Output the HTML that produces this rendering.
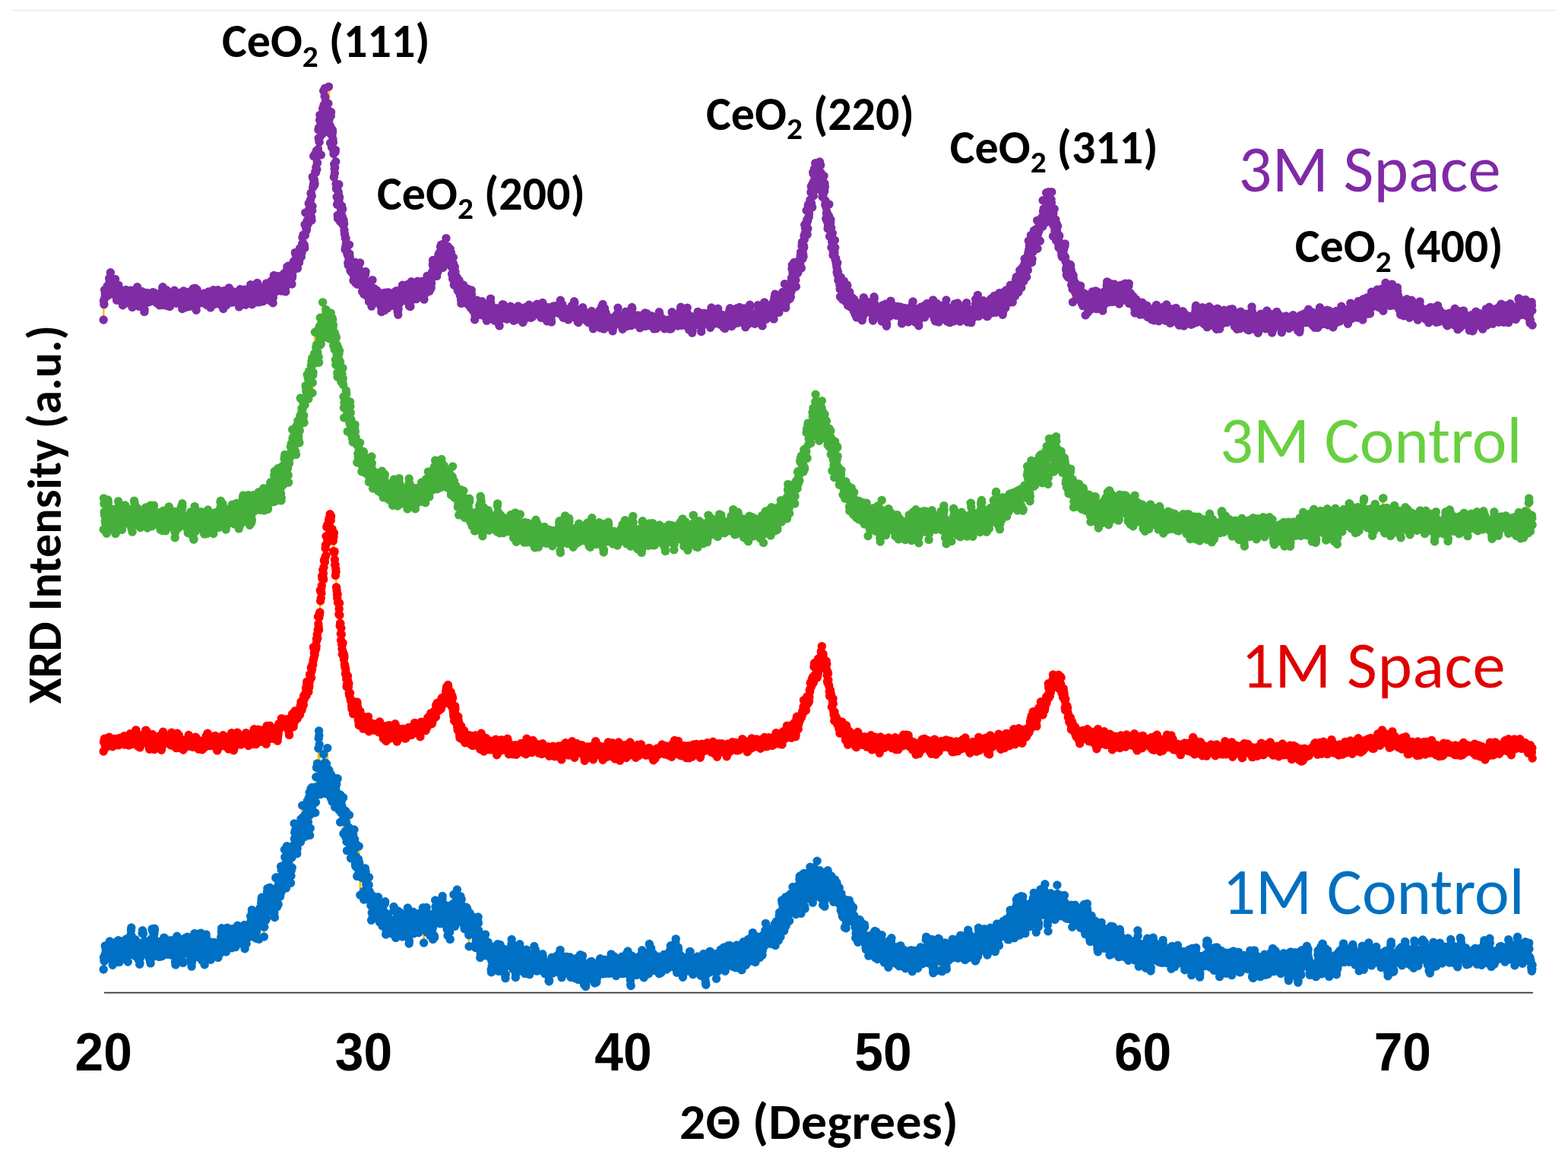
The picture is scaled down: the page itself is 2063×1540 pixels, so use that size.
<!DOCTYPE html>
<html><head><meta charset="utf-8"><title>XRD</title>
<style>html,body{margin:0;padding:0;background:#fff;overflow:hidden}svg{display:block}</style>
</head><body>
<svg width="2063" height="1540" viewBox="0 0 2063 1540">
<rect width="2063" height="1540" fill="#fff"/>
<line x1="14" y1="13.5" x2="2048" y2="13.5" stroke="#e6e6e6" stroke-width="1.2"/>
<path transform="scale(.1)" d="M1362 12760L1365 12602M1379 12570L1383 12449M1478 12562L1482 12702M1512 12671L1516 12561M1564 12515L1567 12629M1570 12664L1574 12504M1666 12386L1670 12536M1714 12480L1717 12367M1731 12317L1735 12513M1741 12515L1745 12385M1752 12367L1755 12490M1813 12461L1817 12590M1823 12538L1827 12423M1830 12432L1834 12595M1868 12449L1871 12284M1895 12525L1899 12400M1960 12501L1964 12615M1974 12544L1977 12660M1991 12520L1994 12376M1998 12352L2001 12228M2008 12361L2011 12482M2035 12245L2039 12512M2070 12450L2073 12565M2104 12444L2107 12576M2128 12464L2131 12575M2169 12514L2172 12381M2175 12356L2179 12483M2254 12378L2258 12491M2275 12450L2278 12580M2281 12532L2285 12399M2302 12471L2305 12662M2316 12643L2319 12513M2319 12513L2322 12340M2350 12436L2353 12584M2374 12556L2377 12444M2404 12529L2408 12674M2411 12659L2415 12532M2459 12484L2463 12350M2548 12450L2551 12321M2562 12334L2565 12482M2603 12477L2606 12333M2616 12378L2620 12524M2630 12460L2633 12332M2647 12333L2651 12470M2678 12355L2681 12496M2692 12698L2695 12554M2702 12493L2705 12327M2770 12508L2774 12632M2777 12618L2780 12500M2818 12404L2821 12530M2917 12217L2921 12409M2924 12402L2927 12278M2938 12428L2941 12286M2951 12304L2955 12430M2958 12399L2962 12270M2962 12270L2965 12435M2975 12529L2979 12328M3009 12351L3013 12221M3054 12404L3057 12246M3061 12227L3064 12379M3095 12283L3098 12466M3109 12380L3112 12202M3112 12202L3115 12320M3122 12342L3126 12183M3133 12188L3136 12351M3150 12286L3153 12419M3160 12346L3163 12229M3201 12326L3204 12193M3204 12193L3208 12362M3208 12362L3211 12250M3218 12255L3221 12487M3221 12487L3225 12336M3228 12384L3232 12255M3293 12252L3297 12059M3300 12125L3303 12304M3307 12253L3310 12069M3317 12006L3321 12288M3341 12275L3344 12156M3365 12094L3368 12257M3375 12266L3379 12091M3389 12163L3392 12016M3406 12074L3409 12363M3409 12363L3413 12194M3416 12138L3420 11950M3430 11984L3433 12130M3433 12130L3437 11884M3444 11812L3447 12111M3457 12134L3461 11973M3464 12004L3467 12135M3471 12202L3474 12330M3474 12330L3478 12201M3478 12201L3481 11899M3481 11899L3485 12030M3512 12001L3515 11743M3519 11695L3522 11890M3529 11873L3532 11986M3532 11986L3536 11844M3546 11856L3550 11682M3550 11682L3553 11800M3553 11800L3556 11949M3563 11965L3567 11792M3570 11739L3573 11865M3577 11895L3580 11755M3594 11917L3597 11778M3604 11704L3608 12019M3611 11961L3614 12075M3614 12075L3618 11963M3621 11900L3625 11776M3625 11776L3628 11554M3628 11554L3632 11692M3632 11692L3635 11548M3635 11548L3638 11738M3642 11736L3645 11937M3649 11926L3652 11771M3655 11702L3659 11910M3662 11903L3666 11617M3690 11768L3693 11543M3693 11543L3696 11405M3696 11405L3700 11571M3700 11571L3703 11453M3703 11453L3707 11729M3707 11729L3710 11615M3727 11660L3731 11489M3741 11503L3744 11182M3761 11506L3765 11689M3765 11689L3768 11486M3768 11486L3772 11355M3772 11355L3775 11136M3775 11136L3779 11372M3782 11383L3785 11599M3785 11599L3789 11459M3789 11459L3792 11339M3796 11360L3799 11231M3806 11258L3809 11488M3809 11488L3813 11270M3813 11270L3816 11441M3823 11409L3826 11622M3833 11458L3837 11288M3840 11288L3843 11420M3843 11420L3847 11214M3861 11238L3864 11125M3867 11151L3871 10840M3871 10840L3874 11040M3878 10959L3881 11089M3881 11089L3884 10931M3902 10993L3905 11227M3915 11097L3919 10946M3919 10946L3922 11079M3943 10970L3946 10858M3949 10869L3953 11066M3956 11081L3960 10781M3960 10781L3963 10914M3973 10816L3977 10603M3977 10603L3980 10827M3984 10757L3987 11011M4001 10805L4004 11016M4004 11016L4008 10736M4008 10736L4011 10898M4011 10898L4014 10783M4018 10721L4021 10857M4028 11003L4031 10602M4031 10602L4035 10712M4052 10634L4055 10821M4055 10821L4059 10559M4062 10502L4066 10667M4069 10679L4072 10431M4072 10431L4076 10994M4076 10994L4079 10727M4079 10727L4083 10903M4083 10903L4086 10482M4093 10489L4096 10656M4096 10656L4100 10509M4100 10509L4103 10365M4110 10379L4113 10601M4113 10601L4117 10448M4117 10448L4120 10580M4141 10543L4144 10362M4144 10362L4148 10698M4148 10698L4151 10477M4155 10560L4158 10228M4158 10228L4161 10395M4161 10395L4165 10104M4165 10104L4168 10385M4172 10464L4175 10049M4178 10062L4182 10404M4185 10406L4189 9850M4189 9850L4192 9720M4199 9680L4202 9800M4202 9800L4206 10090M4206 10090L4209 10331M4223 10303L4226 10169M4226 10169L4230 10293M4233 10330L4237 10197M4237 10197L4240 10336M4243 10328L4247 10191M4250 10116L4254 10327M4254 10327L4257 9927M4257 9927L4260 10165M4264 10080L4267 10197M4267 10197L4271 10425M4271 10425L4274 10037M4274 10037L4278 10346M4281 10359L4284 10225M4288 10181L4291 10448M4291 10448L4295 10053M4295 10053L4298 10358M4298 10358L4301 10182M4301 10182L4305 10336M4305 10336L4308 9846M4308 9846L4312 10355M4312 10355L4315 10244M4319 10265L4322 10129M4322 10129L4325 10372M4325 10372L4329 10137M4329 10137L4332 10338M4339 10266L4342 10477M4346 10480L4349 10331M4349 10331L4353 10191M4353 10191L4356 10512M4356 10512L4360 10208M4366 10283L4370 10551M4370 10551L4373 10378M4384 10548L4387 10400M4390 10477L4394 10305M4394 10305L4397 10427M4404 10491L4407 10624M4411 10602L4414 10421M4418 10366L4421 10247M4428 10323L4431 10546M4438 10465L4442 10247M4442 10247L4445 10443M4459 10515L4462 10665M4462 10665L4466 10475M4466 10475L4469 10597M4472 10628L4476 10822M4476 10822L4479 10463M4479 10463L4483 10629M4489 10699L4493 10542M4503 10802L4507 10674M4510 10642L4513 10810M4513 10810L4517 10498M4517 10498L4520 10974M4520 10974L4524 10801M4541 10703L4544 10940M4548 11016L4551 10677M4554 10714L4558 10832M4558 10832L4561 11079M4561 11079L4565 11196M4565 11196L4568 11042M4572 10944L4575 11055M4578 11070L4582 11197M4582 11197L4585 11046M4585 11046L4589 11183M4589 11183L4592 10894M4592 10894L4595 10728M4595 10728L4599 11105M4613 10976L4616 11296M4616 11296L4619 11066M4633 11133L4636 11260M4636 11260L4640 11058M4643 11109L4647 10988M4647 10988L4650 11201M4657 11087L4660 10920M4660 10920L4664 11104M4667 11048L4671 11169M4671 11169L4674 11379M4691 11393L4695 11120M4695 11120L4698 11534M4718 11375L4722 11139M4722 11139L4725 11347M4729 11366L4732 11497M4736 11519L4739 11781M4739 11781L4742 11480M4780 11507L4783 11733M4794 11829L4797 11545M4801 11563L4804 11429M4814 11517L4818 11641M4821 11650L4824 11762M4828 11833L4831 11638M4855 11547L4859 11730M4876 11762L4879 11918M4879 11918L4883 11789M4883 11789L4886 12112M4886 12112L4889 11929M4893 12012L4896 11816M4896 11816L4900 12072M4913 11959L4917 12085M4917 12085L4920 11854M4947 12033L4951 11901M4958 11995L4961 11873M4975 11808L4978 12022M4995 12140L4999 11954M4999 11954L5002 12082M5026 11962L5030 12187M5033 12111L5036 11944M5043 11990L5047 12175M5047 12175L5050 12043M5060 12065L5064 11893M5067 11868L5071 12093M5074 12175L5077 12300M5088 12203L5091 12049M5176 12183L5180 11935M5187 11952L5190 12208M5194 12142L5197 12282M5204 12175L5207 12345M5207 12345L5211 12187M5214 12206L5218 12095M5286 12047L5289 12181M5296 12330L5300 12099M5306 12282L5310 12134M5323 12148L5327 12315M5330 12224L5334 12082M5361 12066L5364 11950M5371 12031L5375 12152M5375 12152L5378 12337M5385 12387L5388 12255M5392 12249L5395 12130M5402 12238L5405 12081M5405 12081L5409 12226M5433 12206L5436 12003M5436 12003L5440 12289M5440 12289L5443 12026M5450 12080L5453 12217M5470 12044L5474 12165M5477 12072L5481 12207M5494 12101L5498 12233M5511 12261L5515 12043M5546 12113L5549 12232M5559 12076L5563 12197M5563 12197L5566 11946M5566 11946L5570 12200M5573 12230L5576 12410M5576 12410L5580 12222M5580 12222L5583 12014M5590 12056L5593 12212M5611 11945L5614 12084M5614 12084L5617 12272M5621 12226L5624 12107M5634 12239L5638 12029M5658 12138L5662 12320M5662 12320L5665 12063M5679 12176L5682 12064M5686 12089L5689 12230M5693 12202L5696 12364M5696 12364L5699 12194M5710 12156L5713 12315M5717 12338L5720 12058M5723 12009L5727 11850M5730 11936L5734 12092M5740 12133L5744 11980M5747 11940L5751 12066M5758 12078L5761 11882M5792 12157L5795 12007M5799 12034L5802 11921M5822 11795L5826 12125M5829 12133L5833 11914M5843 11963L5846 12163M5846 12163L5850 12033M5877 12093L5881 12231M5887 12137L5891 12314M5891 12314L5894 12027M5911 11925L5915 12180M5922 12364L5925 12093M5966 11891L5969 11775M5969 11775L5973 11948M5973 11948L5976 12083M5983 12072L5987 12192M5997 12130L6000 11962M6010 11885L6014 11710M6014 11710L6017 11978M6034 11855L6038 11978M6045 11936L6048 11795M6051 11824L6055 12018M6055 12018L6058 11796M6079 11998L6082 12117M6106 12059L6110 12213M6116 12189L6120 11989M6120 11989L6123 12148M6134 12081L6137 11942M6147 11960L6151 12160M6161 12131L6164 12268M6168 12308L6171 12458M6171 12458L6175 12275M6175 12275L6178 12050M6181 12017L6185 12140M6192 12175L6195 12296M6222 12094L6226 12267M6250 12314L6253 12434M6257 12474L6260 12284M6270 12401L6274 12260M6277 12270L6281 12382M6281 12382L6284 12242M6284 12242L6287 12125M6315 12415L6318 12605M6356 12535L6359 12407M6363 12466L6366 12346M6369 12441L6373 12319M6386 12300L6390 12462M6390 12462L6393 12578M6400 12578L6404 12412M6421 12401L6424 12531M6458 12617L6462 12763M6465 12797L6468 12644M6486 12753L6489 12581M6489 12581L6492 12463M6544 12577L6547 12427M6557 12603L6561 12784M6568 12711L6571 12579M6585 12541L6588 12665M6626 12769L6629 12655M6636 12493L6639 12624M6639 12624L6643 12735M6653 12826L6656 12675M6656 12675L6660 12554M6735 12418L6739 12541M6780 12717L6783 12864M6790 12796L6793 12682M6841 12511L6844 12664M6851 12653L6855 12490M6858 12545L6862 12675M6916 12675L6920 12559M6981 12685L6985 12565M7022 12660L7026 12542M7132 12693L7135 12581M7354 12679L7357 12801M7361 12720L7364 12602M7374 12585L7378 12721M7453 12604L7456 12723M7504 12663L7508 12774M7514 12760L7518 12636M7709 12964L7713 12799M7815 12753L7819 12874M7890 12770L7894 12633M8020 12802L8024 12675M8174 12752L8177 12619M8181 12592L8184 12759M8263 12582L8266 12727M8301 12975L8304 12820M8318 12582L8321 12700M8359 12772L8362 12656M8365 12606L8369 12722M8376 12835L8379 12703M8434 12708L8437 12823M8441 12750L8444 12591M8465 12637L8468 12773M8475 12855L8478 12744M8536 12767L8540 12593M8540 12593L8543 12425M8567 12482L8571 12612M8584 12775L8588 12605M8653 12589L8656 12710M8823 12448L8827 12559M8858 12607L8861 12730M8878 12679L8882 12485M8895 12466L8899 12650M8912 12664L8916 12552M8926 12500L8929 12657M8933 12745L8936 12624M9073 12660L9076 12524M9087 12645L9090 12791M9251 12724L9254 12598M9288 12963L9292 12796M9336 12649L9340 12521M9346 12668L9350 12792M9394 12594L9398 12762M9418 12615L9422 12797M9425 12883L9428 12703M9428 12703L9432 12556M9435 12559L9439 12742M9528 12500L9531 12686M9548 12728L9552 12606M9562 12684L9565 12518M9599 12567L9603 12445M9634 12550L9637 12708M9688 12702L9692 12515M9705 12496L9709 12612M9740 12597L9743 12709M9760 12767L9763 12620M9880 12649L9883 12465M9890 12478L9893 12644M9893 12644L9897 12416M9910 12410L9914 12537M9938 12665L9941 12532M9948 12488L9951 12327M9965 12546L9969 12430M9992 12485L9996 12604M9999 12570L10003 12419M10006 12330L10010 12539M10033 12513L10037 12375M10064 12367L10068 12246M10071 12315L10074 12154M10074 12154L10078 12284M10078 12284L10081 12401M10088 12424L10092 12274M10160 12357L10163 12223M10180 12430L10184 12298M10187 12280L10191 12162M10198 12295L10201 12444M10201 12444L10204 12324M10211 12403L10215 12129M10235 12293L10239 12133M10239 12133L10242 12380M10242 12380L10245 12159M10259 12116L10262 12252M10273 12231L10276 12091M10283 12018L10286 11850M10290 11884L10293 12144M10297 12059L10300 11935M10300 11935L10303 12125M10327 12087L10331 11955M10334 11988L10338 11806M10338 11806L10341 12186M10362 11951L10365 12067M10365 12067L10368 11914M10382 11893L10386 12121M10386 12121L10389 11923M10392 11925L10396 11770M10396 11770L10399 11919M10406 11805L10409 11926M10420 11936L10423 11781M10427 11812L10430 11675M10430 11675L10433 12003M10440 11894L10444 11773M10495 11898L10498 11658M10515 11740L10519 11574M10526 11568L10529 11878M10536 11827L10539 12024M10539 12024L10543 11898M10543 11898L10546 11765M10550 11661L10553 11514M10553 11514L10556 11696M10563 11716L10567 11572M10570 11521L10574 11786M10574 11786L10577 11495M10580 11601L10584 11735M10584 11735L10587 11934M10591 11960L10594 11771M10594 11771L10597 11559M10611 11672L10615 11495M10615 11495L10618 11618M10618 11618L10621 11830M10621 11830L10625 11714M10628 11707L10632 11527M10652 11667L10656 11782M10656 11782L10659 11413M10659 11413L10662 11642M10683 11619L10686 11743M10686 11743L10690 11861M10697 11800L10700 11503M10707 11559L10710 11418M10710 11418L10714 11538M10714 11538L10717 11731M10717 11731L10720 11606M10724 11556L10727 11803M10727 11803L10731 11476M10731 11476L10734 11672M10734 11672L10738 11536M10748 11494L10751 11333M10751 11333L10755 11471M10765 11485L10768 11630M10772 11589L10775 11459M10799 11577L10803 11825M10806 11803L10809 11613M10809 11613L10813 11735M10816 11703L10820 11490M10820 11490L10823 11825M10850 11931L10854 11714M10857 11759L10861 11639M10878 11766L10881 11626M10888 11648L10891 11458M10895 11500L10898 11777M10898 11777L10902 11621M10902 11621L10905 11505M10905 11505L10908 11643M10908 11643L10912 11531M10919 11641L10922 11759M10926 11809L10929 11691M10929 11691L10932 11553M10932 11553L10936 11771M10936 11771L10939 11532M10953 11729L10956 11595M10956 11595L10960 11735M10967 11873L10970 11724M10984 11576L10987 11809M10994 11643L10997 11763M11004 11730L11008 11616M11008 11616L11011 11751M11014 11770L11018 11654M11028 11680L11032 11792M11035 11761L11038 11886M11038 11886L11042 11686M11045 11776L11049 11907M11062 11983L11066 11845M11069 11761L11073 12007M11073 12007L11076 11813M11079 11836L11083 12058M11093 12040L11096 11903M11110 11895L11114 12207M11117 12208L11120 12070M11120 12070L11124 12191M11155 12058L11158 11937M11158 11937L11161 12094M11165 12124L11168 11926M11178 11894L11182 12043M11192 12022L11196 11909M11196 11909L11199 12033M11206 12128L11209 11949M11209 11949L11213 12059M11226 11945L11230 12087M11254 12131L11257 12347M11291 12355L11295 12223M11319 12195L11322 12313M11339 12327L11343 12152M11377 12202L11380 12322M11425 12395L11428 12581M11428 12581L11431 12466M11435 12484L11438 12324M11466 12399L11469 12540M11486 12521L11490 12294M11510 12255L11513 12449M11513 12449L11517 12606M11520 12503L11524 12362M11537 12319L11541 12469M11541 12469L11544 12625M11582 12341L11585 12456M11585 12456L11589 12585M11626 12400L11630 12548M11630 12548L11633 12669M11633 12669L11637 12507M11640 12532L11643 12417M11688 12732L11691 12570M11695 12544L11698 12381M11732 12441L11736 12628M11773 12678L11777 12564M11787 12583L11790 12468M11804 12558L11807 12694M11807 12694L11811 12561M11907 12534L11910 12725M11934 12570L11937 12683M11941 12731L11944 12595M11975 12721L11978 12572M11989 12534L11992 12645M11999 12633L12002 12786M12019 12670L12023 12554M12040 12515L12043 12645M12077 12700L12081 12587M12125 12531L12129 12684M12180 12490L12183 12369M12190 12346L12194 12464M12194 12464L12197 12657M12238 12562L12241 12686M12259 12364L12262 12521M12286 12711L12289 12592M12358 12375L12361 12608M12361 12608L12365 12777M12368 12777L12371 12653M12388 12496L12392 12653M12392 12653L12395 12786M12395 12786L12399 12637M12399 12637L12402 12502M12423 12615L12426 12438M12447 12558L12450 12729M12532 12362L12535 12481M12607 12564L12611 12439M12638 12311L12641 12491M12689 12408L12693 12536M12727 12499L12730 12285M12761 12425L12764 12600M12826 12398L12829 12554M12850 12517L12853 12390M12857 12407L12860 12558M12867 12586L12870 12384M12870 12384L12874 12213M12898 12495L12901 12308M12976 12445L12980 12309M12980 12309L12983 12420M12983 12420L12987 12540M12993 12558L12997 12444M13000 12525L13004 12385M13017 12461L13021 12346M13062 12220L13065 12338M13117 12160L13120 12286M13130 12442L13134 12317M13137 12271L13140 12430M13144 12446L13147 12283M13147 12283L13151 12168M13154 12175L13158 12336M13158 12336L13161 12190M13236 12234L13240 12098M13253 12184L13257 12352M13260 12366L13263 12250M13274 12367L13277 12227M13287 12159L13291 11979M13311 12251L13315 12133M13322 11978L13325 12100M13346 12346L13349 12227M13356 12302L13359 12156M13359 12156L13363 12016M13376 11904L13380 12038M13383 12041L13387 11868M13397 11821L13400 12010M13404 11933L13407 12175M13410 12175L13414 12310M13417 12212L13421 12099M13431 12128L13434 11796M13434 11796L13438 12101M13441 12154L13445 12013M13455 11919L13458 11803M13462 11873L13465 12076M13469 12034L13472 11913M13472 11913L13475 12030M13475 12030L13479 12147M13486 12118L13489 12286M13530 12111L13533 11978M13544 12035L13547 11898M13547 11898L13551 12198M13568 12112L13571 11906M13571 11906L13575 12070M13602 11753L13605 11930M13612 11903L13616 11779M13616 11779L13619 11998M13629 12101L13633 12271M13633 12271L13636 12011M13643 12082L13646 11889M13653 11891L13657 12079M13667 12149L13670 11902M13680 11828L13684 11977M13687 11938L13691 11706M13694 11768L13698 11965M13725 11915L13728 12041M13728 12041L13732 11898M13735 11922L13739 11717M13745 11845L13749 11638M13749 11638L13752 11796M13763 11809L13766 12035M13766 12035L13769 11846M13769 11846L13773 11980M13780 11934L13783 12175M13786 12127L13790 12257M13790 12257L13793 12085M13793 12085L13797 11931M13800 11966L13804 11789M13821 11980L13824 11757M13824 11757L13827 11962M13827 11962L13831 12088M13834 12008L13838 11820M13862 11946L13865 11816M13868 11840L13872 11974M13882 12082L13886 11936M13906 11803L13909 11650M13909 11650L13913 11765M13913 11765L13916 11882M13923 12025L13927 11880M13930 11920L13933 11810M13937 11799L13940 11913M13944 11855L13947 11973M13954 12042L13957 11925M13961 11865L13964 12008M13968 11928L13971 11788M13988 11892L13992 12061M13998 12060L14002 11922M14002 11922L14005 11785M14005 11785L14009 11958M14094 12050L14097 11912M14101 11986L14104 12108M14108 12202L14111 11950M14111 11950L14115 12123M14138 12114L14142 11959M14152 11941L14156 12097M14193 12154L14197 12039M14207 12059L14210 12183M14244 12080L14248 11930M14265 11994L14268 12130M14282 12199L14285 12073M14299 12135L14303 11894M14309 12009L14313 12153M14333 12105L14337 12349M14344 12394L14347 12226M14357 12229L14361 12052M14367 12161L14371 12331M14391 12281L14395 12143M14432 12237L14436 12446M14446 12527L14450 12342M14453 12407L14456 12272M14456 12272L14460 12409M14508 12327L14511 12443M14525 12346L14528 12482M14607 12512L14610 12310M14610 12310L14614 12193M14614 12193L14617 12360M14617 12360L14620 12561M14624 12560L14627 12436M14627 12436L14631 12287M14641 12317L14644 12197M14648 12232L14651 12382M14685 12444L14689 12334M14713 12415L14716 12568M14720 12596L14723 12472M14726 12421L14730 12300M14839 12349L14843 12543M14860 12488L14863 12609M14918 12395L14921 12515M14921 12515L14925 12637M14962 12551L14966 12423M14966 12423L14969 12247M14972 12317L14976 12434M14976 12434L14979 12615M14986 12621L14990 12444M15037 12572L15041 12460M15072 12616L15075 12743M15078 12669L15082 12536M15116 12394L15119 12613M15130 12544L15133 12665M15143 12735L15147 12608M15147 12608L15150 12453M15342 12553L15345 12674M15413 12664L15417 12520M15482 12621L15485 12494M15547 12564L15550 12677M15591 12740L15595 12606M15639 12652L15642 12503M15666 12570L15670 12695M15680 12761L15683 12600M15683 12600L15687 12481M15871 12570L15875 12439M15916 12601L15919 12714M15967 12652L15971 12772M15974 12741L15977 12585M15994 12572L15998 12687M16005 12703L16008 12548M16039 12652L16042 12806M16046 12856L16049 12721M16135 12765L16138 12593M16141 12545L16145 12665M16176 12580L16179 12745M16186 12683L16189 12537M16210 12815L16213 12686M16299 12563L16302 12679M16459 12737L16463 12613M16470 12621L16473 12763M16497 12694L16500 12573M16599 12753L16603 12633M16610 12610L16613 12727M16685 12822L16688 12704M16695 12655L16699 12799M16726 12610L16729 12740M16893 12603L16897 12733M16945 12666L16948 12796M16969 12815L16972 12655M16972 12655L16975 12533M17003 12731L17006 12613M17020 12609L17023 12736M17030 12785L17034 12659M17034 12659L17037 12538M17040 12593L17044 12729M17071 12767L17075 12897M17085 12842L17088 12675M17088 12675L17092 12532M17105 12633L17109 12782M17122 12734L17126 12578M17133 12594L17136 12712M17184 12708L17187 12586M17228 12684L17232 12798M17334 12765L17338 12567M17341 12513L17345 12634M17382 12571L17386 12729M17392 12748L17396 12557M17396 12557L17399 12423M17433 12755L17437 12630M17437 12630L17440 12489M17444 12487L17447 12620M17447 12620L17451 12740M17461 12698L17464 12563M17488 12854L17492 12714M17577 12612L17580 12739M17680 12506L17683 12616M17796 12547L17799 12432M17803 12475L17806 12612M17885 12775L17888 12622M17946 12725L17950 12596M18011 12470L18014 12585M18278 12753L18281 12613M18281 12613L18285 12488M18305 12436L18308 12583M18308 12583L18312 12728M18322 12733L18326 12622M18332 12668L18336 12790M18431 12581L18435 12468M18438 12502L18442 12645M18592 12564L18596 12682M18602 12642L18606 12483M18637 12618L18640 12503M18712 12514L18715 12376M18794 12533L18797 12667M18937 12584L18941 12450M19084 12476L19088 12365M19173 12583L19177 12728M19180 12700L19183 12585M19207 12557L19211 12439M19272 12500L19276 12611M19436 12679L19440 12564M19464 12614L19467 12500M19970 12400L19973 12517M20072 12437L20076 12567" fill="none" stroke="#FFC000" stroke-width="26"/><path transform="scale(.1)" d="M1362 9890L1365 9767M1912 9729L1916 9617M3505 9714L3509 9577M3881 9358L3884 9473M3994 9276L3997 9159M4031 9156L4035 9021M4090 8902L4093 8789M4093 8789L4096 8923M4120 8696L4124 8519M4124 8519L4127 8674M4182 8294L4185 8117M4196 8293L4199 8127M4209 8060L4213 7771M4213 7771L4216 7910M4216 7910L4219 7784M4223 7872L4226 7752M4233 7709L4237 7584M4257 7627L4260 7467M4278 7339L4281 7218M4284 7175L4288 7313M4288 7313L4291 7058M4295 7161L4298 6936M4298 6936L4301 7066M4301 7066L4305 6914M4305 6914L4308 7107M4319 7084L4322 6954M4332 6817L4336 6956M4339 6990L4342 6768M4342 6768L4346 6944M4356 6794L4360 6981M4370 6964L4373 7083M4384 7119L4387 7256M4387 7256L4390 7065M4394 7014L4397 7275M4411 7434L4414 7574M4421 7525L4425 7729M4455 7948L4459 8086M4466 7939L4469 8096M4469 8096L4472 8236M4479 8207L4483 8342M4486 8427L4489 8267M4493 8351L4496 8483M4503 8612L4507 8477M4510 8461L4513 8583M4589 8996L4592 9123M4643 9284L4647 9396M4647 9396L4650 9280M4708 9315L4712 9458M4722 9545L4725 9427M4845 9434L4848 9555M5734 9437L5737 9281M5898 9046L5901 9156M5939 9174L5942 9300M5956 9189L5959 9329M6024 9568L6028 9432M10461 9511L10464 9639M10478 9567L10481 9450M10574 9216L10577 9332M10587 9333L10591 9218M10604 9351L10608 9217M10707 8899L10710 8776M10720 8723L10724 8881M10727 8892L10731 8769M10731 8769L10734 8889M10755 8904L10758 8778M10762 8870L10765 8670M10789 8806L10792 8693M10799 8696L10803 8574M10809 8658L10813 8506M10813 8506L10816 8627M10878 8741L10881 8890M10888 8984L10891 8849M10939 9169L10943 9305M10943 9305L10946 9190M10977 9486L10980 9371M13561 9592L13564 9452M13790 9171L13793 8998M13800 9063L13804 9180M13947 8941L13950 9053M13950 9053L13954 8907M13961 8919L13964 9068M13988 9173L13992 9062M13992 9062L13995 9185M14015 9346L14019 9200M20158 9845L20161 9980" fill="none" stroke="#FFC000" stroke-width="26"/><path transform="scale(.1)" d="M1362 6970L1365 6559M1396 6857L1400 6971M1410 6921L1413 6781M1413 6781L1417 6633M1454 6826L1458 6697M1461 6732L1465 6856M1506 6819L1509 6951M1560 6670L1564 6786M1923 6703L1926 6823M2107 6856L2111 6973M2155 6751L2158 6896M2216 6818L2220 6679M2254 6767L2258 6885M2292 6789L2295 6909M2305 7011L2309 6881M2309 6881L2312 6738M2473 7015L2476 6895M2504 6932L2507 6786M2541 6964L2545 7084M2551 7097L2555 6944M2555 6944L2558 6816M2558 6816L2562 6666M2565 6680L2569 6883M2569 6883L2572 6998M2681 6906L2685 7020M2695 6934L2698 6797M2716 6793L2719 6938M2729 6843L2733 6733M2866 6759L2869 6877M2938 6766L2941 6934M2968 6844L2972 6970M3050 6762L3054 6643M3092 6891L3095 6739M3139 6830L3143 6959M3177 6886L3180 6758M3211 6652L3215 6536M3225 6626L3228 6752M3242 6848L3245 6642M3269 6517L3273 6721M3317 6756L3321 6610M3331 6656L3334 6517M3426 6714L3430 6596M3471 6515L3474 6668M3509 6594L3512 6455M3526 6703L3529 6574M3553 6505L3556 6369M3604 6502L3608 6255M3614 6202L3618 6373M3635 6591L3638 6393M3642 6292L3645 6453M3652 6473L3655 6250M3659 6164L3662 6286M3666 6344L3669 6465M3679 6522L3683 6348M3686 6446L3690 6296M3690 6296L3693 6419M3703 6553L3707 6314M3707 6314L3710 6142M3720 6130L3724 6384M3734 6245L3738 6134M3748 5984L3751 6131M3765 6216L3768 6032M3785 6169L3789 6016M3789 6016L3792 6254M3796 6351L3799 6109M3799 6109L3802 5985M3802 5985L3806 6098M3820 5996L3823 5880M3830 5950L3833 5837M3843 5929L3847 5654M3847 5654L3850 5768M3891 5848L3895 5984M3895 5984L3898 5610M3898 5610L3902 5721M3908 5831L3912 5694M3915 5683L3919 5539M3929 5787L3932 5558M3936 5643L3939 5828M3939 5828L3943 5670M3943 5670L3946 5510M3949 5473L3953 5240M3956 5248L3960 5520M3967 5534L3970 5376M3977 5535L3980 5390M3980 5390L3984 5558M3987 5522L3990 5297M3990 5297L3994 5482M4001 5563L4004 5284M4018 5259L4021 5076M4038 5187L4042 4932M4042 4932L4045 5059M4055 4962L4059 5249M4059 5249L4062 4960M4069 4916L4072 5143M4072 5143L4076 4937M4100 4756L4103 4884M4103 4884L4107 4714M4107 4714L4110 5172M4110 5172L4113 5038M4120 4901L4124 4741M4141 4727L4144 4373M4144 4373L4148 4725M4158 4574L4161 4776M4161 4776L4165 4538M4165 4538L4168 4669M4168 4669L4172 4352M4172 4352L4175 4667M4182 4561L4185 4382M4185 4382L4189 4547M4189 4547L4192 4699M4196 4771L4199 4516M4199 4516L4202 4298M4202 4298L4206 4458M4209 4373L4213 4183M4213 4183L4216 4540M4223 4530L4226 4259M4230 4209L4233 4362M4237 4396L4240 4186M4243 4289L4247 3979M4247 3979L4250 4265M4278 4155L4281 4295M4284 4260L4288 4074M4288 4074L4291 4234M4298 4242L4301 4445M4325 4328L4329 4176M4332 4136L4336 4411M4336 4411L4339 4194M4339 4194L4342 4461M4342 4461L4346 4196M4349 4243L4353 4120M4370 4184L4373 4399M4373 4399L4377 4204M4384 4276L4387 4548M4397 4460L4401 4600M4401 4600L4404 4381M4411 4404L4414 4736M4418 4802L4421 4524M4425 4441L4428 4806M4428 4806L4431 4665M4431 4665L4435 4544M4435 4544L4438 4908M4442 4963L4445 4602M4445 4602L4448 4761M4448 4761L4452 4584M4462 4738L4466 4617M4466 4617L4469 4787M4476 4762L4479 4957M4486 4913L4489 5026M4503 4840L4507 5025M4507 5025L4510 4844M4510 4844L4513 4981M4517 5067L4520 5222M4520 5222L4524 5367M4524 5367L4527 5499M4527 5499L4530 5299M4551 5372L4554 5141M4561 5260L4565 5376M4568 5447L4572 5679M4572 5679L4575 5453M4578 5470L4582 5295M4602 5577L4606 5289M4626 5728L4630 5617M4636 5773L4640 5660M4640 5660L4643 5820M4660 5787L4664 5672M4674 5679L4677 5799M4695 5847L4698 6088M4698 6088L4701 5862M4705 5826L4708 5973M4732 5994L4736 5827M4736 5827L4739 5971M4756 6029L4759 6208M4807 6228L4811 6101M4818 6205L4821 6045M4886 6141L4889 6010M4896 6178L4900 6331M4906 6429L4910 6304M4917 6227L4920 6338M4924 6386L4927 6216M4934 6225L4937 6351M4971 6324L4975 6461M4978 6401L4982 6283M5033 6254L5036 6399M5043 6549L5047 6415M5067 6344L5071 6515M5135 6449L5139 6593M5166 6653L5170 6474M5170 6474L5173 6338M5183 6310L5187 6466M5211 6607L5214 6459M5231 6660L5235 6519M5241 6550L5245 6419M5279 6631L5282 6487M5306 6575L5310 6439M5351 6442L5354 6575M5361 6699L5364 6576M5399 6504L5402 6393M5412 6436L5416 6581M5467 6646L5470 6453M5525 6581L5529 6418M5542 6502L5546 6350M5549 6396L5552 6525M5556 6530L5559 6382M5580 6545L5583 6409M5590 6439L5593 6584M5597 6617L5600 6421M5634 6209L5638 6365M5638 6365L5641 6478M5648 6539L5652 6372M5652 6372L5655 6236M5655 6236L5658 6357M5682 6375L5686 6236M5699 6429L5703 6299M5723 6259L5727 6059M5737 6148L5740 6337M5744 6353L5747 6231M5747 6231L5751 6438M5751 6438L5754 6327M5764 6433L5768 6220M5771 6269L5775 6106M5785 6190L5788 6328M5802 6242L5805 6089M5816 6181L5819 6410M5840 6125L5843 6279M5884 6214L5887 6417M5887 6417L5891 6306M5894 6373L5898 6209M5915 6358L5918 6243M5925 6334L5928 6461M5928 6461L5932 6346M5932 6346L5935 6515M5952 6273L5956 6140M5956 6140L5959 6320M5966 6517L5969 6370M5973 6327L5976 6481M6021 6548L6024 6675M6034 6596L6038 6779M6038 6779L6041 6622M6058 6577L6062 6462M6082 6482L6086 6626M6096 6624L6099 6460M6099 6460L6103 6715M6120 6807L6123 6683M6147 6641L6151 6763M6178 6602L6181 6796M6243 6836L6246 6989M6301 6824L6304 6708M6332 6600L6335 6730M6339 6813L6342 6966M6349 7057L6352 6872M6383 6723L6386 6859M6410 6817L6414 6939M6417 6884L6421 6732M6427 6735L6431 6852M6431 6852L6434 6981M6540 6890L6544 6660M6551 6736L6554 6926M6574 7018L6578 6895M6578 6895L6581 6772M6619 6862L6622 6996M6756 7079L6759 6944M6783 6850L6786 6982M6786 6982L6790 7097M6838 6932L6841 6774M6844 6770L6848 6936M6899 7078L6903 6953M6923 6943L6927 7061M6937 7138L6940 7026M6940 7026L6944 6885M7039 7208L7043 7083M7043 7083L7046 6971M7046 6971L7050 6843M7108 6944L7111 7069M7258 7141L7261 7025M7265 7055L7268 7187M7272 7166L7275 7053M7364 6937L7367 7078M7367 7078L7371 7250M7480 6940L7484 6825M7494 6932L7497 7045M7542 7202L7545 7072M7740 6887L7743 7004M7743 7004L7747 7120M7767 7203L7771 7057M7771 7057L7774 6939M7791 6877L7795 7007M7849 7144L7853 7025M7925 7029L7928 6895M7935 7063L7938 7230M7945 7238L7948 7100M8273 7065L8277 6937M8280 6865L8283 6976M8283 6976L8287 7129M8321 7042L8324 6900M8331 6876L8335 7006M8383 7071L8386 7190M8389 7228L8393 7106M8393 7106L8396 6990M8413 6978L8417 7089M8444 7247L8448 7027M8448 7027L8451 6867M8581 7176L8584 7054M8584 7054L8588 6887M8591 6924L8594 7089M8598 7164L8601 7034M8605 7014L8608 7154M8612 7177L8615 7044M8707 7005L8711 7126M8735 7147L8738 6985M8741 6943L8745 7078M8755 7254L8759 7130M8861 7030L8865 7154M8957 6972L8960 7103M9018 6869L9022 6983M9039 6956L9042 7073M9042 7073L9046 7207M9049 7243L9052 7126M9083 7147L9087 7028M9114 7031L9117 6891M9117 6891L9121 6781M9124 6781L9128 6907M9165 7139L9169 7021M9182 7132L9186 7003M9316 6911L9319 6781M9466 6769L9469 6928M9651 6803L9654 6915M9777 6830L9781 6941M9781 6941L9784 7072M9852 7063L9856 6900M9869 6984L9873 6867M9907 6948L9910 7059M9914 6997L9917 6847M9972 6990L9975 6857M9982 6850L9986 6974M10037 6865L10040 7039M10044 7144L10047 7008M10074 6771L10078 6960M10095 6767L10098 6915M10105 6963L10109 6823M10139 7049L10143 6919M10146 6816L10150 6678M10167 6925L10170 6811M10187 6862L10191 6982M10204 6794L10208 6914M10215 6923L10218 6799M10218 6799L10221 6935M10232 6852L10235 6678M10280 6719L10283 6870M10286 6806L10290 6692M10317 6607L10321 6727M10331 6812L10334 6634M10348 6552L10351 6711M10351 6711L10355 6827M10358 6772L10362 6618M10362 6618L10365 6444M10368 6374L10372 6508M10379 6481L10382 6687M10386 6759L10389 6639M10454 6516L10457 6629M10491 6429L10495 6215M10502 6201L10505 6362M10505 6362L10509 6209M10515 6204L10519 6325M10519 6325L10522 6202M10522 6202L10526 6066M10529 6082L10532 6232M10532 6232L10536 6024M10543 6000L10546 6184M10574 6169L10577 5920M10577 5920L10580 6030M10580 6030L10584 6153M10587 6172L10591 6001M10608 5939L10611 5695M10618 5660L10621 6031M10621 6031L10625 5690M10632 5569L10635 5723M10635 5723L10638 5850M10666 5634L10669 5833M10669 5833L10673 5599M10683 5588L10686 5739M10686 5739L10690 5426M10700 5371L10703 5528M10714 5718L10717 5575M10720 5577L10724 5402M10724 5402L10727 5287M10731 5193L10734 5425M10734 5425L10738 5290M10741 5295L10744 5541M10744 5541L10748 5284M10751 5376L10755 5647M10758 5579L10762 5414M10762 5414L10765 5526M10765 5526L10768 5391M10768 5391L10772 5503M10772 5503L10775 5785M10779 5802L10782 5529M10796 5369L10799 5544M10799 5544L10803 5699M10803 5699L10806 5504M10806 5504L10809 5366M10813 5276L10816 5636M10820 5569L10823 5414M10823 5414L10826 5569M10830 5654L10833 5469M10840 5510L10844 5767M10847 5664L10850 5452M10850 5452L10854 5605M10861 5528L10864 5704M10871 5662L10874 5543M10888 5722L10891 5858M10908 5877L10912 5643M10912 5643L10915 5812M10922 5867L10926 5754M10929 5673L10932 5983M10939 5982L10943 5775M10943 5775L10946 5920M10946 5920L10949 6196M10949 6196L10953 5846M10953 5846L10956 5957M10960 5914L10963 6043M10973 6081L10977 6285M10977 6285L10980 6138M10980 6138L10984 5962M10984 5962L10987 5811M10987 5811L10991 6029M10991 6029L10994 6200M10997 6124L11001 6264M11001 6264L11004 6106M11011 6051L11014 5876M11018 5890L11021 6005M11021 6005L11025 6142M11025 6142L11028 6274M11038 6180L11042 6381M11059 6201L11062 6330M11069 6188L11073 6394M11090 6513L11093 6397M11110 6530L11114 6380M11114 6380L11117 6561M11124 6509L11127 6336M11127 6336L11131 6502M11131 6502L11134 6369M11172 6523L11175 6670M11178 6725L11182 6573M11196 6623L11199 6498M11202 6421L11206 6613M11216 6581L11220 6736M11230 6740L11233 6560M11261 6786L11264 6661M11271 6816L11274 6670M11278 6634L11281 6769M11295 6834L11298 6591M11312 6723L11315 6842M11397 6768L11401 6621M11418 6872L11421 7055M11421 7055L11425 6890M11438 6837L11442 6951M11476 6701L11479 6898M11486 6822L11490 6690M11490 6690L11493 6860M11493 6860L11496 6738M11500 6690L11503 6841M11524 6969L11527 6826M11554 6693L11558 6843M11585 7080L11589 6953M11599 6713L11602 6584M11602 6584L11606 6727M11640 6925L11643 6814M11647 6844L11650 6998M11688 6862L11691 6696M11790 7024L11794 6889M11821 7098L11824 6966M11824 6966L11828 6818M11893 6867L11896 6999M11917 7007L11920 6884M11995 7088L11999 6970M12019 6849L12023 7009M12050 6707L12054 6844M12091 7050L12095 6912M12101 6877L12105 7018M12118 6967L12122 6853M12122 6853L12125 6738M12129 6759L12132 6915M12146 6861L12149 6999M12153 6996L12156 6825M12159 6727L12163 6877M12180 6983L12183 6829M12190 6810L12194 6938M12272 6830L12276 6952M12341 6821L12344 6937M12378 6914L12382 6729M12388 6851L12392 6978M12402 6820L12406 6944M12412 6943L12416 6748M12447 7017L12450 7157M12450 7157L12453 7008M12512 6878L12515 7025M12518 7124L12522 6999M12631 6944L12635 7067M12645 6923L12648 6779M12768 6770L12771 6621M12778 6676L12782 6831M12805 6983L12809 6851M12898 6917L12901 6713M13072 6585L13075 6744M13106 6473L13110 6690M13137 6917L13140 6786M13147 6713L13151 6893M13178 6844L13181 6693M13192 6548L13195 6708M13250 6703L13253 6542M13274 6731L13277 6582M13311 6491L13315 6665M13328 6487L13332 6610M13349 6502L13352 6631M13369 6470L13373 6591M13383 6606L13387 6719M13390 6637L13393 6457M13393 6457L13397 6568M13438 6657L13441 6441M13455 6524L13458 6723M13462 6704L13465 6495M13492 6415L13496 6541M13506 6555L13510 6442M13510 6442L13513 6253M13513 6253L13516 6137M13554 6536L13557 6415M13561 6318L13564 6167M13568 6061L13571 6235M13578 6340L13581 6205M13588 6209L13592 6389M13595 6330L13598 6202M13598 6202L13602 6402M13619 6387L13622 6171M13626 6194L13629 6070M13646 6250L13650 6130M13663 6337L13667 6134M13670 6214L13674 6011M13677 6111L13680 6227M13680 6227L13684 6085M13691 6038L13694 6241M13694 6241L13698 5983M13698 5983L13701 6151M13704 6250L13708 6098M13721 6332L13725 6071M13725 6071L13728 6190M13756 5943L13759 6087M13769 6034L13773 5872M13773 5872L13776 6128M13786 6171L13790 6372M13793 6285L13797 5973M13800 5950L13804 5775M13804 5775L13807 5901M13810 5890L13814 6012M13834 6011L13838 5881M13845 5799L13848 5952M13851 5921L13855 5775M13855 5775L13858 5942M13858 5942L13862 5776M13862 5776L13865 6210M13868 6121L13872 5976M13882 5895L13886 6024M13892 6014L13896 5746M13903 5895L13906 6024M13906 6024L13909 6149M13909 6149L13913 5974M13913 5974L13916 6105M13964 5999L13968 6109M13974 6001L13978 6221M13978 6221L13981 6038M13988 6020L13992 6137M14005 6027L14009 6159M14012 6076L14015 6242M14015 6242L14019 6122M14019 6122L14022 6362M14033 6413L14036 6264M14036 6264L14039 6378M14053 6280L14056 6458M14077 6291L14080 6171M14087 6171L14091 6356M14108 6306L14111 6421M14115 6461L14118 6322M14118 6322L14121 6445M14121 6445L14125 6677M14135 6558L14138 6402M14145 6452L14149 6610M14152 6642L14156 6462M14193 6501L14197 6370M14197 6370L14200 6516M14210 6635L14214 6472M14231 6587L14234 6702M14234 6702L14238 6540M14244 6616L14248 6468M14255 6438L14258 6658M14285 6606L14289 6724M14306 6567L14309 6691M14323 6509L14326 6694M14340 6655L14344 6787M14381 6709L14385 6551M14391 6536L14395 6662M14405 6830L14409 6602M14412 6538L14415 6686M14426 6871L14429 6750M14429 6750L14432 6639M14473 6687L14477 6826M14494 6657L14497 6777M14504 6873L14508 6727M14514 6805L14518 6680M14535 6578L14538 6702M14569 6633L14573 6477M14579 6678L14583 6868M14586 6908L14590 6743M14590 6743L14593 6552M14596 6456L14600 6732M14603 6823L14607 6710M14614 6623L14617 6496M14617 6496L14620 6691M14620 6691L14624 6844M14631 6712L14634 6577M14702 6703L14706 6822M14706 6822L14709 6706M14723 6839L14726 6607M14730 6513L14733 6665M14737 6765L14740 6596M14771 6599L14774 6725M14778 6702L14781 6531M14812 6522L14815 6710M14849 6836L14853 6676M14870 6763L14873 6903M14928 6665L14931 6521M14931 6521L14935 6640M14935 6640L14938 6752M14945 6830L14949 6716M14969 6686L14972 6868M14976 6845L14979 6727M15075 6926L15078 6800M15092 6786L15096 6666M15099 6676L15102 6786M15123 6848L15126 6696M15236 6827L15239 6939M15249 6919L15253 6767M15284 6860L15287 6747M15407 6790L15410 6951M15451 6913L15454 6762M15557 6957L15560 6835M15605 6783L15608 6900M15608 6900L15612 7027M15629 7014L15632 6879M15649 6793L15653 6933M15653 6933L15656 7060M15704 6997L15707 6817M15772 6821L15776 6942M15776 6942L15779 7075M15919 6791L15923 6917M15936 6821L15940 6964M15940 6964L15943 7136M15943 7136L15947 7010M15947 7010L15950 6834M15977 7064L15981 6948M16292 6866L16295 7035M16439 6947L16442 7065M16627 6895L16630 7009M16750 6968L16753 7088M16808 7093L16811 6982M16887 6990L16890 6874M16893 6966L16897 7125M16900 7190L16904 7078M17102 6819L17105 6933M17116 7029L17119 6898M17187 6847L17191 6988M17198 7026L17201 6900M17215 6958L17218 6843M17259 7013L17263 7129M17304 6914L17307 7056M17321 7006L17324 6859M17338 6863L17341 6745M17345 6765L17348 6912M17440 6785L17444 6929M17444 6929L17447 7110M17451 7075L17454 6954M17502 6820L17505 6948M17543 7011L17546 6870M17550 6917L17553 7111M17560 7102L17563 6902M17563 6902L17567 6711M17580 6890L17584 6751M17587 6762L17591 6960M17591 6960L17594 7162M17601 7047L17604 6929M17621 6993L17625 6880M17693 6740L17697 6852M17748 6765L17751 6627M17813 6827L17816 6682M17827 6822L17830 6960M17833 7015L17837 6886M17857 6977L17861 6783M17868 6675L17871 6828M17946 6564L17950 6692M17984 6797L17987 6916M18028 6937L18032 6789M18056 7053L18059 6942M18073 6995L18076 6878M18086 6786L18090 6646M18093 6634L18097 6767M18158 6831L18161 6947M18161 6947L18165 6833M18189 6900L18192 6747M18192 6747L18196 6559M18199 6556L18202 6690M18295 7054L18298 6893M18302 6873L18305 6734M18421 6786L18425 6900M18425 6900L18428 7061M18435 6967L18438 6810M18507 6977L18510 6850M18510 6850L18514 6711M18517 6704L18520 6823M18572 6749L18575 6884M18609 6950L18613 6833M18749 7020L18753 6889M18753 6889L18756 6769M18763 6807L18766 6918M18866 6847L18869 6984M18869 6984L18872 7118M18883 6969L18886 6830M19303 6870L19306 6994M19313 6980L19317 6868M19416 6938L19419 6826M19433 6738L19436 6851M19436 6851L19440 6974M19498 6843L19501 6954M19888 6970L19891 6844M20011 7012L20014 6886M20069 6727L20072 6843M20089 6879L20093 6762M20096 6747L20099 6857M20099 6857L20103 6977M20110 6993L20113 6620M20120 6610L20123 6912M20134 6994L20137 6884" fill="none" stroke="#FFC000" stroke-width="26"/><path transform="scale(.1)" d="M1362 4210L1365 3961M1372 3939L1376 3816M1594 3823L1598 3953M1659 3824L1663 3975M1670 3987L1673 3875M1888 3917L1892 4027M2145 3873L2148 3987M2586 4008L2589 3865M2931 3859L2934 3970M2945 3953L2948 3827M3006 3944L3009 3808M3068 3978L3071 3858M3129 3974L3133 3857M3324 3919L3327 3804M3385 3724L3389 3892M3467 3922L3471 3777M3505 3729L3509 3860M3584 3769L3587 3978M3594 3914L3597 3692M3604 3625L3608 3755M3628 3840L3632 3727M3655 3818L3659 3675M3717 3667L3720 3797M3734 3752L3738 3599M3758 3839L3761 3677M3820 3659L3823 3537M3837 3551L3840 3740M3881 3474L3884 3324M3902 3499L3905 3350M3912 3336L3915 3531M3915 3531L3919 3365M3936 3454L3939 3293M3990 3091L3994 3259M4008 3265L4011 2956M4011 2956L4014 3097M4014 3097L4018 2799M4018 2799L4021 2956M4052 2953L4055 2826M4059 2924L4062 2678M4093 2537L4096 2857M4100 2900L4103 2581M4103 2581L4107 2773M4110 2713L4113 2327M4113 2327L4117 2466M4117 2466L4120 2352M4124 2423L4127 2056M4127 2056L4131 2440M4141 2418L4144 2029M4144 2029L4148 2261M4158 2203L4161 2079M4165 1983L4168 2231M4168 2231L4172 2036M4175 2144L4178 2019M4185 1965L4189 1707M4189 1707L4192 1821M4192 1821L4196 1680M4196 1680L4199 1862M4202 1870L4206 1580M4209 1514L4213 1794M4213 1794L4216 1672M4219 1640L4223 2039M4223 2039L4226 1665M4237 1636L4240 1765M4240 1765L4243 1627M4243 1627L4247 1427M4250 1467L4254 1701M4254 1701L4257 1196M4257 1196L4260 1386M4260 1386L4264 1553M4264 1553L4267 1392M4267 1392L4271 1268M4274 1162L4278 1279M4284 1347L4288 1479M4291 1389L4295 1517M4298 1409L4301 1581M4305 1471L4308 1728M4315 1551L4319 1362M4319 1362L4322 1534M4322 1534L4325 1141M4325 1141L4329 1478M4336 1464L4339 1645M4339 1645L4342 1755M4342 1755L4346 1882M4346 1882L4349 1671M4349 1671L4353 1525M4356 1475L4360 1768M4360 1768L4363 1920M4366 1940L4370 1788M4390 2024L4394 2331M4394 2331L4397 2163M4407 2204L4411 2003M4414 1974L4418 2128M4418 2128L4421 2419M4428 2465L4431 2593M4435 2693L4438 2478M4438 2478L4442 2834M4445 2878L4448 2657M4448 2657L4452 2527M4455 2565L4459 2427M4459 2427L4462 2620M4472 2686L4476 2918M4476 2918L4479 2695M4479 2695L4483 2813M4486 2754L4489 2925M4493 2906L4496 2711M4507 2751L4510 2897M4537 3087L4541 3284M4541 3284L4544 3137M4544 3137L4548 3248M4548 3248L4551 3137M4592 3348L4595 3221M4595 3221L4599 3341M4671 3452L4674 3562M4677 3616L4681 3727M4698 3548L4701 3743M4701 3743L4705 3625M4729 3696L4732 3552M4736 3459L4739 3592M4763 3697L4766 3836M4787 3703L4790 3875M4794 3867L4797 3704M4804 3730L4807 3611M4811 3575L4814 3852M4838 3711L4842 3906M4852 3859L4855 3969M4855 3969L4859 3852M4859 3852L4862 3714M4865 3746L4869 3883M4886 3913L4889 4031M4893 3935L4896 3797M4896 3797L4900 3686M4900 3686L4903 3798M4941 3980L4944 3857M5023 4060L5026 3946M5053 3912L5057 4026M5064 4083L5067 3952M5101 4055L5105 3915M5170 3904L5173 4022M5197 3988L5200 3837M5214 3938L5218 3826M5224 3934L5228 4058M5241 4068L5245 3914M5265 3941L5269 3831M5296 3752L5300 3879M5405 3907L5409 3753M5416 3751L5419 3946M5573 3715L5576 3835M5590 3754L5593 3866M5621 3631L5624 3766M5658 3678L5662 3807M5676 3729L5679 3603M5689 3604L5693 3483M5703 3524L5706 3642M5734 3541L5737 3425M5744 3494L5747 3634M5747 3634L5751 3496M5764 3538L5768 3352M5778 3463L5781 3329M5792 3460L5795 3247M5795 3247L5799 3399M5799 3399L5802 3288M5816 3397L5819 3275M5826 3323L5829 3523M5836 3412L5840 3259M5867 3267L5870 3136M5870 3136L5874 3253M5874 3253L5877 3365M5891 3361L5894 3245M5918 3419L5922 3276M5922 3276L5925 3407M5935 3327L5939 3513M5942 3478L5946 3606M5946 3606L5949 3460M5952 3507L5956 3671M5959 3647L5963 3388M5966 3471L5969 3607M5969 3607L5973 3751M5976 3688L5980 3551M5983 3513L5987 3704M5987 3704L5990 3577M6051 3751L6055 3893M6075 3971L6079 3848M6151 3976L6154 3802M6154 3802L6157 3917M6188 3919L6192 4053M6229 4088L6233 3971M6243 4084L6246 4207M6345 4012L6349 4148M7935 4075L7938 4188M7938 4188L7942 4302M7948 4294L7952 4113M8307 4216L8311 4105M8489 4148L8492 4294M9070 4325L9073 4214M9100 4230L9104 4355M9353 4240L9357 4079M9415 4215L9418 4082M9685 4247L9688 4121M9791 4059L9794 4213M9842 4268L9845 4151M9969 4153L9972 4018M9979 4095L9982 4224M10057 3979L10061 4120M10174 4036L10177 4155M10180 4199L10184 4053M10184 4053L10187 3938M10198 3872L10201 3984M10242 3895L10245 4055M10321 3931L10324 3738M10324 3738L10327 3891M10327 3891L10331 4015M10382 3740L10386 3856M10409 3842L10413 3671M10416 3656L10420 3541M10423 3487L10427 3801M10427 3801L10430 3593M10447 3455L10450 3662M10461 3655L10464 3769M10471 3592L10474 3773M10474 3773L10478 3589M10478 3589L10481 3451M10529 3490L10532 3364M10539 3417L10543 3529M10543 3529L10546 3417M10546 3417L10550 3237M10556 3185L10560 3405M10560 3405L10563 3293M10570 3377L10574 3236M10577 3256L10580 3104M10584 3151L10587 2960M10587 2960L10591 3071M10601 3074L10604 2939M10608 3010L10611 2770M10611 2770L10615 2937M10618 2893L10621 3086M10621 3086L10625 2910M10628 3009L10632 2705M10632 2705L10635 2865M10635 2865L10638 2687M10638 2687L10642 2859M10666 2660L10669 2531M10673 2452L10676 2680M10676 2680L10679 2478M10683 2435L10686 2729M10686 2729L10690 2477M10693 2416L10697 2267M10700 2288L10703 2578M10703 2578L10707 2385M10710 2484L10714 2222M10714 2222L10717 2434M10724 2295L10727 2148M10727 2148L10731 2452M10731 2452L10734 2310M10741 2429L10744 2190M10744 2190L10748 2437M10758 2382L10762 2180M10772 2264L10775 2492M10782 2463L10785 2130M10785 2130L10789 2406M10789 2406L10792 2167M10799 2271L10803 2485M10830 2565L10833 2398M10833 2398L10837 2530M10837 2530L10840 2315M10840 2315L10844 2512M10854 2461L10857 2695M10864 2702L10867 2881M10867 2881L10871 2729M10888 2818L10891 3009M10902 2963L10905 2843M10905 2843L10908 2689M10908 2689L10912 2931M10912 2931L10915 3112M10915 3112L10919 2911M10929 2890L10932 3085M10936 2995L10939 3257M10939 3257L10943 3104M10953 3068L10956 3221M10956 3221L10960 3359M10980 3333L10984 3162M10987 3257L10991 3423M11018 3461L11021 3618M11055 3906L11059 3746M11066 3689L11069 3819M11073 3903L11076 3780M11076 3780L11079 3898M11083 3799L11086 3943M11086 3943L11090 3792M11100 3833L11103 3699M11103 3699L11107 3830M11131 3955L11134 3835M11148 3761L11151 3935M11178 3844L11182 3985M11233 4062L11237 3941M11291 4012L11295 4135M11496 4018L11500 3907M12283 3991L12286 4161M12453 4034L12457 4145M12460 4230L12464 4084M12604 4010L12607 4136M12717 3986L12720 4097M12730 4239L12734 4119M12829 4126L12833 4007M13034 4045L13038 3932M13045 3936L13048 4084M13134 4074L13137 3952M13164 3866L13168 3981M13199 4095L13202 3936M13222 3845L13226 3993M13301 3777L13304 3907M13352 3785L13356 3897M13363 3853L13366 3680M13369 3770L13373 3645M13380 3664L13383 3792M13438 3785L13441 3565M13445 3671L13448 3525M13469 3702L13472 3555M13475 3647L13479 3472M13482 3405L13486 3572M13503 3499L13506 3646M13506 3646L13510 3439M13523 3556L13527 3340M13530 3325L13533 3170M13533 3170L13537 3288M13537 3288L13540 3425M13540 3425L13544 3229M13564 3095L13568 3257M13568 3257L13571 3395M13575 3454L13578 3267M13578 3267L13581 3411M13581 3411L13585 3281M13588 3316L13592 3169M13602 3271L13605 3034M13622 3023L13626 3222M13626 3222L13629 3019M13629 3019L13633 3146M13643 3032L13646 2902M13646 2902L13650 3273M13650 3273L13653 3144M13670 3040L13674 3162M13674 3162L13677 3002M13680 2978L13684 3173M13684 3173L13687 2907M13718 2982L13721 2638M13721 2638L13725 2782M13732 2749L13735 2860M13745 2936L13749 2749M13763 2771L13766 2538M13766 2538L13769 2764M13783 2842L13786 2725M13797 2528L13800 2804M13804 2884L13807 2737M13807 2737L13810 2919M13814 2853L13817 2663M13817 2663L13821 2811M13827 2782L13831 2627M13834 2670L13838 2527M13838 2527L13841 2838M13851 2899L13855 3110M13855 3110L13858 2814M13858 2814L13862 2970M13868 2982L13872 2750M13872 2750L13875 2912M13875 2912L13879 3037M13889 2891L13892 3019M13892 3019L13896 3164M13899 3135L13903 2947M13913 3092L13916 2976M13916 2976L13920 3171M13923 3091L13927 3221M13933 3230L13937 3104M14005 3367L14009 3242M14012 3209L14015 3384M14033 3618L14036 3503M14039 3489L14043 3638M14094 3628L14097 3751M14104 3599L14108 3732M14111 3804L14115 3976M14115 3976L14118 3684M14149 3840L14152 3728M14203 3947L14207 3797M14217 3762L14221 3872M14234 3996L14238 3869M14279 3991L14282 4149M14282 4149L14285 3993M14309 3991L14313 4112M14429 4066L14432 3943M14508 4090L14511 3966M14535 3834L14538 3955M14627 3847L14631 3974M14651 3965L14655 3757M14668 3782L14672 3964M14726 4000L14730 3859M14737 3930L14740 3798M14802 3732L14805 3854M14853 3732L14856 3994M14949 3943L14952 4060M15342 4186L15345 4067M15813 4202L15817 4081M16729 4178L16733 4359M17539 4307L17543 4189M17550 4241L17553 4110M17676 4070L17680 4182M17768 3991L17772 4112M17868 4099L17871 3965M17874 4003L17878 4120M17929 4210L17932 3997M17956 4001L17960 4134M17967 4065L17970 3941M17994 3978L17997 4133M18042 3968L18045 3843M18049 3933L18052 4045M18110 3978L18114 3852M18141 3915L18144 4046M18185 3850L18189 3982M18199 4092L18202 3927M18247 3845L18250 3964M18261 3990L18264 3862M18288 4025L18291 3901M18332 4020L18336 3880M18920 4083L18924 4196M19132 4207L19136 4084M19183 4254L19187 4134M19635 4110L19638 4228M19874 4019L19877 4156M19976 4051L19980 3939M20021 4024L20024 4143M20134 4212L20137 4080M20158 4088L20161 4280" fill="none" stroke="#FFC000" stroke-width="26"/>
<path transform="scale(.1)" d="M1362 12760h0m3-158h0m4 41h0m3 10h0m4-26h0m3-57h0m4-121h0m3 15h0m3 1h0m4 56h0m3 17h0m4-3h0m3-63h0m3 68h0m4 43h0m3-43h0m4-42h0m3 11h0m4 82h0m3 20h0m3-43h0m4-82h0m3-69h0m4 34h0m3-61h0m3 75h0m4 7h0m3 50h0m4 28h0m3-18h0m4-24h0m3-51h0m3 33h0m4 5h0m3 67h0m4 140h0m3-32h0m3-85h0m4-17h0m3 26h0m4-31h0m3-72h0m4 22h0m3 90h0m3 68h0m4-110h0m3-26h0m4-89h0m3-22h0m3-26h0m4 12h0m3 39h0m4-24h0m3-16h0m4 20h0m3 65h0m3-57h0m4-60h0m3 71h0m4 67h0m3 114h0m3 35h0m4-160h0m3-70h0m4 48h0m3 7h0m4-50h0m3 16h0m3 77h0m4-44h0m3 10h0m4-45h0m3-64h0m4 7h0m3 2h0m3 83h0m4 95h0m3 33h0m4-10h0m3-50h0m3-20h0m4-93h0m3-14h0m4-25h0m3 10h0m4 44h0m3-8h0m3-21h0m4-63h0m3 27h0m4 150h0m3 32h0m3-31h0m4 27h0m3 96h0m4-85h0m3-70h0m4-40h0m3-87h0m3 32h0m4 42h0m3 27h0m4 58h0m3-57h0m3-113h0m4-64h0m3-59h0m4-34h0m3 107h0m4 196h0m3-52h0m3 54h0m4-130h0m3-24h0m4 6h0m3 123h0m3 15h0m4 8h0m3-40h0m4 105h0m3-57h0m4-78h0m3-61h0m3-15h0m4 44h0m3 28h0m4 95h0m3 8h0m4-4h0m3 62h0m3-90h0m4-68h0m3 19h0m4 129h0m3 37h0m3-89h0m4-115h0m3 9h0m4 163h0m3 97h0m4-16h0m3-79h0m3 3h0m4-6h0m3-59h0m4 45h0m3-7h0m3-72h0m4-52h0m3-165h0m4-36h0m3 5h0m4 31h0m3 7h0m3 108h0m4 97h0m3 29h0m4-125h0m3 32h0m3 56h0m4-40h0m3 62h0m4-49h0m3-69h0m4 38h0m3 65h0m3-60h0m4-16h0m3 41h0m4 33h0m3-4h0m3 0h0m4-76h0m3-26h0m4 18h0m3 96h0m4 114h0m3-45h0m3-36h0m4 10h0m3 116h0m4 19h0m3-83h0m3 21h0m4-97h0m3-144h0m4-24h0m3-124h0m4 25h0m3 108h0m3 121h0m4 39h0m3-87h0m4-58h0m3-72h0m4-17h0m3-66h0m3 24h0m4 267h0m3 72h0m4-72h0m3-86h0m3-43h0m4 19h0m3-9h0m4 31h0m3 42h0m4-16h0m3 115h0m3 9h0m4-13h0m3-100h0m4-5h0m3 76h0m3 62h0m4-88h0m3-59h0m4-3h0m3 132h0m4 15h0m3-14h0m3-80h0m4-108h0m3-1h0m4 76h0m3 111h0m3 10h0m4-25h0m3-14h0m4-52h0m3-47h0m4-59h0m3-35h0m3-12h0m4 91h0m3 70h0m4 12h0m3-133h0m3-25h0m4 127h0m3 42h0m4-55h0m3 27h0m4 65h0m3-24h0m3-20h0m4-87h0m3 15h0m4-45h0m3 99h0m3 56h0m4-88h0m3-40h0m4 49h0m3 29h0m4 12h0m3-16h0m3 7h0m4 59h0m3-40h0m4-106h0m3-44h0m4 113h0m3 25h0m3-58h0m4-57h0m3 26h0m4 23h0m3 130h0m3-48h0m4-133h0m3 34h0m4 104h0m3-26h0m4-52h0m3 12h0m3 191h0m4 35h0m3 2h0m4-56h0m3-130h0m3-173h0m4 13h0m3-31h0m4 109h0m3 16h0m4 77h0m3-43h0m3-87h0m4 42h0m3 148h0m4-34h0m3-70h0m3-29h0m4 98h0m3 44h0m4-37h0m3-112h0m4 23h0m3 71h0m3-97h0m4-15h0m3 80h0m4 63h0m3-63h0m3 23h0m4 145h0m3-15h0m4-127h0m3-47h0m4-47h0m3-53h0m3 72h0m4-108h0m3 42h0m4 47h0m3 68h0m4-19h0m3-7h0m3-25h0m4 34h0m3-5h0m4-134h0m3-19h0m3 31h0m4 36h0m3-3h0m4-12h0m3-21h0m4 105h0m3 106h0m3-84h0m4 31h0m3-18h0m4 57h0m3-70h0m3 26h0m4 107h0m3 52h0m4 47h0m3-51h0m4-45h0m3-1h0m3-14h0m4-30h0m3-17h0m4-4h0m3-109h0m3-129h0m4-4h0m3-29h0m4 46h0m3 148h0m4-82h0m3 11h0m3 20h0m4 17h0m3 96h0m4 28h0m3-105h0m3 45h0m4 86h0m3-44h0m4-77h0m3-144h0m4-41h0m3 14h0m3 72h0m4 146h0m3 56h0m4-17h0m3-103h0m3-128h0m4-40h0m3 94h0m4-104h0m3 51h0m4 137h0m3 96h0m3 77h0m4-86h0m3-58h0m4-65h0m3-26h0m4 50h0m3-103h0m3 141h0m4 47h0m3 90h0m4 65h0m3-144h0m3-102h0m4 41h0m3-166h0m4-13h0m3-15h0m4 50h0m3 89h0m3 70h0m4-29h0m3 42h0m4-31h0m3 95h0m3-57h0m4-32h0m3-31h0m4 29h0m3 48h0m4-32h0m3-77h0m3 12h0m4-45h0m3 108h0m4 124h0m3-14h0m3-118h0m4-69h0m3-17h0m4 31h0m3-7h0m4-3h0m3 1h0m3 14h0m4-45h0m3 42h0m4-36h0m3-7h0m3 126h0m4 6h0m3-109h0m4 24h0m3-6h0m4 34h0m3-52h0m3 16h0m4-22h0m3 12h0m4 61h0m3 32h0m4-14h0m3 13h0m3 79h0m4-47h0m3-89h0m4 30h0m3 34h0m3-64h0m4 40h0m3 10h0m4 31h0m3-85h0m4-20h0m3-103h0m3-14h0m4-64h0m3-46h0m4 192h0m3-7h0m3-124h0m4 35h0m3 65h0m4 50h0m3-142h0m4 61h0m3-59h0m3 16h0m4 126h0m3-31h0m4-129h0m3 165h0m3 56h0m4-8h0m3 46h0m4-201h0m3-97h0m4 42h0m3-60h0m3 4h0m4 24h0m3 70h0m4 30h0m3 30h0m3-20h0m4-130h0m3 72h0m4 22h0m3-61h0m4 59h0m3 26h0m3-17h0m4 24h0m3 62h0m4 44h0m3-26h0m3 52h0m4-74h0m3-158h0m4-19h0m3 152h0m4-58h0m3 33h0m3-63h0m4-13h0m3-42h0m4 83h0m3-21h0m4-9h0m3-6h0m3 183h0m4-40h0m3-27h0m4-19h0m3-178h0m3 118h0m4-46h0m3 68h0m4-159h0m3 43h0m4-38h0m3 163h0m3 28h0m4 18h0m3-27h0m4-84h0m3 133h0m3-70h0m4-3h0m3-117h0m4 22h0m3 82h0m4 36h0m3-19h0m3-45h0m4 45h0m3-4h0m4 24h0m3 37h0m3-10h0m4-71h0m3-133h0m4 169h0m3-112h0m4-75h0m3 80h0m3 232h0m4-151h0m3 48h0m4-129h0m3 34h0m3 99h0m4 34h0m3-59h0m4-32h0m3-32h0m4-44h0m3 34h0m3-11h0m4-37h0m3 20h0m4-35h0m3-9h0m3-23h0m4 40h0m3-50h0m4 93h0m3-25h0m4-193h0m3 66h0m3 179h0m4-51h0m3-184h0m4-93h0m3 30h0m4 282h0m3-88h0m3 99h0m4 32h0m3-99h0m4 88h0m3-45h0m3-119h0m4 28h0m3 55h0m4-83h0m3 19h0m4-39h0m3-42h0m3 163h0m4 96h0m3-87h0m4-175h0m3 14h0m3 0h0m4 58h0m3-147h0m4 2h0m3 20h0m4 30h0m3 6h0m3 289h0m4-169h0m3-56h0m4-188h0m3 8h0m3 2h0m4 24h0m3 146h0m4-246h0m3-47h0m4-25h0m3 299h0m3 38h0m4-100h0m3 85h0m4-161h0m3 31h0m3 131h0m4 67h0m3 128h0m4-129h0m3-302h0m4 131h0m3-58h0m3 20h0m4 37h0m3 84h0m4-39h0m3 0h0m4 8h0m3-81h0m3-258h0m4-48h0m3 195h0m4 18h0m3-35h0m3 113h0m4-142h0m3 51h0m4-14h0m3-25h0m4-174h0m3 118h0m3 149h0m4 7h0m3 9h0m4-173h0m3-53h0m3 126h0m4 30h0m3-140h0m4 3h0m3 2h0m4 71h0m3 86h0m3-139h0m4-38h0m3-36h0m4 315h0m3-58h0m3 114h0m4-112h0m3-63h0m4-124h0m3-222h0m4 138h0m3-144h0m3 190h0m4-2h0m3 201h0m4-11h0m3-155h0m3-69h0m4 208h0m3-7h0m4-286h0m3 80h0m4 9h0m3-43h0m3 105h0m4 32h0m3 1h0m4-33h0m3-225h0m3-138h0m4 166h0m3-118h0m4 276h0m3-114h0m4 12h0m3 10h0m3 60h0m4-40h0m3 3h0m4-171h0m3-64h0m4 89h0m3-11h0m3-321h0m4 101h0m3 91h0m4 21h0m3 102h0m3 9h0m4 183h0m3-203h0m4-131h0m3-219h0m4 236h0m3 11h0m3 216h0m4-140h0m3-120h0m4 21h0m3-129h0m3 66h0m4-39h0m3 230h0m4-218h0m3 171h0m4 11h0m3-43h0m3 213h0m4-92h0m3-72h0m4-170h0m3 0h0m3 132h0m4-206h0m3-29h0m4 74h0m3-30h0m4 9h0m3-113h0m3 26h0m4-311h0m3 200h0m4-81h0m3 130h0m3-158h0m4 99h0m3 22h0m4 20h0m3-49h0m4-30h0m3 234h0m3 9h0m4-70h0m3-69h0m4-151h0m3 133h0m4-55h0m3-11h0m3-28h0m4 79h0m3-67h0m4-27h0m3-112h0m3 11h0m4 197h0m3 15h0m4-300h0m3 133h0m4-21h0m3-23h0m3-54h0m4-213h0m3 224h0m4-70h0m3 254h0m3-107h0m4-21h0m3-21h0m4-57h0m3 211h0m4-280h0m3 162h0m3-115h0m4-62h0m3 136h0m4 100h0m3 46h0m3-401h0m4 110h0m3-59h0m4-108h0m3 67h0m4 48h0m3-26h0m3 187h0m4-262h0m3-57h0m4 165h0m3 12h0m3-248h0m4 563h0m3-267h0m4 176h0m3-421h0m4-100h0m3 107h0m3 167h0m4-147h0m3-144h0m4 2h0m3 12h0m3 222h0m4-153h0m3 132h0m4-49h0m3-68h0m4-51h0m3 11h0m3 57h0m4 63h0m3-181h0m4 336h0m3-221h0m4 83h0m3-332h0m3 167h0m4-291h0m3 281h0m4 79h0m3-415h0m3 13h0m4 342h0m3 2h0m4-556h0m3-130h0m4-100h0m3 60h0m3 120h0m4 290h0m3 241h0m4 74h0m3 51h0m3-50h0m4-103h0m3-134h0m4 124h0m3 37h0m4-133h0m3 139h0m3-8h0m4-137h0m3-75h0m4 211h0m3-400h0m3 238h0m4-85h0m3 117h0m4 228h0m3-388h0m4 309h0m3 13h0m3-134h0m4-44h0m3 267h0m4-395h0m3 305h0m3-176h0m4 154h0m3-490h0m4 509h0m3-111h0m4 21h0m3-136h0m3 243h0m4-235h0m3 201h0m4 13h0m3-85h0m3 211h0m4 3h0m3-149h0m4-140h0m3 321h0m4-304h0m3 61h0m3 14h0m4 268h0m3-173h0m4-11h0m3 78h0m4 103h0m3-148h0m3 77h0m4-172h0m3 122h0m4 28h0m3 36h0m3 133h0m4-22h0m3-181h0m4-55h0m3-119h0m4 66h0m3 10h0m3 223h0m4-102h0m3 21h0m4-218h0m3 196h0m3 81h0m4 12h0m3 2h0m4-23h0m3 150h0m4-190h0m3 122h0m3 31h0m4 194h0m3-359h0m4 166h0m3-4h0m3 74h0m4-157h0m3 58h0m4 104h0m3 98h0m4-128h0m3-32h0m3 168h0m4-312h0m3 476h0m4-173h0m3-30h0m3 7h0m4-51h0m3-58h0m4 34h0m3 237h0m4 76h0m3-339h0m3 37h0m4 118h0m3 247h0m4 117h0m3-154h0m4-98h0m3 111h0m3 15h0m4 127h0m3-151h0m4 137h0m3-289h0m3-166h0m4 377h0m3 4h0m4 18h0m3-77h0m4-74h0m3 320h0m3-230h0m4 36h0m3 62h0m4 58h0m3-89h0m3 127h0m4-202h0m3 51h0m4-121h0m3 213h0m4-74h0m3-40h0m3-167h0m4 184h0m3-56h0m4 121h0m3 210h0m3 22h0m4-15h0m3-110h0m4 13h0m3 104h0m4-273h0m3 414h0m3-107h0m4 93h0m3-101h0m4-32h0m3-80h0m3 68h0m4-236h0m3 208h0m4 19h0m3 131h0m4 22h0m3 262h0m3-301h0m4-24h0m3 12h0m4-18h0m3 76h0m3-7h0m4-4h0m3 42h0m4-19h0m3-6h0m4-26h0m3 1h0m3 226h0m4 107h0m3 1h0m4-12h0m3-284h0m4 18h0m3-134h0m3 62h0m4-19h0m3 45h0m4 124h0m3 9h0m3 112h0m4 71h0m3-195h0m4 87h0m3 98h0m4 13h0m3-92h0m3-7h0m4-89h0m3-101h0m4 183h0m3 4h0m3 68h0m4 45h0m3-67h0m4-18h0m3 156h0m4-129h0m3 323h0m3-183h0m4 83h0m3-196h0m4 256h0m3-49h0m3-88h0m4-5h0m3 29h0m4 126h0m3-231h0m4-51h0m3 92h0m3-20h0m4 95h0m3 28h0m4 23h0m3-10h0m3 22h0m4-132h0m3 14h0m4 80h0m3-122h0m4-13h0m3-8h0m3-10h0m4-34h0m3 214h0m4-15h0m3-26h0m3 91h0m4 12h0m3 56h0m4-186h0m3 128h0m4-29h0m3-79h0m3-37h0m4 63h0m3-74h0m4 39h0m3-3h0m4 225h0m3-76h0m3-167h0m4 96h0m3-50h0m4 185h0m3-132h0m3-43h0m4 69h0m3-4h0m4-172h0m3-25h0m4 225h0m3 82h0m3 125h0m4-45h0m3-110h0m4 58h0m3-154h0m3 11h0m4-10h0m3 76h0m4-94h0m3 63h0m4 33h0m3-18h0m3 57h0m4 105h0m3-106h0m4 12h0m3 41h0m3-104h0m4 71h0m3-79h0m4 73h0m3-6h0m4 10h0m3 88h0m3 20h0m4-76h0m3 9h0m4-33h0m3-35h0m3 26h0m4-248h0m3 42h0m4-25h0m3 256h0m4-66h0m3 140h0m3-62h0m4-45h0m3 170h0m4-158h0m3 19h0m4-111h0m3-65h0m3-10h0m4-28h0m3 39h0m4-42h0m3 62h0m3 109h0m4 86h0m3 27h0m4-27h0m3 6h0m4-39h0m3-101h0m3-60h0m4-39h0m3 21h0m4 18h0m3 33h0m3 33h0m4-71h0m3 134h0m4 95h0m3 54h0m4-231h0m3 100h0m3 83h0m4-148h0m3 5h0m4-43h0m3 86h0m3-34h0m4 167h0m3-91h0m4-142h0m3 26h0m4 28h0m3 64h0m3-41h0m4-97h0m3-33h0m4 17h0m3 20h0m3-116h0m4 58h0m3 23h0m4 121h0m3 185h0m4 83h0m3-33h0m3-132h0m4-6h0m3-119h0m4 11h0m3 97h0m3-157h0m4 145h0m3-24h0m4 20h0m3 29h0m4-12h0m3-48h0m3-18h0m4 33h0m3-203h0m4 286h0m3-263h0m4 21h0m3 33h0m3 137h0m4-84h0m3-52h0m4-46h0m3 17h0m3-8h0m4 121h0m3-93h0m4 135h0m3 6h0m4-80h0m3 45h0m3-77h0m4 132h0m3 1h0m4-58h0m3 101h0m3-16h0m4-218h0m3-15h0m4-9h0m3 48h0m4 93h0m3-75h0m3 74h0m4-62h0m3-27h0m4 43h0m3 119h0m3-84h0m4 2h0m3-74h0m4 121h0m3-251h0m4 254h0m3 30h0m3 180h0m4-188h0m3-208h0m4 101h0m3-59h0m3 156h0m4-46h0m3 9h0m4-80h0m3-109h0m4-41h0m3 139h0m3 188h0m4-46h0m3-119h0m4 93h0m3 26h0m3 13h0m4-210h0m3 20h0m4 85h0m3 21h0m4-52h0m3 0h0m3 35h0m4 182h0m3-257h0m4 78h0m3 42h0m4-14h0m3 7h0m3-112h0m4 25h0m3 141h0m4-28h0m3 162h0m3-170h0m4-64h0m3 13h0m4 13h0m3 159h0m4 23h0m3-280h0m3-49h0m4-159h0m3 86h0m4 156h0m3 51h0m3-10h0m4-153h0m3-40h0m4 126h0m3-11h0m4 23h0m3-196h0m3 74h0m4-76h0m3 79h0m4 6h0m3 101h0m3 2h0m4-20h0m3 29h0m4 80h0m3-150h0m4 27h0m3-113h0m3-79h0m4 47h0m3 45h0m4-2h0m3-99h0m3-38h0m4 330h0m3 8h0m4-219h0m3-20h0m4 102h0m3-33h0m3 200h0m4-130h0m3 5h0m4 0h0m3-29h0m4 71h0m3 1h0m3 75h0m4-53h0m3-10h0m4 138h0m3-103h0m3 9h0m4 177h0m3-287h0m4-86h0m3 69h0m4-85h0m3 8h0m3-8h0m4 255h0m3 86h0m4 98h0m3-271h0m3 15h0m4 22h0m3-94h0m4-31h0m3 21h0m4 103h0m3 16h0m3-81h0m4-35h0m3-101h0m4 0h0m3-37h0m3-116h0m4 173h0m3 135h0m4 8h0m3-19h0m4 120h0m3-27h0m3 8h0m4-43h0m3-168h0m4-6h0m3-108h0m3 37h0m4-175h0m3 268h0m4-96h0m3 87h0m4-61h0m3-53h0m3 0h0m4 123h0m3-99h0m4 57h0m3-141h0m3 29h0m4 194h0m3-222h0m4 100h0m3-70h0m4 89h0m3-78h0m3 76h0m4 85h0m3 119h0m4 30h0m3-7h0m4-37h0m3-49h0m3-28h0m4 62h0m3-29h0m4 154h0m3 15h0m3-39h0m4-200h0m3 159h0m4 39h0m3-2h0m4-104h0m3-139h0m3 28h0m4 67h0m3-77h0m4 200h0m3 54h0m3 4h0m4-87h0m3 137h0m4 40h0m3 150h0m4-183h0m3-225h0m3-33h0m4 123h0m3-9h0m4 44h0m3 121h0m3-19h0m4-71h0m3 8h0m4 8h0m3-105h0m4-51h0m3 100h0m3-72h0m4 173h0m3 30h0m4-83h0m3 65h0m3-59h0m4-2h0m3-10h0m4 106h0m3 120h0m4 40h0m3-190h0m3 99h0m4-59h0m3 77h0m4-141h0m3 10h0m4 112h0m3-140h0m3-117h0m4-55h0m3 83h0m4 96h0m3 50h0m3-3h0m4 18h0m3 50h0m4 51h0m3 190h0m4-61h0m3-65h0m3-40h0m4-12h0m3-13h0m4-64h0m3 82h0m3-3h0m4-26h0m3 70h0m4 62h0m3-128h0m4 59h0m3-120h0m3 95h0m4-122h0m3 34h0m4 36h0m3 17h0m3-106h0m4 162h0m3 116h0m4-47h0m3 47h0m4-166h0m3 28h0m3 20h0m4 79h0m3-50h0m4-88h0m3 130h0m3 34h0m4 19h0m3-21h0m4-105h0m3 19h0m4 39h0m3 49h0m3-40h0m4 68h0m3 24h0m4 146h0m3 34h0m3-153h0m4 75h0m3 44h0m4-21h0m3 21h0m4-10h0m3-172h0m3-118h0m4 80h0m3 27h0m4 38h0m3-85h0m4 57h0m3-16h0m3-6h0m4-46h0m3 91h0m4-39h0m3 53h0m3 71h0m4 25h0m3-57h0m4-79h0m3-150h0m4 101h0m3 3h0m3 72h0m4 181h0m3-3h0m4-70h0m3-132h0m3-18h0m4-31h0m3-95h0m4 106h0m3 124h0m4 47h0m3-58h0m3-40h0m4-17h0m3 25h0m4 17h0m3 67h0m3-24h0m4 26h0m3 46h0m4 15h0m3-114h0m4-95h0m3-67h0m3 131h0m4 111h0m3 106h0m4 35h0m3-50h0m3-151h0m4-121h0m3-41h0m4 106h0m3 19h0m4 1h0m3-40h0m3 24h0m4 31h0m3-16h0m4-43h0m3 71h0m3-10h0m4-66h0m3-76h0m4 38h0m3 49h0m4-17h0m3-10h0m3-27h0m4-19h0m3-95h0m4-68h0m3 53h0m4 123h0m3 90h0m3 33h0m4 92h0m3-37h0m4-64h0m3-13h0m3 16h0m4-99h0m3-46h0m4 52h0m3 90h0m4 62h0m3 147h0m3-41h0m4-27h0m3-114h0m4-51h0m3 62h0m3-24h0m4-12h0m3-21h0m4-26h0m3-47h0m4-68h0m3-4h0m3 43h0m4 7h0m3-75h0m4-38h0m3 83h0m3 153h0m4 53h0m3-64h0m4-163h0m3 55h0m4 130h0m3 69h0m3 25h0m4 15h0m3-32h0m4-3h0m3-28h0m3-44h0m4 2h0m3-71h0m4 4h0m3 67h0m4 67h0m3 68h0m3-56h0m4-68h0m3-15h0m4-116h0m3-20h0m4-39h0m3 69h0m3 31h0m4 83h0m3-32h0m4-91h0m3 32h0m3-16h0m4-3h0m3 41h0m4 77h0m3 65h0m4 70h0m3-13h0m3-85h0m4-8h0m3-35h0m4-120h0m3-4h0m3 52h0m4 68h0m3-90h0m4 10h0m3 21h0m4-38h0m3-12h0m3 17h0m4 31h0m3 40h0m4-118h0m3-87h0m3 88h0m4 49h0m3 12h0m4-50h0m3-48h0m4 75h0m3 27h0m3 44h0m4 84h0m3 45h0m4-72h0m3-99h0m3-25h0m4 38h0m3 29h0m4 5h0m3 4h0m4-21h0m3 27h0m3 59h0m4 45h0m3-76h0m4-74h0m3 9h0m3 57h0m4 10h0m3-44h0m4 2h0m3 68h0m4-30h0m3-112h0m3-24h0m4 30h0m3 70h0m4 45h0m3 25h0m4-84h0m3 22h0m3 49h0m4 70h0m3 34h0m4-27h0m3-9h0m3 13h0m4-31h0m3 14h0m4-42h0m3 2h0m4 30h0m3 0h0m3 2h0m4 29h0m3-11h0m4 24h0m3 38h0m3 63h0m4 4h0m3-11h0m4-84h0m3-80h0m4-57h0m3-1h0m3-34h0m4-10h0m3 67h0m4 71h0m3-70h0m3-106h0m4 36h0m3 36h0m4 62h0m3 74h0m4-43h0m3-90h0m3-37h0m4 49h0m3 108h0m4-24h0m3-48h0m3-23h0m4 0h0m3-41h0m4-48h0m3 18h0m4 51h0m3 9h0m3-59h0m4-54h0m3 87h0m4 3h0m3-15h0m3 19h0m4-39h0m3 9h0m4 37h0m3 122h0m4-81h0m3-118h0m3-70h0m4-28h0m3 81h0m4 136h0m3 43h0m4 14h0m3 78h0m3 10h0m4-58h0m3-99h0m4 1h0m3 36h0m3-31h0m4-70h0m3 60h0m4 82h0m3-15h0m4-78h0m3-32h0m3 12h0m4-18h0m3 50h0m4 70h0m3-100h0m3-85h0m4 13h0m3 119h0m4 90h0m3-20h0m4 13h0m3-52h0m3-77h0m4-73h0m3 11h0m4 86h0m3-30h0m3-2h0m4-37h0m3-36h0m4 41h0m3 26h0m4 111h0m3 90h0m3-104h0m4-124h0m3 84h0m4 41h0m3 7h0m3-108h0m4-23h0m3 69h0m4 80h0m3 9h0m4-29h0m3 13h0m3 19h0m4 47h0m3 7h0m4-10h0m3 16h0m4 21h0m3-59h0m3-62h0m4-79h0m3-42h0m4-26h0m3 93h0m3 27h0m4 41h0m3 73h0m4 49h0m3-1h0m4-15h0m3-23h0m3-109h0m4-36h0m3-28h0m4-29h0m3-85h0m3 39h0m4 29h0m3 104h0m4-65h0m3-26h0m4 6h0m3-37h0m3-40h0m4 2h0m3 83h0m4 57h0m3 31h0m3 20h0m4 85h0m3 103h0m4 0h0m3 2h0m4-96h0m3-61h0m3 101h0m4 80h0m3-21h0m4-165h0m3-47h0m3 9h0m4 0h0m3 43h0m4 57h0m3-32h0m4-42h0m3 65h0m3-69h0m4-57h0m3-2h0m4 100h0m3 61h0m3-77h0m4-37h0m3-73h0m4-40h0m3 62h0m4 2h0m3-64h0m3-3h0m4 14h0m3 9h0m4 86h0m3 62h0m4 14h0m3 1h0m3-96h0m4-60h0m3 68h0m4 121h0m3 47h0m3 19h0m4-53h0m3-40h0m4-49h0m3 88h0m4 40h0m3 3h0m3-5h0m4-46h0m3-20h0m4-46h0m3-22h0m3-16h0m4-16h0m3-18h0m4 37h0m3 29h0m4-32h0m3 25h0m3-29h0m4-137h0m3-16h0m4 80h0m3 22h0m3-9h0m4 28h0m3 3h0m4 15h0m3 55h0m4 8h0m3-89h0m3-81h0m4 27h0m3 82h0m4 19h0m3-83h0m3-17h0m4-45h0m3 74h0m4 68h0m3-56h0m4 96h0m3-20h0m3-85h0m4-12h0m3 23h0m4 86h0m3-37h0m4-85h0m3-23h0m3 24h0m4 12h0m3-21h0m4-46h0m3 75h0m3 69h0m4 40h0m3-12h0m4-127h0m3 86h0m4 8h0m3-65h0m3-48h0m4-97h0m3 49h0m4 94h0m3 2h0m3-69h0m4-18h0m3-4h0m4 53h0m3-20h0m4-48h0m3-11h0m3 2h0m4 38h0m3 24h0m4 56h0m3-2h0m3 56h0m4-3h0m3 36h0m4 51h0m3-81h0m4-58h0m3-28h0m3 42h0m4-3h0m3 18h0m4-10h0m3-19h0m3-52h0m4-4h0m3 42h0m4 16h0m3 7h0m4-3h0m3 22h0m3 7h0m4-66h0m3 2h0m4 49h0m3 26h0m3-133h0m4-27h0m3 167h0m4 51h0m3 6h0m4-50h0m3 13h0m3-37h0m4-58h0m3 12h0m4 89h0m3-11h0m4-64h0m3-27h0m3 72h0m4 43h0m3 13h0m4-11h0m3-88h0m3-93h0m4-69h0m3 7h0m4-13h0m3-2h0m4-22h0m3 62h0m3 145h0m4 22h0m3 3h0m4 14h0m3 38h0m3-49h0m4 73h0m3 22h0m4 50h0m3 60h0m4 15h0m3-155h0m3-96h0m4-30h0m3-73h0m4-39h0m3 118h0m3 104h0m4-18h0m3-63h0m4-35h0m3 65h0m4 36h0m3-15h0m3-37h0m4 13h0m3 46h0m4-24h0m3-116h0m3-50h0m4 116h0m3 53h0m4 60h0m3-132h0m4-25h0m3-30h0m3 37h0m4 13h0m3-77h0m4 20h0m3-15h0m3 8h0m4 2h0m3-17h0m4-1h0m3-35h0m4 24h0m3 3h0m3 27h0m4 71h0m3 115h0m4-73h0m3-159h0m4-84h0m3 104h0m3 53h0m4-55h0m3-9h0m4 37h0m3 136h0m3 95h0m4-13h0m3-111h0m4-21h0m3-40h0m4-73h0m3-1h0m3 106h0m4 91h0m3 13h0m4-47h0m3-89h0m3-57h0m4-38h0m3 76h0m4 17h0m3 93h0m4 29h0m3 14h0m3-50h0m4-174h0m3-168h0m4 15h0m3 76h0m3 27h0m4-19h0m3 50h0m4-41h0m3-51h0m4 130h0m3 85h0m3-28h0m4 77h0m3 29h0m4-170h0m3-58h0m3 68h0m4 13h0m3 10h0m4 63h0m3-54h0m4-17h0m3 11h0m3 69h0m4-43h0m3-20h0m4-48h0m3 4h0m4 65h0m3 54h0m3 60h0m4-83h0m3-48h0m4-62h0m3 121h0m3 5h0m4 12h0m3 10h0m4 59h0m3 20h0m4-34h0m3-106h0m3-2h0m4 33h0m3-10h0m4 36h0m3 43h0m3 26h0m4-20h0m3-97h0m4-15h0m3-29h0m4 66h0m3 34h0m3-63h0m4-48h0m3-9h0m4-56h0m3 6h0m3-5h0m4 73h0m3 4h0m4 26h0m3 12h0m4 70h0m3-57h0m3-24h0m4 3h0m3 87h0m4-103h0m3-84h0m3 36h0m4 24h0m3 23h0m4 58h0m3 24h0m4-42h0m3-71h0m3-94h0m4-11h0m3 29h0m4 40h0m3-84h0m3-57h0m4 111h0m3 20h0m4-28h0m3-21h0m4-40h0m3 8h0m3-28h0m4 40h0m3 7h0m4 90h0m3 123h0m4-64h0m3-83h0m3 27h0m4 33h0m3 36h0m4-194h0m3-54h0m3-26h0m4-46h0m3 107h0m4 184h0m3 98h0m4 54h0m3-79h0m3-59h0m4-112h0m3-14h0m4-67h0m3 29h0m3 157h0m4 88h0m3-121h0m4-5h0m3 52h0m4-16h0m3-54h0m3-29h0m4 77h0m3 4h0m4 46h0m3 16h0m3-92h0m4 11h0m3 51h0m4 109h0m3 69h0m4-62h0m3-99h0m3 11h0m4-56h0m3 26h0m4 92h0m3 12h0m3 7h0m4-25h0m3-84h0m4-32h0m3 12h0m4-61h0m3-5h0m3-2h0m4 48h0m3 8h0m4 8h0m3-1h0m3-49h0m4 37h0m3 18h0m4 45h0m3 38h0m4 9h0m3-98h0m3-136h0m4 1h0m3 68h0m4 52h0m3 146h0m4-38h0m3-31h0m3 21h0m4 31h0m3-94h0m4 90h0m3 40h0m3 16h0m4-70h0m3 25h0m4-44h0m3-66h0m4 36h0m3 8h0m3 14h0m4-19h0m3 10h0m4-17h0m3 13h0m3-31h0m4-3h0m3-12h0m4-34h0m3-30h0m4-16h0m3 59h0m3 102h0m4-23h0m3-67h0m4-47h0m3-2h0m3 61h0m4 55h0m3-34h0m4-46h0m3 61h0m4 51h0m3 82h0m3-47h0m4-42h0m3-37h0m4 13h0m3-37h0m3 27h0m4 25h0m3 38h0m4-58h0m3-126h0m4-44h0m3 54h0m3 3h0m4 8h0m3 88h0m4 47h0m3 85h0m4 72h0m3 27h0m3 25h0m4-167h0m3-76h0m4 67h0m3 36h0m3-12h0m4-44h0m3-61h0m4 9h0m3-79h0m4-71h0m3 27h0m3 92h0m4-5h0m3-30h0m4-128h0m3 47h0m3 100h0m4 124h0m3-107h0m4-62h0m3-14h0m4 66h0m3-20h0m3 72h0m4 32h0m3-77h0m4 12h0m3 8h0m3-10h0m4-56h0m3-42h0m4 168h0m3-17h0m4 6h0m3 0h0m3-100h0m4-96h0m3 60h0m4 182h0m3 86h0m3-180h0m4-147h0m3 3h0m4 183h0m3 44h0m4-30h0m3-27h0m3-49h0m4-85h0m3 23h0m4 43h0m3 80h0m3 7h0m4-32h0m3-83h0m4-68h0m3-66h0m4 42h0m3 47h0m3 102h0m4 18h0m3-40h0m4-59h0m3 40h0m4-44h0m3 22h0m3-33h0m4-54h0m3-71h0m4 31h0m3 186h0m3 52h0m4-10h0m3 55h0m4-36h0m3-19h0m4-122h0m3-8h0m3 72h0m4 14h0m3-166h0m4-42h0m3 60h0m3-64h0m4-24h0m3 57h0m4 61h0m3 60h0m4 33h0m3-91h0m3-1h0m4-122h0m3 66h0m4 15h0m3-2h0m3-45h0m4 5h0m3 32h0m4-30h0m3 9h0m4 55h0m3 158h0m3-29h0m4 46h0m3-39h0m4-79h0m3 32h0m3 30h0m4 4h0m3-52h0m4-44h0m3 3h0m4 32h0m3 40h0m3 85h0m4-8h0m3-27h0m4-187h0m3-76h0m4 72h0m3-37h0m3 22h0m4 116h0m3 37h0m4 5h0m3-5h0m3-9h0m4 31h0m3-1h0m4-5h0m3-60h0m4-8h0m3 112h0m3-56h0m4 35h0m3 24h0m4 56h0m3-1h0m3-147h0m4-32h0m3-28h0m4-91h0m3 1h0m4-73h0m3 51h0m3 25h0m4 99h0m3 2h0m4-22h0m3-52h0m3 19h0m4 67h0m3 55h0m4 60h0m3-6h0m4-16h0m3-29h0m3-87h0m4-11h0m3 2h0m4-106h0m3-83h0m3 60h0m4 95h0m3-14h0m4 13h0m3-75h0m4 89h0m3 9h0m3 90h0m4 18h0m3-13h0m4 12h0m3-184h0m3-71h0m4 84h0m3 166h0m4-228h0m3-110h0m4-30h0m3 64h0m3 70h0m4 127h0m3 57h0m4-34h0m3 28h0m4-56h0m3 33h0m3 62h0m4 38h0m3-133h0m4 15h0m3-59h0m3-161h0m4 102h0m3 108h0m4-15h0m3 24h0m4-116h0m3 33h0m3 26h0m4 10h0m3-13h0m4 29h0m3 5h0m3-35h0m4 119h0m3-34h0m4-151h0m3-89h0m4 209h0m3 45h0m3-103h0m4-26h0m3 63h0m4-12h0m3 65h0m3-58h0m4-138h0m3-67h0m4 92h0m3-63h0m4 63h0m3-51h0m3 25h0m4 75h0m3-82h0m4-121h0m3 69h0m3-161h0m4 130h0m3 117h0m4-59h0m3 82h0m4-150h0m3 81h0m3 52h0m4-96h0m3 65h0m4-27h0m3-4h0m3-37h0m4 20h0m3-22h0m4-41h0m3 94h0m4-13h0m3 64h0m3-10h0m4 17h0m3 7h0m4-54h0m3-105h0m4 7h0m3 85h0m3-134h0m4-4h0m3 104h0m4 23h0m3 83h0m3 1h0m4-132h0m3-18h0m4-118h0m3 77h0m4 56h0m3 149h0m3-120h0m4 36h0m3 43h0m4-274h0m3 42h0m3 105h0m4 24h0m3 48h0m4-53h0m3-2h0m4-160h0m3 247h0m3-221h0m4-59h0m3-46h0m4-44h0m3 106h0m3 136h0m4-4h0m3 84h0m4-101h0m3-140h0m4-52h0m3-21h0m3-168h0m4 34h0m3 260h0m4-85h0m3-124h0m3 190h0m4 20h0m3-28h0m4 45h0m3 91h0m4-77h0m3 15h0m3-104h0m4-132h0m3 33h0m4-182h0m3 380h0m4-62h0m3-52h0m3-56h0m4-25h0m3-75h0m4 35h0m3 116h0m3-153h0m4 68h0m3 29h0m4-104h0m3-14h0m4 228h0m3-198h0m3 2h0m4-155h0m3 149h0m4-59h0m3-55h0m3 121h0m4-11h0m3 67h0m4-46h0m3-155h0m4 31h0m3-137h0m3 328h0m4-9h0m3-100h0m4-121h0m3-70h0m3 57h0m4 27h0m3 67h0m4 44h0m3 69h0m4 24h0m3 44h0m3-75h0m4-100h0m3 24h0m4 45h0m3-61h0m3-57h0m4 87h0m3-240h0m4 95h0m3 102h0m4-63h0m3-17h0m3-35h0m4-166h0m3-42h0m4 36h0m3 310h0m3-55h0m4 4h0m3 197h0m4-126h0m3-133h0m4-104h0m3-147h0m3 182h0m4-67h0m3 87h0m4-144h0m3-51h0m4 265h0m3-291h0m3 106h0m4 134h0m3 199h0m4 26h0m3-189h0m3-212h0m4-17h0m3 27h0m4 28h0m3 75h0m4-177h0m3 123h0m3 212h0m4-116h0m3-7h0m4-180h0m3-5h0m3 95h0m4-41h0m3-67h0m4 110h0m3 48h0m4 115h0m3-369h0m3 229h0m4-15h0m3 10h0m4-52h0m3 14h0m3-24h0m4 44h0m3 124h0m4 118h0m3 20h0m4-81h0m3-297h0m3 80h0m4-24h0m3-141h0m4 120h0m3 193h0m3-125h0m4-50h0m3 247h0m4-327h0m3 196h0m4-136h0m3-35h0m3-11h0m4 4h0m3-161h0m4 138h0m3 0h0m4 68h0m3-54h0m3 145h0m4-41h0m3-130h0m4 84h0m3 3h0m3-90h0m4 33h0m3-13h0m4 110h0m3-9h0m4 248h0m3-22h0m3-190h0m4 122h0m3-32h0m4-213h0m3 335h0m3 87h0m4-77h0m3-20h0m4 21h0m3-62h0m4 43h0m3 54h0m3 60h0m4-217h0m3 45h0m4-120h0m3-9h0m3 20h0m4 56h0m3-22h0m4 82h0m3-140h0m4-76h0m3 98h0m3-190h0m4 42h0m3 277h0m4-156h0m3-116h0m3 138h0m4-112h0m3 67h0m4 43h0m3 118h0m4 50h0m3-118h0m3-138h0m4 218h0m3-239h0m4 26h0m3 80h0m3 32h0m4 59h0m3-134h0m4 140h0m3 37h0m4 101h0m3-149h0m3-64h0m4-6h0m3 27h0m4-105h0m3 233h0m4-78h0m3-88h0m3 120h0m4 75h0m3-108h0m4-114h0m3 135h0m3 19h0m4-116h0m3 93h0m4-16h0m3-51h0m4 112h0m3-31h0m3 125h0m4-200h0m3 90h0m4 131h0m3-58h0m3 49h0m4-19h0m3 104h0m4-138h0m3-84h0m4 246h0m3-194h0m3 23h0m4 222h0m3-79h0m4 93h0m3-32h0m3-137h0m4 13h0m3-77h0m4-5h0m3 61h0m4 312h0m3 1h0m3-138h0m4 121h0m3-8h0m4 35h0m3-96h0m3 25h0m4-65h0m3-7h0m4-56h0m3 9h0m4 30h0m3-121h0m3 157h0m4 30h0m3-198h0m4-77h0m3 22h0m3 23h0m4 149h0m3 17h0m4-20h0m3-18h0m4-113h0m3 124h0m3 7h0m4 88h0m3-179h0m4 110h0m3-87h0m4 65h0m3-96h0m3 4h0m4 142h0m3 2h0m4-39h0m3 30h0m3 20h0m4 32h0m3 73h0m4-74h0m3 216h0m4-63h0m3-6h0m3-99h0m4-43h0m3 75h0m4-26h0m3 97h0m3 100h0m4 21h0m3-48h0m4-132h0m3-46h0m4 101h0m3-68h0m3-105h0m4 3h0m3 4h0m4 83h0m3 118h0m3 62h0m4-14h0m3-59h0m4 81h0m3-56h0m4-175h0m3 37h0m3 62h0m4 69h0m3 69h0m4-65h0m3-15h0m3-104h0m4 8h0m3-44h0m4 33h0m3 120h0m4 29h0m3 83h0m3 31h0m4 33h0m3-51h0m4-75h0m3 31h0m4 1h0m3-18h0m3-21h0m4 33h0m3-80h0m4 77h0m3 186h0m3-115h0m4 18h0m3-160h0m4 16h0m3 41h0m4 22h0m3 52h0m3 61h0m4-84h0m3 67h0m4-100h0m3 141h0m3 11h0m4-94h0m3 30h0m4 33h0m3 1h0m4-227h0m3-11h0m3 104h0m4-50h0m3 6h0m4-67h0m3-21h0m3 194h0m4 157h0m3-103h0m4-141h0m3-99h0m4 9h0m3 34h0m3 13h0m4 150h0m3 156h0m4-66h0m3-105h0m3 31h0m4-33h0m3 38h0m4 4h0m3-52h0m4 19h0m3-74h0m3 11h0m4-57h0m3 115h0m4 129h0m3-106h0m3-2h0m4-75h0m3-95h0m4 87h0m3 101h0m4-32h0m3 101h0m3-47h0m4-67h0m3-50h0m4 148h0m3 121h0m4-162h0m3 25h0m3-115h0m4 33h0m3 92h0m4-101h0m3 45h0m3-66h0m4-10h0m3 63h0m4 94h0m3 46h0m4-42h0m3 36h0m3 101h0m4 24h0m3-162h0m4-26h0m3-163h0m3 82h0m4 86h0m3 57h0m4-38h0m3 52h0m4-69h0m3-75h0m3-89h0m4-40h0m3 94h0m4 187h0m3-43h0m3-24h0m4-64h0m3-5h0m4 14h0m3-37h0m4-5h0m3 68h0m3 106h0m4 31h0m3 9h0m4-114h0m3-63h0m3 37h0m4 45h0m3-115h0m4 36h0m3-14h0m4-14h0m3 82h0m3 136h0m4-133h0m3-5h0m4 29h0m3 25h0m3 44h0m4-44h0m3 107h0m4-74h0m3-6h0m4-73h0m3-78h0m3-40h0m4 12h0m3 32h0m4 80h0m3 49h0m4 25h0m3-59h0m3-15h0m4 47h0m3 7h0m4-78h0m3 76h0m3 5h0m4-56h0m3-65h0m4 2h0m3 10h0m4 16h0m3 191h0m3 22h0m4-101h0m3-83h0m4 9h0m3 73h0m3-54h0m4-21h0m3 113h0m4 48h0m3-136h0m4-18h0m3 26h0m3 71h0m4-20h0m3-35h0m4 3h0m3 41h0m3 22h0m4 36h0m3-149h0m4-9h0m3-57h0m4 28h0m3 111h0m3-81h0m4 69h0m3 153h0m4-58h0m3-58h0m3 6h0m4 0h0m3-6h0m4-116h0m3-42h0m4 60h0m3 25h0m3-35h0m4-47h0m3 130h0m4 67h0m3-54h0m4-106h0m3 57h0m3 57h0m4 26h0m3-41h0m4 23h0m3 71h0m3-45h0m4-113h0m3-10h0m4 91h0m3-92h0m4 51h0m3-66h0m3 6h0m4 42h0m3-60h0m4-82h0m3 52h0m3-41h0m4 42h0m3 11h0m4 153h0m3 5h0m4-71h0m3-41h0m3 21h0m4 32h0m3-21h0m4-52h0m3-8h0m3 31h0m4-48h0m3 24h0m4 6h0m3 80h0m4-48h0m3-104h0m3-121h0m4-38h0m3 15h0m4 118h0m3 193h0m3 16h0m4-54h0m3-104h0m4 40h0m3-42h0m4 79h0m3-87h0m3 13h0m4-3h0m3 10h0m4 37h0m3 0h0m3 124h0m4-14h0m3-80h0m4-100h0m3-101h0m4-27h0m3 157h0m3 100h0m4 66h0m3 47h0m4 55h0m3 18h0m4-97h0m3 1h0m3-119h0m4-49h0m3-17h0m4 7h0m3 37h0m3-27h0m4-28h0m3-60h0m4-42h0m3 76h0m4 20h0m3 7h0m3-24h0m4 73h0m3 5h0m4-37h0m3-99h0m3-82h0m4 9h0m3-4h0m4 18h0m3 233h0m4 169h0m3 0h0m3-124h0m4-90h0m3 26h0m4-77h0m3-95h0m3 79h0m4 157h0m3 133h0m4-149h0m3-135h0m4 50h0m3 17h0m3 45h0m4 68h0m3-56h0m4-11h0m3-177h0m3 3h0m4 38h0m3-69h0m4 19h0m3 100h0m4 29h0m3 171h0m3 27h0m4-89h0m3-68h0m4 26h0m3-67h0m3 30h0m4-41h0m3-19h0m4 18h0m3 93h0m4-40h0m3-70h0m3-96h0m4 32h0m3 96h0m4-59h0m3-6h0m4 24h0m3-22h0m3-4h0m4 47h0m3-62h0m4-44h0m3-73h0m3 119h0m4 32h0m3 92h0m4-8h0m3-58h0m4-66h0m3-11h0m3-49h0m4 16h0m3 63h0m4 12h0m3 34h0m3 24h0m4-27h0m3-105h0m4-63h0m3 64h0m4 37h0m3 29h0m3 82h0m4 33h0m3-48h0m4-125h0m3 43h0m3-45h0m4 97h0m3 8h0m4-55h0m3-30h0m4-66h0m3-80h0m3 180h0m4 89h0m3-5h0m4-52h0m3-11h0m3-12h0m4-66h0m3 85h0m4-38h0m3 4h0m4-84h0m3 2h0m3 37h0m4-72h0m3 40h0m4 128h0m3 98h0m4-36h0m3-89h0m3-78h0m4-37h0m3 47h0m4 75h0m3 101h0m3-15h0m4-103h0m3-214h0m4-13h0m3-31h0m4 104h0m3 94h0m3-85h0m4-49h0m3-6h0m4 52h0m3 74h0m3 175h0m4-74h0m3-43h0m4-29h0m3-67h0m4 73h0m3-104h0m3 16h0m4 94h0m3 102h0m4-83h0m3-83h0m3-15h0m4-51h0m3 33h0m4 50h0m3-73h0m4 6h0m3 46h0m3 156h0m4 95h0m3-38h0m4 28h0m3-92h0m3-48h0m4 18h0m3-127h0m4 17h0m3 151h0m4 22h0m3 6h0m3-202h0m4-171h0m3 48h0m4 53h0m3 106h0m3 90h0m4 15h0m3-53h0m4 23h0m3-187h0m4 30h0m3 52h0m3 61h0m4 29h0m3-45h0m4-41h0m3 72h0m4-35h0m3-12h0m3-65h0m4 9h0m3-14h0m4-17h0m3-71h0m3-35h0m4 103h0m3 18h0m4 1h0m3 68h0m4 109h0m3-9h0m3-71h0m4-136h0m3 111h0m4 120h0m3 30h0m3-12h0m4-114h0m3 81h0m4-140h0m3 27h0m4-6h0m3-52h0m3 107h0m4-115h0m3-25h0m4-92h0m3-17h0m3 104h0m4 26h0m3 28h0m4-67h0m3 81h0m4 6h0m3-61h0m3-25h0m4-84h0m3 118h0m4-26h0m3 71h0m3 75h0m4 10h0m3-55h0m4 27h0m3 70h0m4 16h0m3-11h0m3-106h0m4-33h0m3-47h0m4-35h0m3-64h0m4-70h0m3 126h0m3 87h0m4 49h0m3 20h0m4-125h0m3-46h0m3 159h0m4 16h0m3-163h0m4-115h0m3 7h0m4 161h0m3-146h0m3 40h0m4-10h0m3 71h0m4-61h0m3-25h0m3-21h0m4 89h0m3 8h0m4-20h0m3-59h0m4-77h0m3 74h0m3 44h0m4-52h0m3 93h0m4-53h0m3 31h0m3 44h0m4-37h0m3 1h0m4-25h0m3-11h0m4-136h0m3 42h0m3 95h0m4-36h0m3-15h0m4 168h0m3 14h0m3-116h0m4-15h0m3 55h0m4 77h0m3-140h0m4-73h0m3-35h0m3 40h0m4-180h0m3 57h0m4 67h0m3 81h0m3 100h0m4-41h0m3 8h0m4-118h0m3-110h0m4-45h0m3 122h0m3 34h0m4 11h0m3-8h0m4 109h0m3 65h0m4 35h0m3-119h0m3 41h0m4 34h0m3-146h0m4-140h0m3-70h0m3-12h0m4-92h0m3 62h0m4 134h0m3 3h0m4-173h0m3-50h0m3 49h0m4-46h0m3 189h0m4-77h0m3 242h0m3 0h0m4 135h0m3-98h0m4-113h0m3 79h0m4-4h0m3-46h0m3-332h0m4 305h0m3 53h0m4-141h0m3 26h0m3-47h0m4-73h0m3-116h0m4 70h0m3 203h0m4-42h0m3-121h0m3 117h0m4 117h0m3-22h0m4-7h0m3 168h0m3-59h0m4-14h0m3-71h0m4-99h0m3 9h0m4 70h0m3-7h0m3 47h0m4 36h0m3-74h0m4 28h0m3-41h0m3-133h0m4 45h0m3-86h0m4 98h0m3-137h0m4 300h0m3-22h0m3-47h0m4-75h0m3-26h0m4 84h0m3-206h0m4 164h0m3-31h0m3-65h0m4-78h0m3-47h0m4-9h0m3-23h0m3 11h0m4-75h0m3 177h0m4-104h0m3 77h0m4-124h0m3 219h0m3-5h0m4 39h0m3 69h0m4 170h0m3-260h0m3-24h0m4 95h0m3-193h0m4 61h0m3-59h0m4 188h0m3 83h0m3 37h0m4-50h0m3-247h0m4-15h0m3-98h0m3 39h0m4 149h0m3-39h0m4-232h0m3 62h0m4 197h0m3-3h0m3-12h0m4 5h0m3-75h0m4 16h0m3-3h0m3 15h0m4 7h0m3 126h0m4-143h0m3 24h0m4-205h0m3 19h0m3 109h0m4-207h0m3 158h0m4 13h0m3-31h0m4 31h0m3 226h0m3-189h0m4 134h0m3-86h0m4 40h0m3 241h0m3-48h0m4 130h0m3-172h0m4-154h0m3 35h0m4-177h0m3 63h0m3 5h0m4 101h0m3 81h0m4-59h0m3-223h0m3 205h0m4 126h0m3-80h0m4-188h0m3 108h0m4-59h0m3 44h0m3-14h0m4 5h0m3-36h0m4 78h0m3-130h0m3 24h0m4 134h0m3 42h0m4 89h0m3-23h0m4-146h0m3-100h0m3 95h0m4-85h0m3 9h0m4 6h0m3-58h0m3-153h0m4 115h0m3 117h0m4 40h0m3 103h0m4-145h0m3 40h0m3-110h0m4-11h0m3 114h0m4-58h0m3 118h0m3 85h0m4-16h0m3-117h0m4-60h0m3 143h0m4-80h0m3-140h0m3 5h0m4 78h0m3 51h0m4-68h0m3 38h0m4 169h0m3 4h0m3-5h0m4-138h0m3-137h0m4 173h0m3-80h0m3 95h0m4 18h0m3 90h0m4 7h0m3-22h0m4-64h0m3-74h0m3 34h0m4 7h0m3 31h0m4 94h0m3-74h0m3-53h0m4-45h0m3 11h0m4 90h0m3-40h0m4 79h0m3-57h0m3-32h0m4 56h0m3-5h0m4-18h0m3 44h0m3-138h0m4 74h0m3 122h0m4 94h0m3-252h0m4 173h0m3-49h0m3 15h0m4-15h0m3 51h0m4 18h0m3-56h0m3 27h0m4-155h0m3-46h0m4 91h0m3-63h0m4 156h0m3-21h0m3-100h0m4 89h0m3-10h0m4-29h0m3 100h0m4-10h0m3-11h0m3 36h0m4-20h0m3 33h0m4-115h0m3-82h0m3 43h0m4 59h0m3 124h0m4 30h0m3-46h0m4-35h0m3 36h0m3 34h0m4-106h0m3-58h0m4 72h0m3 31h0m3-61h0m4-150h0m3 107h0m4-73h0m3 24h0m4-83h0m3 89h0m3 136h0m4 92h0m3 55h0m4 19h0m3-97h0m3-126h0m4 36h0m3 19h0m4-37h0m3 44h0m4-241h0m3 72h0m3 43h0m4 144h0m3 37h0m4-73h0m3-55h0m3 53h0m4-42h0m3 32h0m4 244h0m3 32h0m4 13h0m3-168h0m3-5h0m4-47h0m3 55h0m4-177h0m3 86h0m3 23h0m4 170h0m3 31h0m4-61h0m3-36h0m4-39h0m3-7h0m3 62h0m4-138h0m3 79h0m4-106h0m3 12h0m4 41h0m3-4h0m3-38h0m4 59h0m3 61h0m4-21h0m3-39h0m3 50h0m4 209h0m3 46h0m4-13h0m3 48h0m4-185h0m3 65h0m3-135h0m4 137h0m3-36h0m4-7h0m3-26h0m3-12h0m4-69h0m3 88h0m4-90h0m3-19h0m4-97h0m3 54h0m3 65h0m4-57h0m3 106h0m4 18h0m3 116h0m3-98h0m4 78h0m3-88h0m4 11h0m3 136h0m4-36h0m3-29h0m3-40h0m4-71h0m3 101h0m4 4h0m3-65h0m3-77h0m4-33h0m3-7h0m4 95h0m3 22h0m4-6h0m3 38h0m3 5h0m4 2h0m3-17h0m4 100h0m3-58h0m3 69h0m4 92h0m3-35h0m4-24h0m3-202h0m4-117h0m3 167h0m3 201h0m4-1h0m3-124h0m4-149h0m3 44h0m4 10h0m3-24h0m3-120h0m4 35h0m3 150h0m4 45h0m3-108h0m3-5h0m4 110h0m3 86h0m4-38h0m3-91h0m4-64h0m3 99h0m3 28h0m4-110h0m3-49h0m4 50h0m3 57h0m3 31h0m4-12h0m3-51h0m4 55h0m3 153h0m4 28h0m3-124h0m3-51h0m4-121h0m3-68h0m4 40h0m3 44h0m3 40h0m4-33h0m3 17h0m4 54h0m3 43h0m4 46h0m3 3h0m3-4h0m4 18h0m3 44h0m4 37h0m3 2h0m3 10h0m4-88h0m3-35h0m4-30h0m3 31h0m4 57h0m3-86h0m3-44h0m4 10h0m3-33h0m4 79h0m3 22h0m4-39h0m3-44h0m3-15h0m4-26h0m3-3h0m4 194h0m3 99h0m3-52h0m4-77h0m3 8h0m4-33h0m3 121h0m4-23h0m3-71h0m3-4h0m4 48h0m3-3h0m4-39h0m3 21h0m3-4h0m4-38h0m3 50h0m4-24h0m3 36h0m4-94h0m3-29h0m3-49h0m4 9h0m3 120h0m4 122h0m3-1h0m3-76h0m4 25h0m3-25h0m4 16h0m3-73h0m4-49h0m3-61h0m3 63h0m4 104h0m3-9h0m4-128h0m3-176h0m3 70h0m4 117h0m3 181h0m4 106h0m3-100h0m4-177h0m3-27h0m3 97h0m4 9h0m3 8h0m4 33h0m3-13h0m3-64h0m4-60h0m3 71h0m4 63h0m3-38h0m4 86h0m3 9h0m3-46h0m4-112h0m3 95h0m4 92h0m3-28h0m4-53h0m3 32h0m3 2h0m4-100h0m3 20h0m4 96h0m3 127h0m3-74h0m4-133h0m3-91h0m4-45h0m3-32h0m4-16h0m3 94h0m3 15h0m4 29h0m3-30h0m4-75h0m3 9h0m3 219h0m4 35h0m3-51h0m4-53h0m3 121h0m4 90h0m3 25h0m3-45h0m4-127h0m3-155h0m4-48h0m3-25h0m3-15h0m4 23h0m3-32h0m4-15h0m3 29h0m4 104h0m3 32h0m3-14h0m4-25h0m3 8h0m4-65h0m3 20h0m3 97h0m4 23h0m3 6h0m4-1h0m3 13h0m4 36h0m3 44h0m3-34h0m4 5h0m3 3h0m4-96h0m3 50h0m3 33h0m4 53h0m3-47h0m4-96h0m3-60h0m4 30h0m3 108h0m3 70h0m4-44h0m3-67h0m4-69h0m3 45h0m4 79h0m3 63h0m3-62h0m4-105h0m3-90h0m4-43h0m3 53h0m3 62h0m4 26h0m3-10h0m4-39h0m3 7h0m4 73h0m3 61h0m3 34h0m4-36h0m3-106h0m4 54h0m3 121h0m3-1h0m4-74h0m3-17h0m4 4h0m3 18h0m4 17h0m3 5h0m3-53h0m4 2h0m3 30h0m4 79h0m3 2h0m3-40h0m4-79h0m3-60h0m4 55h0m3 77h0m4 53h0m3 60h0m3-88h0m4-144h0m3-66h0m4 20h0m3 87h0m3 46h0m4 21h0m3-31h0m4-66h0m3-9h0m4 73h0m3 76h0m3 55h0m4-51h0m3-6h0m4-50h0m3-4h0m4-18h0m3 15h0m3 81h0m4-72h0m3-127h0m4-15h0m3-10h0m3-26h0m4 45h0m3 11h0m4 53h0m3 68h0m4 3h0m3 35h0m3-5h0m4-24h0m3-80h0m4 33h0m3 67h0m3 8h0m4-75h0m3-51h0m4 33h0m3 113h0m4-17h0m3-50h0m3-43h0m4 3h0m3 7h0m4-52h0m3 13h0m3 68h0m4 81h0m3 43h0m4 37h0m3-27h0m4-134h0m3-31h0m3 39h0m4-27h0m3-1h0m4 8h0m3 67h0m3-30h0m4-22h0m3 40h0m4 42h0m3-14h0m4 76h0m3-101h0m3-149h0m4-4h0m3 37h0m4 36h0m3 18h0m3-42h0m4-11h0m3 33h0m4 125h0m3 87h0m4 54h0m3-75h0m3-161h0m4-119h0m3 34h0m4 47h0m3 41h0m4 94h0m3 74h0m3 21h0m4-82h0m3-95h0m4-61h0m3-16h0m3 50h0m4-29h0m3-9h0m4-46h0m3-29h0m4 94h0m3 61h0m3-42h0m4-15h0m3 54h0m4 63h0m3-34h0m3-11h0m4-33h0m3-12h0m4 19h0m3 100h0m4 74h0m3 68h0m3-42h0m4-81h0m3-77h0m4-71h0m3 46h0m3-3h0m4 9h0m3-26h0m4-32h0m3 53h0m4 26h0m3 38h0m3 3h0m4-42h0m3 30h0m4 23h0m3 3h0m3-22h0m4-42h0m3 16h0m4-10h0m3-29h0m4-67h0m3 52h0m3-46h0m4-131h0m3-55h0m4 0h0m3-1h0m4 6h0m3 5h0m3 56h0m4 78h0m3 85h0m4-14h0m3-51h0m3-32h0m4 85h0m3 113h0m4 18h0m3-5h0m4-51h0m3-47h0m3-49h0m4-8h0m3 49h0m4 45h0m3-58h0m3 0h0m4 8h0m3-7h0m4-30h0m3 73h0m4 120h0m3-31h0m3-156h0m4-7h0m3-48h0m4-57h0m3 10h0m3 89h0m4 115h0m3 49h0m4-33h0m3-155h0m4-78h0m3 55h0m3 110h0m4 30h0m3-64h0m4-24h0m3-24h0m3 18h0m4 81h0m3 154h0m4 50h0m3-135h0m4-95h0m3 52h0m3-68h0m4-99h0m3 44h0m4 60h0m3-18h0m3-38h0m4-1h0m3 6h0m4 81h0m3 26h0m4-21h0m3-45h0m3-34h0m4 15h0m3 62h0m4-5h0m3-10h0m4-32h0m3-61h0m3 83h0m4 101h0m3 89h0m4-48h0m3-172h0m3-48h0m4 120h0m3 82h0m4 6h0m3-46h0m4-20h0m3-37h0m3-30h0m4-26h0m3-30h0m4 16h0m3 165h0m3 34h0m4-96h0m3-146h0m4 37h0m3 96h0m4 5h0m3 78h0m3 83h0m4-21h0m3-129h0m4-70h0m3-52h0m3-12h0m4-33h0m3 22h0m4 108h0m3-21h0m4 4h0m3 9h0m3 5h0m4 6h0m3-27h0m4 34h0m3 85h0m3 34h0m4-94h0m3-61h0m4 50h0m3 60h0m4 23h0m3-5h0m3-84h0m4-100h0m3-36h0m4 32h0m3 116h0m3 80h0m4 38h0m3-16h0m4-21h0m3 37h0m4-24h0m3-89h0m3-77h0m4 28h0m3 26h0m4 9h0m3-3h0m4-5h0m3 22h0m3 10h0m4-39h0m3-79h0m4 3h0m3-4h0m3 9h0m4 24h0m3 21h0m4 9h0m3 107h0m4-10h0m3-57h0m3-14h0m4 11h0m3-25h0m4-7h0m3 56h0m3 56h0m4-56h0m3-26h0m4 20h0m3 6h0m4-5h0m3-56h0m3-15h0m4 3h0m3-27h0m4-62h0m3-26h0m3 62h0m4 109h0m3 55h0m4-124h0m3-48h0m4 56h0m3 142h0m3 94h0m4-22h0m3 22h0m4 17h0m3-18h0m3-74h0m4-88h0m3-121h0m4-64h0m3 36h0m4 20h0m3 24h0m3 109h0m4 22h0m3 20h0m4 46h0m3-34h0m4-89h0m3-65h0m3-10h0m4 34h0m3 72h0m4 37h0m3 28h0m3 14h0m4-21h0m3-26h0m4 10h0m3 62h0m4-14h0m3 17h0m3 55h0m4-13h0m3-11h0m4 6h0m3-18h0m3-67h0m4-120h0m3-17h0m4-6h0m3 117h0m4 17h0m3-46h0m3-64h0m4-15h0m3-23h0m4-17h0m3-16h0m3 32h0m4 106h0m3 88h0m4 44h0m3-17h0m4-73h0m3-108h0m3-4h0m4 65h0m3 2h0m4-61h0m3 16h0m3 104h0m4 65h0m3-118h0m4-109h0m3 60h0m4 144h0m3 1h0m3-16h0m4-13h0m3-99h0m4-30h0m3-41h0m3-64h0m4 73h0m3 130h0m4-8h0m3-72h0m4-32h0m3-93h0m3-51h0m4 47h0m3 43h0m4 22h0m3 84h0m4 106h0m3-7h0m3-61h0m4-109h0m3-58h0m4-36h0m3 13h0m3 24h0m4 32h0m3 84h0m4 59h0m3 11h0m4-23h0m3-78h0m3 35h0m4 66h0m3-12h0m4 11h0m3 26h0m3-38h0m4-16h0m3-33h0m4 27h0m3 29h0m4 43h0m3 26h0m3 14h0m4-23h0m3-55h0m4-34h0m3 0h0m3-55h0m4-46h0m3 101h0m4 52h0m3-63h0m4-105h0m3-41h0m3 57h0m4 130h0m3 49h0m4-49h0m3-36h0m3-51h0m4 8h0m3 74h0m4 44h0m3-60h0m4-67h0m3-56h0m3 4h0m4 34h0m3-10h0m4 49h0m3 130h0m3 81h0m4 31h0m3-52h0m4-15h0m3 30h0m4-56h0m3-160h0m3-122h0m4-1h0m3-2h0m4 90h0m3 28h0m4-37h0m3 53h0m3 97h0m4-30h0m3-118h0m4-41h0m3 2h0m3-9h0m4 44h0m3 127h0m4 74h0m3-25h0m4-126h0m3-121h0m3 55h0m4 136h0m3 9h0m4-46h0m3-41h0m3 6h0m4 50h0m3 5h0m4-15h0m3 70h0m4 130h0m3 35h0m3-19h0m4-71h0m3-167h0m4-143h0m3 15h0m3 45h0m4-12h0m3 53h0m4 149h0m3 46h0m4 6h0m3-4h0m3-96h0m4-156h0m3-72h0m4 88h0m3 118h0m3-33h0m4-63h0m3 1h0m4-4h0m3-71h0m4-40h0m3 86h0m3 39h0m4 66h0m3 12h0m4 4h0m3-1h0m4 6h0m3-6h0m3-122h0m4-98h0m3-36h0m4 59h0m3 64h0m3 13h0m4-56h0m3-38h0m4 105h0m3 100h0m4-5h0m3-51h0m3 41h0m4 114h0m3 36h0m4-45h0m3-3h0m3-21h0m4-55h0m3 16h0m4 37h0m3 29h0m4-5h0m3-43h0m3-10h0m4 28h0m3 40h0m4-3h0m3-58h0m3-17h0m4 64h0m3 1h0m4-68h0m3-33h0m4 6h0m3 66h0m3 72h0m4 24h0m3-64h0m4-54h0m3 9h0m3 52h0m4 28h0m3-62h0m4-198h0m3-54h0m4 121h0m3 108h0m3-23h0m4-42h0m3-29h0m4 1h0m3-14h0m3-51h0m4-33h0m3-78h0m4-12h0m3 110h0m4 158h0m3 90h0m3-71h0m4-191h0m3-134h0m4 1h0m3 62h0m4 53h0m3 21h0m3 0h0m4 48h0m3 86h0m4 69h0m3 43h0m3-51h0m4-125h0m3-141h0m4-2h0m3 133h0m4 120h0m3 68h0m3-35h0m4-75h0m3-135h0m4-54h0m3 32h0m3 93h0m4 58h0m3 62h0m4 87h0m3 13h0m4-140h0m3-72h0m3 16h0m4 27h0m3 4h0m4 11h0m3 15h0m3-4h0m4 34h0m3-30h0m4-42h0m3 18h0m4 16h0m3 54h0m3-8h0m4-44h0m3-66h0m4 12h0m3 10h0m3 4h0m4-9h0m3-30h0m4-31h0m3-6h0m4-22h0m3 41h0m3 127h0m4 88h0m3-46h0m4-82h0m3 12h0m4 41h0m3-31h0m3-71h0m4-82h0m3-29h0m4 1h0m3 30h0m3-1h0m4-21h0m3-34h0m4 36h0m3 33h0m4 20h0m3-44h0m3-51h0m4-10h0m3-3h0m4 80h0m3 81h0m3 4h0m4-46h0m3-67h0m4-98h0m3-30h0m4 87h0m3 110h0m3 49h0m4-19h0m3-9h0m4 0h0m3 4h0m3-48h0m4 4h0m3 12h0m4-12h0m3-20h0m4-31h0m3 28h0m3 45h0m4-37h0m3 19h0m4-4h0m3-35h0m3 49h0m4 51h0m3-41h0m4-12h0m3 6h0m4-13h0m3 26h0m3 6h0m4-48h0m3 1h0m4-22h0m3-87h0m3-20h0m4 63h0m3 56h0m4-30h0m3-115h0m4 43h0m3 137h0m3 24h0m4-56h0m3-62h0m4-1h0m3 57h0m4 68h0m3 57h0m3-29h0m4-4h0m3 19h0m4-15h0m3-84h0m3-19h0m4 23h0m3 88h0m4 33h0m3-67h0m4-33h0m3 71h0m3 38h0m4-17h0m3 76h0m4-4h0m3-153h0m3-87h0m4 55h0m3 81h0m4 40h0m3-29h0m4-24h0m3-42h0m3-58h0m4-62h0m3-43h0m4 54h0m3 79h0m3 11h0m4 37h0m3 65h0m4 63h0m3-37h0m4-129h0m3-53h0m3 40h0m4 46h0m3-15h0m4-30h0m3-34h0m3 33h0m4 21h0m3-69h0m4 22h0m3 19h0m4-4h0m3 2h0m3-80h0m4-59h0m3-14h0m4-11h0m3 60h0m3 115h0m4 35h0m3-13h0m4 35h0m3 1h0m4-73h0m3-4h0m3 18h0m4 71h0m3 54h0m4-42h0m3-61h0m4-15h0m3 5h0m3 43h0m4 45h0m3-87h0m4-51h0m3 42h0m3 26h0m4 43h0m3-58h0m4-69h0m3 25h0m4 18h0m3-6h0m3-54h0m4-51h0m3 67h0m4 92h0m3-15h0m3-32h0m4 4h0m3 41h0m4 51h0m3-6h0m4-43h0m3-57h0m3-15h0m4-1h0m3-1h0m4 6h0m3 30h0m3 39h0m4 75h0m3 8h0m4 30h0m3-50h0m4-108h0m3-34h0m3 10h0m4 75h0m3 49h0m4 3h0m3 18h0m3-42h0m4 12h0m3-11h0m4-93h0m3 18h0m4 79h0m3-1h0m3-97h0m4-45h0m3 12h0m4 44h0m3 39h0m4 18h0m3-22h0m3 53h0m4 72h0m3 64h0m4 49h0m3-20h0m3-29h0m4-26h0m3 23h0m4-42h0m3-140h0m4-125h0m3-1h0m3 58h0m4-6h0m3-109h0m4-34h0m3 40h0m3 147h0m4 145h0m3 68h0m4-4h0m3-59h0m4-111h0m3-58h0m3 104h0m4 122h0m3-17h0m4-103h0m3-49h0m3-17h0m4 1h0m3 38h0m4 21h0m3 10h0m4-12h0m3-26h0m3 15h0m4 7h0m3 4h0m4-36h0m3-54h0m3-41h0m4 39h0m3-2h0m4-21h0m3-30h0m4-3h0m3-20h0m3 34h0m4 73h0m3 8h0m4-3h0m3 27h0m3-52h0m4-113h0m3 34h0m4 143h0m3 63h0m4-32h0m3-60h0m3-12h0m4 2h0m3-18h0m4-28h0m3-47h0m4 41h0m3 5h0m3-64h0m4-59h0m3-42h0m4 8h0m3 55h0m3 62h0m4 75h0m3 1h0m4-38h0m3-18h0m4 58h0m3 59h0m3 27h0m4 0h0m3-29h0m4-17h0m3-14h0m3-17h0m4-15h0m3-43h0m4-46h0m3 67h0m4 102h0m3 23h0m3-30h0m4 7h0m3 42h0m4-39h0m3-84h0m3-34h0m4-20h0m3-16h0m4 0h0m3 44h0m4 118h0m3 61h0m3-101h0m4-159h0m3-101h0m4 34h0m3 108h0m3 76h0m4 3h0m3-70h0m4 40h0m3 89h0m4-44h0m3-115h0m3 30h0m4 63h0m3 32h0m4 18h0m3 28h0m3 39h0m4-40h0m3-89h0m4-22h0m3-19h0m4 1h0m3 56h0m3 46h0m4-74h0m3 13h0m4 33h0m3-8h0m4-17h0m3-16h0m3-23h0m4-40h0m3-138h0m4-6h0m3 48h0m3 38h0m4-7h0m3 71h0m4 46h0m3-75h0m4-88h0m3 42h0m3 81h0m4 53h0m3-10h0m4 8h0m3 31h0m3 13h0m4-46h0m3-22h0m4 16h0m3 88h0m4 42h0m3-109h0m3-91h0m4 34h0m3 134h0m4 110h0m3-25h0m3-41h0m4 52h0m3 47h0m4-40h0m3-79h0m4-45h0m3-13h0m3-4h0m4-13h0m3-78h0m4-84h0m3 49h0m3 52h0m4-32h0m3-95h0m4-26h0m3 41h0m4 59h0m3 99h0m3 87h0m4 34h0m3-17h0m4-50h0m3-76h0m4 42h0m3 81h0m3 15h0m4-39h0m3-26h0m4-13h0m3 30h0m3-7h0m4-28h0m3-30h0m4 10h0m3 4h0m4 18h0m3 19h0m3-71h0m4-134h0m3-39h0m4 72h0m3 82h0m3 41h0m4 7h0m3 29h0m4 27h0m3-26h0m4 26h0m3 11h0m3-61h0m4-63h0m3 17h0m4-8h0m3-47h0m3-49h0m4 66h0m3 95h0m4-24h0m3-96h0m4-47h0m3 29h0m3 60h0m4 46h0m3-8h0m4-47h0m3-8h0m3 66h0m4 25h0m3-64h0m4 10h0m3 65h0m4 11h0m3-58h0m3-6h0m4 26h0m3 46h0m4 15h0m3-14h0m3-46h0m4-38h0m3-97h0m4-111h0m3 49h0m4 72h0m3-24h0m3-3h0m4 44h0m3 42h0m4 13h0m3 8h0m4-59h0m3-55h0m3 31h0m4 48h0m3-15h0m4 23h0m3 57h0m3 77h0m4 11h0m3-46h0m4-33h0m3-67h0m4-10h0m3 32h0m3-33h0m4-46h0m3 102h0m4 145h0m3-28h0m3-115h0m4-9h0m3 8h0m4-61h0m3-37h0m4 69h0m3 43h0m3-41h0m4-118h0m3-95h0m4 10h0m3 2h0m3 46h0m4 31h0m3 108h0m4 57h0m3-10h0m4 18h0m3 6h0m3 6h0m4 13h0m3-16h0m4-28h0m3-43h0m3-42h0m4-29h0m3 27h0m4 111h0m3-6h0m4-99h0m3-29h0m3 54h0m4 94h0m3 72h0m4-11h0m3-41h0m3-73h0m4-18h0m3-9h0m4 62h0m3 82h0m4 0h0m3-99h0m3 5h0m4 44h0m3 5h0m4 0h0m3 11h0m4-14h0m3-39h0m3 30h0m4 27h0m3-10h0m4-79h0m3 5h0m3 18h0m4-18h0m3 22h0m4 3h0m3-56h0m4-44h0m3 55h0m3 36h0m4-33h0m3-19h0m4-23h0m3-33h0m3 3h0m4 51h0m3 13h0m4 32h0m3 7h0m4 20h0m3 83h0m3-13h0m4-115h0m3-36h0m4 1h0m3-19h0m3 31h0m4 96h0m3 50h0m4-73h0m3-114h0m4-18h0m3 21h0m3 59h0m4 70h0m3 35h0m4 31h0m3 2h0m3 2h0m4-6h0m3-17h0m4-28h0m3-73h0m4-9h0m3 5h0m3-52h0m4-60h0m3-47h0m4-39h0m3 23h0m4 91h0m3 110h0m3 17h0m4-3h0m3 23h0m4-10h0m3 30h0m3-5h0m4-84h0m3 3h0m4 3h0m3-21h0m4 57h0m3 70h0m3-23h0m4-106h0m3-69h0m4-11h0m3-76h0m3-42h0m4 59h0m3 93h0m4 89h0m3 58h0m4 63h0m3 9h0m3-66h0m4-90h0m3-24h0m4 51h0m3 73h0m3-16h0m4-30h0m3-20h0m4 10h0m3 65h0m4 16h0m3-19h0m3 1h0m4-88h0m3-69h0m4 47h0m3 42h0m3-39h0m4-41h0m3 51h0m4 37h0m3 15h0m4-26h0m3-65h0m3 1h0m4 50h0m3-6h0m4 16h0m3-6h0m3-42h0m4-10h0m3-38h0m4-45h0m3 6h0m4 45h0m3-36h0m3-20h0m4 45h0m3 80h0m4 44h0m3-7h0m4-62h0m3-50h0m3-8h0m4 27h0m3 29h0m4-33h0m3-37h0m3 25h0m4 3h0m3-41h0m4 86h0m3 106h0m4-12h0m3-63h0m3 42h0m4 1h0m3-76h0m4-28h0m3 72h0m3 23h0m4-4h0m3-35h0m4-68h0m3-50h0m4-95h0m3 9h0m3 79h0m4 109h0m3 63h0m4-91h0m3-58h0m3-1h0m4-36h0m3-12h0m4 30h0m3 46h0m4 46h0m3 29h0m3 27h0m4-60h0m3-105h0m4 15h0m3 73h0m3 44h0m4 2h0m3-18h0m4 21h0m3 76h0m4 52h0m3-31h0m3-56h0m4-37h0m3-10h0m4 6h0m3-7h0m4-57h0m3-47h0m3-38h0m4-87h0m3-12h0m4 68h0m3 117h0m3 83h0m4 17h0m3-40h0m4-1h0m3 5h0m4-10h0m3-5h0m3-46h0m4 0h0m3 32h0m4-4h0m3 21h0m3 35h0m4-32h0m3-8h0m4 73h0m3 46h0m4-26h0m3-56h0m3-64h0m4-10h0m3 3h0m4-6h0m3 9h0m3-19h0m4-64h0m3-45h0m4-9h0m3 41h0m4 130h0m3 40h0m3-75h0m4-98h0m3-8h0m4 51h0m3 55h0m3 66h0m4 40h0m3-69h0m4-98h0m3-43h0m4-17h0m3 79h0m3 105h0m4 19h0m3-8h0m4 42h0m3 18h0m3-20h0m4 35h0m3 53h0m4 41h0m3 7h0m4-30h0m3-49h0" fill="none" stroke="#0070C4" stroke-width="114" stroke-linecap="round"/><path transform="scale(.1)" d="M1362 9890h0m3-123h0m4-1h0m3-20h0m4-23h0m3 36h0m4 31h0m3 38h0m3 17h0m4-61h0m3-62h0m4 5h0m3 13h0m3-9h0m4 11h0m3 6h0m4-21h0m3 24h0m4 3h0m3-25h0m3-5h0m4 7h0m3-30h0m4 16h0m3 42h0m3-23h0m4-18h0m3 41h0m4 35h0m3-28h0m4 12h0m3 23h0m3-25h0m4-11h0m3 18h0m4 45h0m3-5h0m3-51h0m4-30h0m3-7h0m4-3h0m3-8h0m4 6h0m3 11h0m3 3h0m4 15h0m3 22h0m4-7h0m3-22h0m3 31h0m4 13h0m3-2h0m4-2h0m3-54h0m4-17h0m3 21h0m3 23h0m4 34h0m3 10h0m4-17h0m3-56h0m3-18h0m4 29h0m3 3h0m4-1h0m3 0h0m4 16h0m3 19h0m3-43h0m4-32h0m3 25h0m4 44h0m3 7h0m4 3h0m3-7h0m3-29h0m4-27h0m3-12h0m4 29h0m3-22h0m3-34h0m4 56h0m3 59h0m4-5h0m3-42h0m4-7h0m3 31h0m3-4h0m4-28h0m3-12h0m4-3h0m3-3h0m3 5h0m4 2h0m3 13h0m4 4h0m3 17h0m4 41h0m3-2h0m3-41h0m4-55h0m3-15h0m4-12h0m3-29h0m3 36h0m4 42h0m3 29h0m4 24h0m3 11h0m4-18h0m3-45h0m3-25h0m4-6h0m3 29h0m4 19h0m3-21h0m3-29h0m4 32h0m3 29h0m4-6h0m3-36h0m4-15h0m3-2h0m3-16h0m4-46h0m3-33h0m4 32h0m3 67h0m4 17h0m3-33h0m3 30h0m4 74h0m3 25h0m4-67h0m3-62h0m3 12h0m4 52h0m3 31h0m4 11h0m3 40h0m4 1h0m3-39h0m3-47h0m4-23h0m3-19h0m4-24h0m3-8h0m3 10h0m4 23h0m3 27h0m4-28h0m3-29h0m4 16h0m3 34h0m3 34h0m4-8h0m3-41h0m4-22h0m3 31h0m3 35h0m4 18h0m3-50h0m4-112h0m3-6h0m4 43h0m3-3h0m3-27h0m4 78h0m3 67h0m4 1h0m3-19h0m3-2h0m4 35h0m3 7h0m4 8h0m3 6h0m4 39h0m3 18h0m3-59h0m4-28h0m3-39h0m4-5h0m3 49h0m3 49h0m4-21h0m3-31h0m4-36h0m3-56h0m4-20h0m3 8h0m3 26h0m4 27h0m3 13h0m4 28h0m3 55h0m4 42h0m3 0h0m3-41h0m4-67h0m3-53h0m4 25h0m3 39h0m3 24h0m4 5h0m3-5h0m4-49h0m3-32h0m4 47h0m3 15h0m3-24h0m4-9h0m3 27h0m4-10h0m3 9h0m3-10h0m4-23h0m3-17h0m4-31h0m3-1h0m4 22h0m3-10h0m3 58h0m4 79h0m3 40h0m4-19h0m3-42h0m3-52h0m4-41h0m3-64h0m4-21h0m3 65h0m4 76h0m3-4h0m3-26h0m4 5h0m3-25h0m4-24h0m3 40h0m3 43h0m4-5h0m3-24h0m4-18h0m3 37h0m4 3h0m3-33h0m3-23h0m4-10h0m3-5h0m4-6h0m3 41h0m3-6h0m4-28h0m3 28h0m4-16h0m3-3h0m4 10h0m3 29h0m3 18h0m4 36h0m3-14h0m4-42h0m3-82h0m4-27h0m3 76h0m3 63h0m4 10h0m3 23h0m4-3h0m3-41h0m3 10h0m4 20h0m3-35h0m4-29h0m3 4h0m4 13h0m3 30h0m3 32h0m4 2h0m3 13h0m4 5h0m3 10h0m3-34h0m4-81h0m3-46h0m4-32h0m3 26h0m4 51h0m3-2h0m3 5h0m4-56h0m3-1h0m4 59h0m3 31h0m3 0h0m4 43h0m3 32h0m4-44h0m3-27h0m4 6h0m3-4h0m3-12h0m4 6h0m3 25h0m4 19h0m3-14h0m3 36h0m4 13h0m3 25h0m4-32h0m3-33h0m4-24h0m3-32h0m3 7h0m4 28h0m3 4h0m4 24h0m3-40h0m4-41h0m3 15h0m3 36h0m4 1h0m3-37h0m4 2h0m3 37h0m3 35h0m4 2h0m3-29h0m4-71h0m3-47h0m4 21h0m3 95h0m3 29h0m4-17h0m3-19h0m4-25h0m3-14h0m3-13h0m4 7h0m3 20h0m4 49h0m3 16h0m4-26h0m3 8h0m3 27h0m4-6h0m3-50h0m4 13h0m3 2h0m3 28h0m4 0h0m3-13h0m4-7h0m3-19h0m4 24h0m3-48h0m3-55h0m4 19h0m3 32h0m4-21h0m3-11h0m3 11h0m4 41h0m3-3h0m4 44h0m3 37h0m4 9h0m3-15h0m3-14h0m4 7h0m3-19h0m4-33h0m3 2h0m3-5h0m4 6h0m3 12h0m4 20h0m3-22h0m4-33h0m3 32h0m3 41h0m4 29h0m3-56h0m4-43h0m3 14h0m4 11h0m3 10h0m3-59h0m4 21h0m3 30h0m4 42h0m3-44h0m3-15h0m4 41h0m3-25h0m4-43h0m3-62h0m4 9h0m3 34h0m3 15h0m4-38h0m3-56h0m4-1h0m3 48h0m3 68h0m4-41h0m3-32h0m4 28h0m3 40h0m4 54h0m3-11h0m3-44h0m4-22h0m3 24h0m4 17h0m3-18h0m3-35h0m4 6h0m3-1h0m4-7h0m3 11h0m4 41h0m3 3h0m3-45h0m4-30h0m3 10h0m4 34h0m3 47h0m3 27h0m4-15h0m3-88h0m4-38h0m3 14h0m4 11h0m3 81h0m3 27h0m4-20h0m3 11h0m4 68h0m3 3h0m4-35h0m3 1h0m3-16h0m4-17h0m3-26h0m4-49h0m3-15h0m3 26h0m4 62h0m3 16h0m4-39h0m3-15h0m4 7h0m3 25h0m3 9h0m4-60h0m3-30h0m4 8h0m3 3h0m3 11h0m4-65h0m3-2h0m4 2h0m3 18h0m4 47h0m3 66h0m3 2h0m4 6h0m3-27h0m4-23h0m3-9h0m3-5h0m4 5h0m3 12h0m4-19h0m3-13h0m4-28h0m3 31h0m3 3h0m4 5h0m3 20h0m4 66h0m3 22h0m3-38h0m4-62h0m3-20h0m4-8h0m3 32h0m4 3h0m3 23h0m3 26h0m4-49h0m3-58h0m4-52h0m3-9h0m3 20h0m4 92h0m3 14h0m4-18h0m3 13h0m4 45h0m3 26h0m3 38h0m4-17h0m3-48h0m4 23h0m3-49h0m4-37h0m3-26h0m3 49h0m4 28h0m3 7h0m4-22h0m3 18h0m3-60h0m4-57h0m3-45h0m4 26h0m3 72h0m4 3h0m3-26h0m3 0h0m4 27h0m3 45h0m4-76h0m3-21h0m3 17h0m4 32h0m3-25h0m4 26h0m3 60h0m4-5h0m3-37h0m3-60h0m4 22h0m3 18h0m4-25h0m3-14h0m3 41h0m4 17h0m3-17h0m4-7h0m3 9h0m4-36h0m3-38h0m3 48h0m4 8h0m3-21h0m4-19h0m3-37h0m3 20h0m4 38h0m3 0h0m4-21h0m3-28h0m4 5h0m3 13h0m3 24h0m4 45h0m3 71h0m4-23h0m3-58h0m3-14h0m4-15h0m3-16h0m4-1h0m3 91h0m4-6h0m3-45h0m3-4h0m4-36h0m3-1h0m4 43h0m3 25h0m4-60h0m3-35h0m3 82h0m4 52h0m3-32h0m4-98h0m3-53h0m3-14h0m4 74h0m3 42h0m4-3h0m3 7h0m4 44h0m3 3h0m3 32h0m4-59h0m3 40h0m4-66h0m3-23h0m3-21h0m4-30h0m3-11h0m4-21h0m3-3h0m4 38h0m3 11h0m3-5h0m4 45h0m3-1h0m4-9h0m3-65h0m3 11h0m4 21h0m3 20h0m4 95h0m3-21h0m4 3h0m3-79h0m3-54h0m4-1h0m3 12h0m4 6h0m3 46h0m3 70h0m4 19h0m3-12h0m4-38h0m3 1h0m4-19h0m3 28h0m3 6h0m4 9h0m3 47h0m4 8h0m3-80h0m4-137h0m3-23h0m3 78h0m4 73h0m3 29h0m4-3h0m3 0h0m3-35h0m4-105h0m3-32h0m4 48h0m3 47h0m4-53h0m3-49h0m3 43h0m4 69h0m3-25h0m4 14h0m3-70h0m3-7h0m4 72h0m3 56h0m4 18h0m3-26h0m4-42h0m3-48h0m3-19h0m4 6h0m3 8h0m4 28h0m3-20h0m3-16h0m4 7h0m3-1h0m4 38h0m3-38h0m4 56h0m3 23h0m3-9h0m4-44h0m3 13h0m4 98h0m3 15h0m3-42h0m4-32h0m3-21h0m4-73h0m3-57h0m4 28h0m3 18h0m3 19h0m4 0h0m3-61h0m4 5h0m3 17h0m3-49h0m4-1h0m3-44h0m4 32h0m3 12h0m4 2h0m3 28h0m3-32h0m4-39h0m3 12h0m4 6h0m3 14h0m4-4h0m3-1h0m3 2h0m4 72h0m3 2h0m4-28h0m3-6h0m3 23h0m4-38h0m3-34h0m4 32h0m3-4h0m4-14h0m3 9h0m3-37h0m4-3h0m3 98h0m4 6h0m3 59h0m3-9h0m4 56h0m3-77h0m4-46h0m3-81h0m4 70h0m3 25h0m3-24h0m4-29h0m3-57h0m4 12h0m3 2h0m3-53h0m4-20h0m3 6h0m4 55h0m3 57h0m4 53h0m3-38h0m3-7h0m4-49h0m3-58h0m4-40h0m3-17h0m3 115h0m4-66h0m3 58h0m4-66h0m3 70h0m4-80h0m3 27h0m3 8h0m4 36h0m3-84h0m4-7h0m3-11h0m4-10h0m3 46h0m3-22h0m4-3h0m3 11h0m4-41h0m3 67h0m3-70h0m4-49h0m3 20h0m4-69h0m3 52h0m4 3h0m3 54h0m3-18h0m4-52h0m3-43h0m4 63h0m3-37h0m3-59h0m4 75h0m3-117h0m4 16h0m3 27h0m4-55h0m3 17h0m3-31h0m4-2h0m3 17h0m4-90h0m3 36h0m3 62h0m4-135h0m3-48h0m4 101h0m3-16h0m4-67h0m3 37h0m3 11h0m4 67h0m3-59h0m4 6h0m3-22h0m3-55h0m4-99h0m3 17h0m4-10h0m3 37h0m4-19h0m3-113h0m3 134h0m4-89h0m3-66h0m4 38h0m3-59h0m3-5h0m4 7h0m3-53h0m4-177h0m3 155h0m4-19h0m3-59h0m3-37h0m4 62h0m3-42h0m4-61h0m3 1h0m4-31h0m3 55h0m3-38h0m4-98h0m3 22h0m4-76h0m3 46h0m3 3h0m4-108h0m3-177h0m4 95h0m3 41h0m4 40h0m3-166h0m3-51h0m4 14h0m3-30h0m4-289h0m3 139h0m3-126h0m4 88h0m3-120h0m4 55h0m3-98h0m4-125h0m3 31h0m3-42h0m4-70h0m3 91h0m4-49h0m3 82h0m3-160h0m4-92h0m3 5h0m4 23h0m3-7h0m4-57h0m3-121h0m3-43h0m4 138h0m3-255h0m4 103h0m3-225h0m3 130h0m4-152h0m3 193h0m4-46h0m3 66h0m4-43h0m3-130h0m3-105h0m4 62h0m3-94h0m4 139h0m3 34h0m3-222h0m4 176h0m3 14h0m4-108h0m3-56h0m4 187h0m3 6h0m3-19h0m4-4h0m3 119h0m4 14h0m3-14h0m4 36h0m3 137h0m3-191h0m4-51h0m3 261h0m4-16h0m3 107h0m3 69h0m4-1h0m3 140h0m4-86h0m3 37h0m4 204h0m3 7h0m3 36h0m4 52h0m3 48h0m4-50h0m3 108h0m3 2h0m4-4h0m3 20h0m4 138h0m3-70h0m4-77h0m3 157h0m3 140h0m4-34h0m3 5h0m4 135h0m3 85h0m3-160h0m4 84h0m3 132h0m4 59h0m3 70h0m4-135h0m3-16h0m3 122h0m4 49h0m3 6h0m4 41h0m3-60h0m3 29h0m4 98h0m3 32h0m4 1h0m3 89h0m4-54h0m3 44h0m3 35h0m4 47h0m3 100h0m4-33h0m3 11h0m4-77h0m3-44h0m3 72h0m4 56h0m3 15h0m4-44h0m3 127h0m3 25h0m4-1h0m3-30h0m4 5h0m3 71h0m4 25h0m3-5h0m3 20h0m4-20h0m3 79h0m4 40h0m3 6h0m3-16h0m4 19h0m3-57h0m4 112h0m3-116h0m4 6h0m3-12h0m3 30h0m4 16h0m3 72h0m4-36h0m3 14h0m3-72h0m4 18h0m3-41h0m4 61h0m3-38h0m4-50h0m3-8h0m3 15h0m4 47h0m3 13h0m4 143h0m3 24h0m3 18h0m4 45h0m3-118h0m4-5h0m3-28h0m4-32h0m3 2h0m3 60h0m4 23h0m3 29h0m4 37h0m3 11h0m3 26h0m4-53h0m3-10h0m4 46h0m3 36h0m4 24h0m3-75h0m3-60h0m4-10h0m3-13h0m4 38h0m3 94h0m4-12h0m3-78h0m3 16h0m4 4h0m3 65h0m4 16h0m3-27h0m3-27h0m4 7h0m3-53h0m4 7h0m3-14h0m4-22h0m3-15h0m3 121h0m4 32h0m3 40h0m4-24h0m3-37h0m3-4h0m4-52h0m3 24h0m4 54h0m3-4h0m4-22h0m3 8h0m3 36h0m4-58h0m3 31h0m4 15h0m3-38h0m3-29h0m4 31h0m3-31h0m4 41h0m3 42h0m4 1h0m3-21h0m3-26h0m4 16h0m3-38h0m4 30h0m3-4h0m3 20h0m4-14h0m3 34h0m4-6h0m3-15h0m4-11h0m3-19h0m3 9h0m4 32h0m3 1h0m4 39h0m3-34h0m3-46h0m4-41h0m3-17h0m4 40h0m3 4h0m4 23h0m3-5h0m3 27h0m4-41h0m3 58h0m4 37h0m3-19h0m4-12h0m3-1h0m3 54h0m4 18h0m3 37h0m4-8h0m3-24h0m3-4h0m4-47h0m3 12h0m4-26h0m3-50h0m4-16h0m3 92h0m3 75h0m4 31h0m3-57h0m4-36h0m3 18h0m3 4h0m4-53h0m3-37h0m4-40h0m3-4h0m4 38h0m3 61h0m3-42h0m4-37h0m3-22h0m4 70h0m3 75h0m3 20h0m4-33h0m3 38h0m4-10h0m3-40h0m4-70h0m3 6h0m3 52h0m4 37h0m3-39h0m4-38h0m3 44h0m3-66h0m4 25h0m3 74h0m4-39h0m3-13h0m4-3h0m3-13h0m3-98h0m4 15h0m3 26h0m4 35h0m3-31h0m4 55h0m3 86h0m3 48h0m4-25h0m3-73h0m4-32h0m3-9h0m3 29h0m4-29h0m3-5h0m4-13h0m3-8h0m4 26h0m3 8h0m3-28h0m4 3h0m3 62h0m4 18h0m3-40h0m3-26h0m4 20h0m3-4h0m4-8h0m3-30h0m4-5h0m3 59h0m3 25h0m4 35h0m3-31h0m4-19h0m3-36h0m3-12h0m4 39h0m3 69h0m4-27h0m3 2h0m4 22h0m3-5h0m3-34h0m4-14h0m3-25h0m4-25h0m3-21h0m3 57h0m4 15h0m3-32h0m4-59h0m3 62h0m4 0h0m3-36h0m3 46h0m4 14h0m3-15h0m4-38h0m3-19h0m3 27h0m4 6h0m3 12h0m4 41h0m3-43h0m4 23h0m3-13h0m3 16h0m4-1h0m3-42h0m4 16h0m3 3h0m4-16h0m3-43h0m3-53h0m4-8h0m3 3h0m4 65h0m3 51h0m3-31h0m4-9h0m3-23h0m4-23h0m3 43h0m4 28h0m3-10h0m3-5h0m4-62h0m3 0h0m4-18h0m3 46h0m3 28h0m4-21h0m3 21h0m4-5h0m3 42h0m4 63h0m3-83h0m3-62h0m4-40h0m3-10h0m4 51h0m3 1h0m3 42h0m4-12h0m3-18h0m4 32h0m3 1h0m4 18h0m3-36h0m3-28h0m4 29h0m3-15h0m4-11h0m3-31h0m3 31h0m4 31h0m3 31h0m4-28h0m3-97h0m4 18h0m3 33h0m3 36h0m4-36h0m3-49h0m4-47h0m3-6h0m3 36h0m4-11h0m3-11h0m4 55h0m3 23h0m4-58h0m3-8h0m3 9h0m4 25h0m3-12h0m4-104h0m3 53h0m4-27h0m3 64h0m3 52h0m4-17h0m3-6h0m4-72h0m3-32h0m3 67h0m4-36h0m3 14h0m4-2h0m3-16h0m4-53h0m3-21h0m3 53h0m4-49h0m3-18h0m4 97h0m3-156h0m3 55h0m4-26h0m3 36h0m4-13h0m3-82h0m4 31h0m3 13h0m3 26h0m4 37h0m3-41h0m4-37h0m3 63h0m3 5h0m4-39h0m3-35h0m4 30h0m3-62h0m4 50h0m3 41h0m3-9h0m4-38h0m3-99h0m4 42h0m3-5h0m3-27h0m4 33h0m3-38h0m4-15h0m3 31h0m4 56h0m3-27h0m3-6h0m4-33h0m3 13h0m4-35h0m3 32h0m4-44h0m3-61h0m3-17h0m4-28h0m3-18h0m4 90h0m3-81h0m3 60h0m4-48h0m3-46h0m4 31h0m3 110h0m4 48h0m3-44h0m3 22h0m4-38h0m3 15h0m4 39h0m3 72h0m3-63h0m4-97h0m3 35h0m4 29h0m3 126h0m4-52h0m3-90h0m3 19h0m4 12h0m3 140h0m4 33h0m3 39h0m3 29h0m4 4h0m3 52h0m4-35h0m3-83h0m4-74h0m3 38h0m3 98h0m4-3h0m3 19h0m4 70h0m3-84h0m3-12h0m4 61h0m3 89h0m4 40h0m3-42h0m4-136h0m3 48h0m3 16h0m4 78h0m3-20h0m4 109h0m3 29h0m3 22h0m4-69h0m3 3h0m4-44h0m3-52h0m4 10h0m3 40h0m3 102h0m4-2h0m3-25h0m4 19h0m3 40h0m4-61h0m3-35h0m3 26h0m4-3h0m3-47h0m4 77h0m3 56h0m3 4h0m4 24h0m3-8h0m4-102h0m3 4h0m4 23h0m3 40h0m3 26h0m4-8h0m3-25h0m4 13h0m3-4h0m3-15h0m4-47h0m3 54h0m4 8h0m3 44h0m4-13h0m3-64h0m3-10h0m4 2h0m3 4h0m4-18h0m3 53h0m3 69h0m4-15h0m3-28h0m4 23h0m3 17h0m4 15h0m3-36h0m3-13h0m4-20h0m3 3h0m4 26h0m3-4h0m3-15h0m4-43h0m3 19h0m4 24h0m3-76h0m4 0h0m3 59h0m3 69h0m4 3h0m3-38h0m4-36h0m3 8h0m4-1h0m3 10h0m3-21h0m4-20h0m3 34h0m4 35h0m3-30h0m3-45h0m4 21h0m3 57h0m4 40h0m3 38h0m4-10h0m3-92h0m3-101h0m4-7h0m3 31h0m4 44h0m3 15h0m3-7h0m4-18h0m3 9h0m4 36h0m3 40h0m4 68h0m3 19h0m3-53h0m4-63h0m3 17h0m4-10h0m3-34h0m3-22h0m4-2h0m3-9h0m4 61h0m3 8h0m4-16h0m3-27h0m3 26h0m4 29h0m3 30h0m4 19h0m3 24h0m3-46h0m4-36h0m3-13h0m4 36h0m3 31h0m4 12h0m3 16h0m3-77h0m4-40h0m3 8h0m4 33h0m3-17h0m3-8h0m4 49h0m3 4h0m4-5h0m3-12h0m4 5h0m3-12h0m3-28h0m4 45h0m3 62h0m4-19h0m3-71h0m4-17h0m3 23h0m3-16h0m4-37h0m3-7h0m4 52h0m3 78h0m3 39h0m4 38h0m3-8h0m4-59h0m3-25h0m4 41h0m3 21h0m3-62h0m4 9h0m3 43h0m4-10h0m3-40h0m3-25h0m4-5h0m3 1h0m4 9h0m3-50h0m4-38h0m3 14h0m3 20h0m4-6h0m3-29h0m4 32h0m3 68h0m3 25h0m4 6h0m3-56h0m4-28h0m3-8h0m4 36h0m3 23h0m3 16h0m4 3h0m3 16h0m4-19h0m3-7h0m3 22h0m4-5h0m3-17h0m4-28h0m3 0h0m4-40h0m3-56h0m3 14h0m4 72h0m3 55h0m4 46h0m3 19h0m3-8h0m4-12h0m3-64h0m4-35h0m3-13h0m4 52h0m3 23h0m3 4h0m4-43h0m3-18h0m4 6h0m3 4h0m4-10h0m3 22h0m3 39h0m4 12h0m3 7h0m4 35h0m3-20h0m3-48h0m4-38h0m3 26h0m4 42h0m3-18h0m4-66h0m3 4h0m3 57h0m4 33h0m3 31h0m4-10h0m3-63h0m3-43h0m4 0h0m3 6h0m4-12h0m3 25h0m4 28h0m3 23h0m3-37h0m4-30h0m3 5h0m4-6h0m3 3h0m3 1h0m4-21h0m3-10h0m4-6h0m3 8h0m4 33h0m3 20h0m3-1h0m4 50h0m3-1h0m4-20h0m3-22h0m3 25h0m4 32h0m3 0h0m4-33h0m3-51h0m4-10h0m3-8h0m3-16h0m4 9h0m3 56h0m4 72h0m3-32h0m4-108h0m3-65h0m3 36h0m4 43h0m3 22h0m4-7h0m3-32h0m3-4h0m4 7h0m3 32h0m4 29h0m3-3h0m4-7h0m3 3h0m3 6h0m4 3h0m3-15h0m4 6h0m3 40h0m3 23h0m4 1h0m3-29h0m4-34h0m3-52h0m4-40h0m3-6h0m3 62h0m4 55h0m3-25h0m4-52h0m3-7h0m3 49h0m4 30h0m3 18h0m4 0h0m3-36h0m4 9h0m3-9h0m3-1h0m4-17h0m3-30h0m4 14h0m3 45h0m3 39h0m4-1h0m3-43h0m4-36h0m3 44h0m4 61h0m3-9h0m3-33h0m4-10h0m3-9h0m4-10h0m3-11h0m3-7h0m4 1h0m3 28h0m4 51h0m3 20h0m4-64h0m3-62h0m3-12h0m4 25h0m3 51h0m4-4h0m3-7h0m4 17h0m3 1h0m3-12h0m4-3h0m3 1h0m4 5h0m3 8h0m3 7h0m4 22h0m3 0h0m4-14h0m3-32h0m4-14h0m3 2h0m3 35h0m4-14h0m3-35h0m4 31h0m3 62h0m3 24h0m4-1h0m3 10h0m4-11h0m3 0h0m4-20h0m3-4h0m3-4h0m4-43h0m3-14h0m4 26h0m3 39h0m3-20h0m4-27h0m3-14h0m4-34h0m3-4h0m4 23h0m3 30h0m3 17h0m4 27h0m3 14h0m4 21h0m3 3h0m3-8h0m4-40h0m3-43h0m4-4h0m3 40h0m4 9h0m3-9h0m3 20h0m4 31h0m3-11h0m4-37h0m3-53h0m3-31h0m4-2h0m3 8h0m4 28h0m3 12h0m4-27h0m3 14h0m3 4h0m4-23h0m3 42h0m4 67h0m3 17h0m4 7h0m3 31h0m3-19h0m4-62h0m3-73h0m4-33h0m3 30h0m3 41h0m4-26h0m3 19h0m4 18h0m3-16h0m4-24h0m3-45h0m3 0h0m4-4h0m3-25h0m4-4h0m3 44h0m3 69h0m4 21h0m3-11h0m4-7h0m3 11h0m4-25h0m3-22h0m3 9h0m4 9h0m3 37h0m4 30h0m3-20h0m3-24h0m4 6h0m3-25h0m4-19h0m3 12h0m4-16h0m3-33h0m3 5h0m4-7h0m3-30h0m4-23h0m3-10h0m3 48h0m4 82h0m3 42h0m4-31h0m3-19h0m4 17h0m3 37h0m3 22h0m4 17h0m3-19h0m4-42h0m3-81h0m4-14h0m3 19h0m3 15h0m4-40h0m3-26h0m4 11h0m3 34h0m3 42h0m4 12h0m3-6h0m4 7h0m3 23h0m4 5h0m3-26h0m3 10h0m4-3h0m3-48h0m4 8h0m3 22h0m3-41h0m4-24h0m3 10h0m4 18h0m3-19h0m4-13h0m3 3h0m3 13h0m4 19h0m3 41h0m4 2h0m3-10h0m3 13h0m4 26h0m3 11h0m4 52h0m3 37h0m4-56h0m3-43h0m3-29h0m4-15h0m3 18h0m4 21h0m3-6h0m3-24h0m4-9h0m3-21h0m4-20h0m3 28h0m4 62h0m3 17h0m3-30h0m4-41h0m3-27h0m4 3h0m3 47h0m3 31h0m4 8h0m3 37h0m4 10h0m3-18h0m4-55h0m3-76h0m3 15h0m4 75h0m3 16h0m4-11h0m3 25h0m4 45h0m3 7h0m3-53h0m4-24h0m3-40h0m4-9h0m3-22h0m3-34h0m4-23h0m3-8h0m4-26h0m3-1h0m4 60h0m3 60h0m3 59h0m4 0h0m3 0h0m4 2h0m3-17h0m3-15h0m4 32h0m3 0h0m4-46h0m3-27h0m4 9h0m3-27h0m3-27h0m4 12h0m3 35h0m4 20h0m3 34h0m3-14h0m4-28h0m3-6h0m4-19h0m3-24h0m4 53h0m3 83h0m3 36h0m4-46h0m3-84h0m4-11h0m3 8h0m3-12h0m4-20h0m3 8h0m4 22h0m3 3h0m4 36h0m3 37h0m3 26h0m4-25h0m3-35h0m4-38h0m3 1h0m4 28h0m3-47h0m3-61h0m4-7h0m3-16h0m4 26h0m3 49h0m3 60h0m4 7h0m3 25h0m4 18h0m3-77h0m4-61h0m3 9h0m3 50h0m4-9h0m3-12h0m4 29h0m3-20h0m3-87h0m4 6h0m3 49h0m4 3h0m3 14h0m4 33h0m3-1h0m3-9h0m4 39h0m3 29h0m4 19h0m3 31h0m3-32h0m4-70h0m3-63h0m4-18h0m3 43h0m4 19h0m3 25h0m3 36h0m4 1h0m3-40h0m4 11h0m3-1h0m3-70h0m4-60h0m3 40h0m4 77h0m3 54h0m4 49h0m3 21h0m3-11h0m4-25h0m3 18h0m4-16h0m3-12h0m3-12h0m4-10h0m3-32h0m4-38h0m3-41h0m4 17h0m3 17h0m3 29h0m4-21h0m3-38h0m4 7h0m3-14h0m4-22h0m3 31h0m3 61h0m4 37h0m3-3h0m4 12h0m3 30h0m3-7h0m4-31h0m3-39h0m4-23h0m3 1h0m4-3h0m3 27h0m3 37h0m4 9h0m3-58h0m4-65h0m3 0h0m3-16h0m4-35h0m3-2h0m4 101h0m3 60h0m4-34h0m3 13h0m3 20h0m4-38h0m3-49h0m4-14h0m3 34h0m3 56h0m4 7h0m3-15h0m4-31h0m3-49h0m4 9h0m3 39h0m3 29h0m4-11h0m3-52h0m4-7h0m3 83h0m3 51h0m4-30h0m3-76h0m4-27h0m3-12h0m4-6h0m3-4h0m3-12h0m4 3h0m3 34h0m4 79h0m3 25h0m3-6h0m4-22h0m3-44h0m4-31h0m3 12h0m4-17h0m3 0h0m3-23h0m4-17h0m3 40h0m4 36h0m3-1h0m4 3h0m3 41h0m3-17h0m4 15h0m3 1h0m4-3h0m3-39h0m3-14h0m4 23h0m3 32h0m4 0h0m3 2h0m4-28h0m3-7h0m3 29h0m4 30h0m3-23h0m4-21h0m3 24h0m3-10h0m4-49h0m3 6h0m4 0h0m3-19h0m4 24h0m3 30h0m3-27h0m4-31h0m3 12h0m4-9h0m3 15h0m3 5h0m4 9h0m3 63h0m4 9h0m3-38h0m4-7h0m3-7h0m3 10h0m4 2h0m3-14h0m4 24h0m3 63h0m3 18h0m4 8h0m3-61h0m4-55h0m3 11h0m4 43h0m3 17h0m3 16h0m4 2h0m3-29h0m4-1h0m3-8h0m4-22h0m3-53h0m3-16h0m4 24h0m3-9h0m4 24h0m3 45h0m3-13h0m4-42h0m3-35h0m4 27h0m3-8h0m4-14h0m3 8h0m3 35h0m4-15h0m3-13h0m4 32h0m3 18h0m3-42h0m4-47h0m3-16h0m4-11h0m3 53h0m4 30h0m3 18h0m3-30h0m4 6h0m3 20h0m4 3h0m3 1h0m3 10h0m4 9h0m3 9h0m4-20h0m3-37h0m4-24h0m3-26h0m3-2h0m4 29h0m3 23h0m4 7h0m3 27h0m3 3h0m4 4h0m3-18h0m4 44h0m3 3h0m4-26h0m3-12h0m3 6h0m4-11h0m3 12h0m4 8h0m3-13h0m3-51h0m4-8h0m3 35h0m4 73h0m3 7h0m4-48h0m3-87h0m3-35h0m4 19h0m3 44h0m4 20h0m3-16h0m4-43h0m3-24h0m3-13h0m4-34h0m3 5h0m4 37h0m3 89h0m3 42h0m4-16h0m3-10h0m4 14h0m3 17h0m4-8h0m3-42h0m3 4h0m4 38h0m3-79h0m4-82h0m3 19h0m3 32h0m4 54h0m3 63h0m4 3h0m3-12h0m4 29h0m3-39h0m3-43h0m4-30h0m3 10h0m4 60h0m3 48h0m3-17h0m4-35h0m3-1h0m4-3h0m3-46h0m4-18h0m3-11h0m3 15h0m4-16h0m3 1h0m4 0h0m3 87h0m3 55h0m4-37h0m3-41h0m4-22h0m3 35h0m4 50h0m3 32h0m3-19h0m4-34h0m3-35h0m4 5h0m3-3h0m3-51h0m4-22h0m3 31h0m4 69h0m3 41h0m4 20h0m3-18h0m3-31h0m4 13h0m3-8h0m4-44h0m3-60h0m4 18h0m3 53h0m3 30h0m4 32h0m3-59h0m4-29h0m3 5h0m3-24h0m4-35h0m3-22h0m4 18h0m3 5h0m4 26h0m3-23h0m3 0h0m4 51h0m3 31h0m4-3h0m3-3h0m3-12h0m4-65h0m3-30h0m4 6h0m3 23h0m4 30h0m3 48h0m3 43h0m4 2h0m3-25h0m4-39h0m3 6h0m3 50h0m4 6h0m3 7h0m4 11h0m3 11h0m4-23h0m3-15h0m3-28h0m4-39h0m3-44h0m4-31h0m3 34h0m3 29h0m4-15h0m3-31h0m4-4h0m3 29h0m4 26h0m3-27h0m3-29h0m4-9h0m3 41h0m4 37h0m3 7h0m4-9h0m3-13h0m3-21h0m4-12h0m3 9h0m4-9h0m3-11h0m3-37h0m4 36h0m3 48h0m4-5h0m3-33h0m4 18h0m3 22h0m3 5h0m4-33h0m3-4h0m4 1h0m3 2h0m3 5h0m4 20h0m3 24h0m4 7h0m3 12h0m4-29h0m3-29h0m3 18h0m4-5h0m3-62h0m4-33h0m3 9h0m3 41h0m4 62h0m3-8h0m4-33h0m3 12h0m4 26h0m3-20h0m3 19h0m4 62h0m3-2h0m4-53h0m3-31h0m3 0h0m4 57h0m3 59h0m4-43h0m3-48h0m4-37h0m3-10h0m3-26h0m4-4h0m3-9h0m4 47h0m3 39h0m3 3h0m4 10h0m3-1h0m4-38h0m3-37h0m4-13h0m3 4h0m3-1h0m4-13h0m3 45h0m4 46h0m3 22h0m4-35h0m3 14h0m3-36h0m4 16h0m3 21h0m4-19h0m3-36h0m3-14h0m4 27h0m3 17h0m4-13h0m3 14h0m4 40h0m3 27h0m3 17h0m4 18h0m3-19h0m4-78h0m3-69h0m3 4h0m4 48h0m3 42h0m4-1h0m3-53h0m4-15h0m3 50h0m3 32h0m4-45h0m3-35h0m4-8h0m3 15h0m3 30h0m4-19h0m3-12h0m4-21h0m3-9h0m4-7h0m3-21h0m3 1h0m4 26h0m3 15h0m4 15h0m3 24h0m3-2h0m4-27h0m3 25h0m4 14h0m3 10h0m4-25h0m3-68h0m3 24h0m4 51h0m3 29h0m4-10h0m3-48h0m4-18h0m3 21h0m3 49h0m4 5h0m3-28h0m4-11h0m3 7h0m3-5h0m4 32h0m3-33h0m4-41h0m3-14h0m4 20h0m3-7h0m3 32h0m4 12h0m3-23h0m4 12h0m3 8h0m3-70h0m4-41h0m3 20h0m4 43h0m3 25h0m4-17h0m3-56h0m3 13h0m4-4h0m3 22h0m4 40h0m3 2h0m3-11h0m4-16h0m3 31h0m4-34h0m3 28h0m4 58h0m3-22h0m3-3h0m4 51h0m3-3h0m4-46h0m3-25h0m3 16h0m4 23h0m3-1h0m4 1h0m3-48h0m4-52h0m3-3h0m3 52h0m4 19h0m3-1h0m4 24h0m3-29h0m3-69h0m4-36h0m3 1h0m4 9h0m3 42h0m4 30h0m3-32h0m3-41h0m4 11h0m3 61h0m4 34h0m3-31h0m4-8h0m3 11h0m3 22h0m4-48h0m3-9h0m4 39h0m3-13h0m3-44h0m4-23h0m3 8h0m4 32h0m3 24h0m4-19h0m3-23h0m3-11h0m4 25h0m3 44h0m4 2h0m3-1h0m3 9h0m4-31h0m3-41h0m4 39h0m3 65h0m4-20h0m3 7h0m3-66h0m4-30h0m3-11h0m4 55h0m3-38h0m3 9h0m4 42h0m3 10h0m4-21h0m3-43h0m4 10h0m3-38h0m3-13h0m4 34h0m3 29h0m4 59h0m3-6h0m3-54h0m4-6h0m3 21h0m4 30h0m3 11h0m4 3h0m3-56h0m3-41h0m4 54h0m3 19h0m4-20h0m3-45h0m3-29h0m4 47h0m3 9h0m4-41h0m3-12h0m4 9h0m3 21h0m3 13h0m4 19h0m3 15h0m4-47h0m3 14h0m4 16h0m3 43h0m3-22h0m4-17h0m3 18h0m4 13h0m3-29h0m3-72h0m4-4h0m3 52h0m4 14h0m3 18h0m4-12h0m3-55h0m3-25h0m4 0h0m3-45h0m4 10h0m3 46h0m3 37h0m4 8h0m3-20h0m4 27h0m3 28h0m4 2h0m3-17h0m3 11h0m4-63h0m3-14h0m4 15h0m3 61h0m3-8h0m4 24h0m3-21h0m4-76h0m3 26h0m4-19h0m3 25h0m3 23h0m4 47h0m3-32h0m4-44h0m3-20h0m3-75h0m4 41h0m3 16h0m4 4h0m3 37h0m4-37h0m3-25h0m3-47h0m4 15h0m3 26h0m4 20h0m3 39h0m4-68h0m3-57h0m3-12h0m4-30h0m3 52h0m4 32h0m3 0h0m3-38h0m4 5h0m3 74h0m4 4h0m3-13h0m4-20h0m3-13h0m3 35h0m4-63h0m3-30h0m4 11h0m3 44h0m3 72h0m4 9h0m3-75h0m4-48h0m3-42h0m4-10h0m3 43h0m3 22h0m4-12h0m3 51h0m4 1h0m3-52h0m3-27h0m4-14h0m3-41h0m4 3h0m3 128h0m4 57h0m3-23h0m3-74h0m4-32h0m3-117h0m4-17h0m3 62h0m3 8h0m4 50h0m3 29h0m4 16h0m3-59h0m4-24h0m3-11h0m3-68h0m4 45h0m3 10h0m4-35h0m3-17h0m3-16h0m4 15h0m3-25h0m4 31h0m3-26h0m4-23h0m3-7h0m3 23h0m4-55h0m3 12h0m4 15h0m3-81h0m4-86h0m3 116h0m3-41h0m4 49h0m3-7h0m4-115h0m3 33h0m3-12h0m4 63h0m3 49h0m4-134h0m3-11h0m4-29h0m3-8h0m3 102h0m4-41h0m3 7h0m4-33h0m3-25h0m3 68h0m4-88h0m3 73h0m4-54h0m3-91h0m4 19h0m3-39h0m3-76h0m4-8h0m3-1h0m4 59h0m3-13h0m3-41h0m4-46h0m3 70h0m4-53h0m3-46h0m4 12h0m3 17h0m3 43h0m4-85h0m3-123h0m4-43h0m3 17h0m3-27h0m4 158h0m3 11h0m4-123h0m3 120h0m4-82h0m3 100h0m3-50h0m4 37h0m3 26h0m4-16h0m3-126h0m4 92h0m3-200h0m3 14h0m4 19h0m3-26h0m4-12h0m3 13h0m3 59h0m4 69h0m3-113h0m4 8h0m3-5h0m4-122h0m3 25h0m3 59h0m4-152h0m3 121h0m4-14h0m3 107h0m3-61h0m4-50h0m3 49h0m4 92h0m3-67h0m4 35h0m3-13h0m3 79h0m4-48h0m3 72h0m4-37h0m3 21h0m3-30h0m4-61h0m3 104h0m4-64h0m3 149h0m4 78h0m3 16h0m3-135h0m4 17h0m3 85h0m4 60h0m3 12h0m3 8h0m4 70h0m3 61h0m4-16h0m3-35h0m4-23h0m3 38h0m3 6h0m4 27h0m3 10h0m4 136h0m3-115h0m3 9h0m4 18h0m3 39h0m4-60h0m3 66h0m4 96h0m3 41h0m3 18h0m4 69h0m3-115h0m4 108h0m3 6h0m4-28h0m3 27h0m3-52h0m4 20h0m3 11h0m4-9h0m3 15h0m3 52h0m4 17h0m3-59h0m4 4h0m3 10h0m4 37h0m3 37h0m3 25h0m4-35h0m3 43h0m4 51h0m3-39h0m3-73h0m4 45h0m3 40h0m4-36h0m3 24h0m4 15h0m3-92h0m3-34h0m4 52h0m3 64h0m4 22h0m3 22h0m3-12h0m4-2h0m3-20h0m4 2h0m3-26h0m4 6h0m3-8h0m3 46h0m4 94h0m3-47h0m4-60h0m3-86h0m3 17h0m4 14h0m3 68h0m4 54h0m3 44h0m4 58h0m3-82h0m3 18h0m4-32h0m3-51h0m4-17h0m3 1h0m3-13h0m4 80h0m3 46h0m4-6h0m3-29h0m4 18h0m3-8h0m3-1h0m4-1h0m3 3h0m4 18h0m3 35h0m4-11h0m3 13h0m3 3h0m4-12h0m3-105h0m4 21h0m3 42h0m3 9h0m4-10h0m3 45h0m4 26h0m3 25h0m4-15h0m3-1h0m3 24h0m4-61h0m3-24h0m4-49h0m3-36h0m3-31h0m4 4h0m3 56h0m4 2h0m3 52h0m4-39h0m3-32h0m3 32h0m4-10h0m3 40h0m4 53h0m3-36h0m3-19h0m4-25h0m3 33h0m4 9h0m3 25h0m4-3h0m3 0h0m3 27h0m4-9h0m3-12h0m4 10h0m3-4h0m3-22h0m4-26h0m3-37h0m4-8h0m3 15h0m4-5h0m3 73h0m3 25h0m4-33h0m3 9h0m4 26h0m3 25h0m4-40h0m3 2h0m3 19h0m4-31h0m3-14h0m4-5h0m3-25h0m3-3h0m4 61h0m3 7h0m4-35h0m3-41h0m4 21h0m3 19h0m3-33h0m4-56h0m3 5h0m4 52h0m3 64h0m3 71h0m4-22h0m3-43h0m4 0h0m3-28h0m4-61h0m3-16h0m3 80h0m4 78h0m3-11h0m4 3h0m3-21h0m3-74h0m4-51h0m3 10h0m4-2h0m3 27h0m4 29h0m3-13h0m3 15h0m4 64h0m3-36h0m4-58h0m3 0h0m3 53h0m4 4h0m3 21h0m4 46h0m3 21h0m4 28h0m3-51h0m3-72h0m4-87h0m3-2h0m4 40h0m3 9h0m3 16h0m4 5h0m3 39h0m4-20h0m3-41h0m4 23h0m3 16h0m3-22h0m4-15h0m3 18h0m4 6h0m3 4h0m4 57h0m3 8h0m3-43h0m4-50h0m3-8h0m4-17h0m3 6h0m3 34h0m4-1h0m3-28h0m4-13h0m3 7h0m4 26h0m3 25h0m3-8h0m4-59h0m3-4h0m4 28h0m3-9h0m3 50h0m4 36h0m3-33h0m4-23h0m3-2h0m4 43h0m3 28h0m3-34h0m4-27h0m3 25h0m4 54h0m3 0h0m3-46h0m4-31h0m3-19h0m4 32h0m3 24h0m4-20h0m3-35h0m3 9h0m4 35h0m3-57h0m4-30h0m3 43h0m3 91h0m4 24h0m3-29h0m4-58h0m3-47h0m4 18h0m3 51h0m3-7h0m4-30h0m3 51h0m4 51h0m3-26h0m3-67h0m4-5h0m3 11h0m4 17h0m3-44h0m4-22h0m3-13h0m3 29h0m4 27h0m3-21h0m4-4h0m3 34h0m4-5h0m3 19h0m3 19h0m4 4h0m3-43h0m4-43h0m3-61h0m3 27h0m4 51h0m3 30h0m4 17h0m3-28h0m4-20h0m3-1h0m3 32h0m4 17h0m3-56h0m4-60h0m3-9h0m3 23h0m4 36h0m3 23h0m4-16h0m3-13h0m4-40h0m3-8h0m3 38h0m4 61h0m3 48h0m4-18h0m3-27h0m3-35h0m4 31h0m3 11h0m4-22h0m3 16h0m4 3h0m3 20h0m3-11h0m4 11h0m3 7h0m4 60h0m3 0h0m3-38h0m4-24h0m3-41h0m4 6h0m3 31h0m4 30h0m3 3h0m3-26h0m4-21h0m3 37h0m4 38h0m3 67h0m4-8h0m3-22h0m3-65h0m4-6h0m3-3h0m4-33h0m3-3h0m3 21h0m4 9h0m3 25h0m4 43h0m3 31h0m4-38h0m3-62h0m3-48h0m4 22h0m3-3h0m4 7h0m3 19h0m3 23h0m4 18h0m3 10h0m4-95h0m3-41h0m4 31h0m3 11h0m3-12h0m4-15h0m3 9h0m4 58h0m3 28h0m3-65h0m4-55h0m3 10h0m4 7h0m3 14h0m4 31h0m3 27h0m3 35h0m4-14h0m3-64h0m4 20h0m3 22h0m3 13h0m4-45h0m3-34h0m4 50h0m3 10h0m4-48h0m3 11h0m3-10h0m4 8h0m3 62h0m4 59h0m3 10h0m3-23h0m4-29h0m3 64h0m4 13h0m3-30h0m4-50h0m3-35h0m3-13h0m4-48h0m3 31h0m4 14h0m3 11h0m4 6h0m3-13h0m3-27h0m4-36h0m3-1h0m4 63h0m3 24h0m3 14h0m4 47h0m3 52h0m4-10h0m3-39h0m4-57h0m3-4h0m3 47h0m4 37h0m3-40h0m4-78h0m3 9h0m3 77h0m4 21h0m3-56h0m4-31h0m3-31h0m4-5h0m3-11h0m3-1h0m4 14h0m3 41h0m4 29h0m3-35h0m3-53h0m4 32h0m3 45h0m4-4h0m3-21h0m4 29h0m3-16h0m3-18h0m4 3h0m3-22h0m4-28h0m3-2h0m3 37h0m4 3h0m3 12h0m4 1h0m3-34h0m4-33h0m3 3h0m3-1h0m4 32h0m3 58h0m4 1h0m3-9h0m3 14h0m4-21h0m3-35h0m4 6h0m3-6h0m4-14h0m3-16h0m3 54h0m4 37h0m3-19h0m4-50h0m3-19h0m4 27h0m3 50h0m3 23h0m4 12h0m3 12h0m4 20h0m3-1h0m3-31h0m4-36h0m3-2h0m4 21h0m3 43h0m4 4h0m3-1h0m3-57h0m4-8h0m3-30h0m4-2h0m3 23h0m3 13h0m4-31h0m3-43h0m4 9h0m3 55h0m4 22h0m3-4h0m3 25h0m4 20h0m3-27h0m4-38h0m3 11h0m3-3h0m4-36h0m3 34h0m4 37h0m3-5h0m4-21h0m3-12h0m3-52h0m4-22h0m3 23h0m4 78h0m3 1h0m3-53h0m4-3h0m3-3h0m4-23h0m3-42h0m4 36h0m3 80h0m3-23h0m4-8h0m3 17h0m4 5h0m3-63h0m4-65h0m3 26h0m3 53h0m4 28h0m3-30h0m4 17h0m3 37h0m3 14h0m4-8h0m3-34h0m4-27h0m3 39h0m4 16h0m3-2h0m3 7h0m4 15h0m3 32h0m4 7h0m3 13h0m3-16h0m4-36h0m3-14h0m4-33h0m3 7h0m4-5h0m3-13h0m3-31h0m4 14h0m3-4h0m4-18h0m3 25h0m3 49h0m4 28h0m3-25h0m4 13h0m3 13h0m4 10h0m3-15h0m3-62h0m4-7h0m3 25h0m4-10h0m3 52h0m3 32h0m4-70h0m3-28h0m4-9h0m3 8h0m4-17h0m3-7h0m3 2h0m4-51h0m3-16h0m4 85h0m3 77h0m3 11h0m4-23h0m3-48h0m4-42h0m3 16h0m4 37h0m3-36h0m3-38h0m4 12h0m3 22h0m4 25h0m3-18h0m4-21h0m3 50h0m3 32h0m4-11h0m3-19h0m4 2h0m3-22h0m3-57h0m4 1h0m3-12h0m4-12h0m3 20h0m4 52h0m3-11h0m3-21h0m4 0h0m3 21h0m4 72h0m3-3h0m3 51h0m4 20h0m3-13h0m4-51h0m3-29h0m4 21h0m3 68h0m3 17h0m4-97h0m3-108h0m4-45h0m3 6h0m3 107h0m4 43h0m3-6h0m4-19h0m3 28h0m4-15h0m3-40h0m3 6h0m4 23h0m3-6h0m4-42h0m3-42h0m3 23h0m4 17h0m3 10h0m4-47h0m3-3h0m4 27h0m3-18h0m3-16h0m4 11h0m3 12h0m4 30h0m3-7h0m4-17h0m3 67h0m3-21h0m4-67h0m3 21h0m4 9h0m3-41h0m3-51h0m4 84h0m3 26h0m4 54h0m3-59h0m4 30h0m3 40h0m3 18h0m4 8h0m3-43h0m4 3h0m3 7h0m3-9h0m4 26h0m3-41h0m4 14h0m3 1h0m4 8h0m3-39h0m3-1h0m4 9h0m3 45h0m4 4h0m3-46h0m3-27h0m4-30h0m3-48h0m4-38h0m3-1h0m4 64h0m3-48h0m3-8h0m4-9h0m3 77h0m4-19h0m3 26h0m3 60h0m4 0h0m3-16h0m4 5h0m3-15h0m4 44h0m3-8h0m3-28h0m4-61h0m3 17h0m4 37h0m3 11h0m3-4h0m4-43h0m3 36h0m4-22h0m3-47h0m4 54h0m3 0h0m3 13h0m4-24h0m3-85h0m4-67h0m3 13h0m4 42h0m3 50h0m3 91h0m4 6h0m3-27h0m4 12h0m3-4h0m3-11h0m4-39h0m3-16h0m4 25h0m3 25h0m4-13h0m3-26h0m3-16h0m4-16h0m3-46h0m4-58h0m3 65h0m3 31h0m4 47h0m3-22h0m4 7h0m3-9h0m4 8h0m3 12h0m3-17h0m4-25h0m3 22h0m4 43h0m3 33h0m3-6h0m4-37h0m3-11h0m4-42h0m3-60h0m4-22h0m3 58h0m3 44h0m4-43h0m3-44h0m4 22h0m3 2h0m3-29h0m4-10h0m3 67h0m4 28h0m3-31h0m4-69h0m3-10h0m3 65h0m4 10h0m3-68h0m4-4h0m3 25h0m3 3h0m4-21h0m3 40h0m4-40h0m3 12h0m4-62h0m3-51h0m3 22h0m4 71h0m3-140h0m4 5h0m3-33h0m4 61h0m3 29h0m3 1h0m4-51h0m3-44h0m4-53h0m3 50h0m3-18h0m4 88h0m3-32h0m4 38h0m3-77h0m4 44h0m3-29h0m3 14h0m4 21h0m3 11h0m4 46h0m3 33h0m3 3h0m4-84h0m3-88h0m4 36h0m3 7h0m4-32h0m3-37h0m3-7h0m4-36h0m3 80h0m4-15h0m3 29h0m3-59h0m4 1h0m3-27h0m4-27h0m3-62h0m4 103h0m3-11h0m3 5h0m4-11h0m3-50h0m4 85h0m3-9h0m3 60h0m4-89h0m3-28h0m4 3h0m3-35h0m4-2h0m3-3h0m3 90h0m4-28h0m3-37h0m4-15h0m3 1h0m4-68h0m3-27h0m3 82h0m4-87h0m3 3h0m4-14h0m3 48h0m3-39h0m4 6h0m3-173h0m4 48h0m3 17h0m4 117h0m3-76h0m3-52h0m4 107h0m3-46h0m4-50h0m3 50h0m3-58h0m4-7h0m3-21h0m4-19h0m3-3h0m4 35h0m3 14h0m3-107h0m4-67h0m3 29h0m4 16h0m3 51h0m3-21h0m4 25h0m3-12h0m4-54h0m3 2h0m4 53h0m3-12h0m3-31h0m4 37h0m3 26h0m4 20h0m3-19h0m3 36h0m4-102h0m3 24h0m4 47h0m3-75h0m4-37h0m3 74h0m3 72h0m4 39h0m3-94h0m4 24h0m3-57h0m3 112h0m4-146h0m3 99h0m4-87h0m3 149h0m4-12h0m3 69h0m3-16h0m4-28h0m3 16h0m4 80h0m3-4h0m4-111h0m3 123h0m3-77h0m4 32h0m3 33h0m4 49h0m3 93h0m3 31h0m4-146h0m3 72h0m4 45h0m3 35h0m4-33h0m3 19h0m3-48h0m4 34h0m3-5h0m4 62h0m3 62h0m3-42h0m4 30h0m3 16h0m4 54h0m3-41h0m4-6h0m3 5h0m3-16h0m4 5h0m3 89h0m4-11h0m3 75h0m3-46h0m4 36h0m3-94h0m4 14h0m3 15h0m4 47h0m3-36h0m3 32h0m4 22h0m3-8h0m4 39h0m3 12h0m3-53h0m4 16h0m3-28h0m4 25h0m3 80h0m4-5h0m3 2h0m3 28h0m4-8h0m3-14h0m4-4h0m3-39h0m4-18h0m3-2h0m3 47h0m4 57h0m3 24h0m4-6h0m3-16h0m3 30h0m4 37h0m3-68h0m4-27h0m3 12h0m4 12h0m3-19h0m3-26h0m4-16h0m3 7h0m4 31h0m3-35h0m3-8h0m4-35h0m3 11h0m4-8h0m3 4h0m4 44h0m3-13h0m3 12h0m4-6h0m3-34h0m4 20h0m3 38h0m3 15h0m4 30h0m3-21h0m4-28h0m3-47h0m4-28h0m3-6h0m3 28h0m4 17h0m3 16h0m4 42h0m3 17h0m3 40h0m4-55h0m3 2h0m4-28h0m3 8h0m4 0h0m3-49h0m3 22h0m4-28h0m3 11h0m4 43h0m3 43h0m3 20h0m4-11h0m3-35h0m4 18h0m3-1h0m4 59h0m3-42h0m3-51h0m4-24h0m3 45h0m4 3h0m3-23h0m4-4h0m3 9h0m3 15h0m4 10h0m3 33h0m4 90h0m3 20h0m3-34h0m4-32h0m3-53h0m4-104h0m3-39h0m4 64h0m3 43h0m3 17h0m4 19h0m3 42h0m4-10h0m3-49h0m3-31h0m4 40h0m3 30h0m4 12h0m3 21h0m4-9h0m3-4h0m3-49h0m4 4h0m3 11h0m4-52h0m3-31h0m3 57h0m4 69h0m3-7h0m4-76h0m3-80h0m4 15h0m3 46h0m3 46h0m4 38h0m3 24h0m4 4h0m3 5h0m3-32h0m4-74h0m3-30h0m4-1h0m3 7h0m4 22h0m3 33h0m3 30h0m4 2h0m3-25h0m4-30h0m3 2h0m3-4h0m4-18h0m3-24h0m4 11h0m3 79h0m4 48h0m3-58h0m3-51h0m4-11h0m3 49h0m4 90h0m3 48h0m4-53h0m3-67h0m3 7h0m4 26h0m3 20h0m4 4h0m3 43h0m3-35h0m4-34h0m3-42h0m4-45h0m3 13h0m4 42h0m3-19h0m3 3h0m4 53h0m3 22h0m4-45h0m3-48h0m3-7h0m4 31h0m3 2h0m4-11h0m3 28h0m4 6h0m3-30h0m3-11h0m4 49h0m3 76h0m4-16h0m3-62h0m3-67h0m4-22h0m3 14h0m4 14h0m3 22h0m4 22h0m3 14h0m3 3h0m4-24h0m3-10h0m4-23h0m3 2h0m3 24h0m4 4h0m3-4h0m4 4h0m3 10h0m4-20h0m3 41h0m3 59h0m4-8h0m3-66h0m4-72h0m3-15h0m4 19h0m3 18h0m3 13h0m4-9h0m3-3h0m4 59h0m3 34h0m3-1h0m4-26h0m3-6h0m4 11h0m3-15h0m4-28h0m3-23h0m3 6h0m4 31h0m3 45h0m4-18h0m3-19h0m3 30h0m4 24h0m3-17h0m4-35h0m3-58h0m4-24h0m3 23h0m3 38h0m4-26h0m3-49h0m4-6h0m3 23h0m3 50h0m4 24h0m3 15h0m4-12h0m3 17h0m4 54h0m3 29h0m3 0h0m4 13h0m3 8h0m4-60h0m3-71h0m3 5h0m4-2h0m3 19h0m4 26h0m3-17h0m4-60h0m3-10h0m3 34h0m4 22h0m3-40h0m4-33h0m3 5h0m3 44h0m4 9h0m3 27h0m4 46h0m3 25h0m4-35h0m3-91h0m3-38h0m4 31h0m3 32h0m4 16h0m3 27h0m4-6h0m3-5h0m3-12h0m4 1h0m3 6h0m4-8h0m3-9h0m3 16h0m4 18h0m3 5h0m4 0h0m3-10h0m4-19h0m3 3h0m3-8h0m4-20h0m3-16h0m4 17h0m3 22h0m3 18h0m4-12h0m3-28h0m4-5h0m3 25h0m4 75h0m3-27h0m3-78h0m4-26h0m3 40h0m4 25h0m3 34h0m3 42h0m4 19h0m3-57h0m4-45h0m3 20h0m4-3h0m3 37h0m3 53h0m4-60h0m3-89h0m4-30h0m3 13h0m3 52h0m4 49h0m3 24h0m4 17h0m3-24h0m4-93h0m3-59h0m3 7h0m4 42h0m3 45h0m4-18h0m3-8h0m3 20h0m4 11h0m3-14h0m4-3h0m3 17h0m4 91h0m3 30h0m3-9h0m4-22h0m3-28h0m4-47h0m3-13h0m4 1h0m3-25h0m3 44h0m4 59h0m3 29h0m4-17h0m3-6h0m3-22h0m4-58h0m3-29h0m4-22h0m3 11h0m4 18h0m3-2h0m3-2h0m4-15h0m3 15h0m4 27h0m3 2h0m3-4h0m4-27h0m3-79h0m4 5h0m3 100h0m4 62h0m3-5h0m3-27h0m4-6h0m3 3h0m4 24h0m3-5h0m3-22h0m4-5h0m3 30h0m4-11h0m3-42h0m4-51h0m3-42h0m3 41h0m4 70h0m3 13h0m4-31h0m3-42h0m3-1h0m4 70h0m3 63h0m4 6h0m3-25h0m4-22h0m3 17h0m3 4h0m4 18h0m3 10h0m4-31h0m3-25h0m4 9h0m3 27h0m3 5h0m4-18h0m3-20h0m4-11h0m3-14h0m3 33h0m4 52h0m3-6h0m4-60h0m3 0h0m4 66h0m3 14h0m3-33h0m4-5h0m3 34h0m4 41h0m3 8h0m3-43h0m4-37h0m3 26h0m4-17h0m3-49h0m4-19h0m3 11h0m3 32h0m4-7h0m3-23h0m4-13h0m3 15h0m3 56h0m4 9h0m3-61h0m4-37h0m3 14h0m4 8h0m3 22h0m3-2h0m4-21h0m3-3h0m4 12h0m3-20h0m3-4h0m4 56h0m3 42h0m4-6h0m3-13h0m4 21h0m3-12h0m3-62h0m4-28h0m3 18h0m4 20h0m3 0h0m3-22h0m4-6h0m3-1h0m4 21h0m3 38h0m4 49h0m3-13h0m3-53h0m4-46h0m3-21h0m4-37h0m3-25h0m4 7h0m3 48h0m3 69h0m4 43h0m3 35h0m4 22h0m3-27h0m3-30h0m4-29h0m3 10h0m4 31h0m3-7h0m4-45h0m3-46h0m3-23h0m4 43h0m3 10h0m4 13h0m3 36h0m3-9h0m4-48h0m3-9h0m4-7h0m3 5h0m4 41h0m3 12h0m3-4h0m4-30h0m3-49h0m4 10h0m3 61h0m3 75h0m4 23h0m3-22h0m4 11h0m3 22h0m4-22h0m3-52h0m3-51h0m4 8h0m3 19h0m4 23h0m3 14h0m3-31h0m4-13h0m3-12h0m4-9h0m3 28h0m4 7h0m3 16h0m3 20h0m4 59h0m3-24h0m4-79h0m3-21h0m4 48h0m3 14h0m3-3h0m4 0h0m3-7h0m4-30h0m3 7h0m3 23h0m4-21h0m3-22h0m4 30h0m3 25h0m4-40h0m3-51h0m3 5h0m4 13h0m3 27h0m4 13h0m3 3h0m3-5h0m4-20h0m3 20h0m4 58h0m3 6h0m4-40h0m3-55h0m3 2h0m4 20h0m3 53h0m4 39h0m3 9h0m3-19h0m4-37h0m3-47h0m4-41h0m3-4h0m4 30h0m3 45h0m3-1h0m4 1h0m3-4h0m4-3h0m3-5h0m3-41h0m4 4h0m3 74h0m4 13h0m3-1h0m4 10h0m3-11h0m3-6h0m4-8h0m3 3h0m4 23h0m3 4h0m3-23h0m4-59h0m3-19h0m4 21h0m3 52h0m4 28h0m3-25h0m3-11h0m4 18h0m3-24h0m4-39h0m3-49h0m4-39h0m3 30h0m3 84h0m4 48h0m3 9h0m4-32h0m3-66h0m3-32h0m4 20h0m3 24h0m4 39h0m3 12h0m4-8h0m3-12h0m3-4h0m4-13h0m3-2h0m4 12h0m3 3h0m3-23h0m4-21h0m3 5h0m4 31h0m3 41h0m4-42h0m3-63h0m3-29h0m4 57h0m3 105h0m4 31h0m3-47h0m3-36h0m4-10h0m3-21h0m4-18h0m3-3h0m4-5h0m3-14h0m3 42h0m4 50h0m3 20h0m4 4h0m3-23h0m3-20h0m4-29h0m3-40h0m4 19h0m3 16h0m4 18h0m3 39h0m3-4h0m4-33h0m3-17h0m4-3h0m3 10h0m3 6h0m4 25h0m3 24h0m4 3h0m3-22h0m4-45h0m3-23h0m3 4h0m4 15h0m3-1h0m4 40h0m3 93h0m4-2h0m3-80h0m3-25h0m4-21h0m3-29h0m4-27h0m3-4h0m3 8h0m4-1h0m3-7h0m4 23h0m3 2h0m4-2h0m3 22h0m3 11h0m4-21h0m3-21h0m4 13h0m3 44h0m3 15h0m4-48h0m3-32h0m4 7h0m3 46h0m4 30h0m3-1h0m3 3h0m4-1h0m3 31h0m4 15h0m3-49h0m3-42h0m4 16h0m3 18h0m4-17h0m3 32h0m4 44h0m3 13h0m3 27h0m4 0h0m3-58h0m4-67h0m3 1h0m3 50h0m4 16h0m3 2h0m4-7h0m3-36h0m4-24h0m3 22h0m3 35h0m4 6h0m3-60h0m4-2h0m3 65h0m4 20h0m3 8h0m3 16h0m4-37h0m3-30h0m4-9h0m3-8h0m3-1h0m4-4h0m3-14h0m4-28h0m3 1h0m4 33h0m3 50h0m3 29h0m4-39h0m3-76h0m4-37h0m3-1h0m3 27h0m4 23h0m3 4h0m4 8h0m3 31h0m4 12h0m3 28h0m3 23h0m4-41h0m3-12h0m4 3h0m3-33h0m3-7h0m4 19h0m3 3h0m4 34h0m3 4h0m4-50h0m3-15h0m3 25h0m4-43h0m3-28h0m4 48h0m3 5h0m3-3h0m4 11h0m3-14h0m4-11h0m3 23h0m4 34h0m3-22h0m3-64h0m4-27h0m3-7h0m4 14h0m3 67h0m3 67h0m4-13h0m3-22h0m4 13h0m3 30h0m4-11h0m3-30h0m3-28h0m4 43h0m3 41h0m4-21h0m3-31h0m4-28h0m3-16h0m3 21h0m4 9h0m3-13h0m4 4h0m3 13h0m3 27h0m4-25h0m3-24h0m4 4h0m3-38h0m4-2h0m3 38h0m3 29h0m4 6h0m3 11h0m4 32h0m3 20h0m3-21h0m4-21h0m3-1h0m4 31h0m3-34h0m4-61h0m3-14h0m3 14h0m4 1h0m3-29h0m4 1h0m3 16h0m3-38h0m4-11h0m3 52h0m4 70h0m3 25h0m4-47h0m3-56h0m3-5h0m4 11h0m3 10h0m4-13h0m3 42h0m3 56h0m4 1h0m3-15h0m4 4h0m3 0h0m4 10h0m3-9h0m3-18h0m4-22h0m3-1h0m4 17h0m3 2h0m3 5h0m4 19h0m3-30h0m4-52h0m3-27h0m4 7h0m3-14h0m3 1h0m4 24h0m3 38h0m4 24h0m3 26h0m4 49h0m3 21h0m3-22h0m4-45h0m3-27h0m4 7h0m3-26h0m3-62h0m4-6h0m3 54h0m4 36h0m3 13h0m4 39h0m3 8h0m3-62h0m4-68h0m3-5h0m4 64h0m3 42h0m3-2h0m4 12h0m3-24h0m4-71h0m3-2h0m4 70h0m3 51h0m3-7h0m4-45h0m3-6h0m4 48h0m3 45h0m3-18h0m4-50h0m3-47h0m4-7h0m3-26h0m4 1h0m3 106h0m3 58h0m4-14h0m3-46h0m4 24h0m3 28h0m3 1h0m4-1h0m3-64h0m4-92h0m3 10h0m4 11h0m3-23h0m3-4h0m4 45h0m3 26h0m4 23h0m3 23h0m4-14h0m3-39h0m3-14h0m4 3h0m3 47h0m4 2h0m3-79h0m3-9h0m4 39h0m3 16h0m4 11h0m3 3h0m4 13h0m3-17h0m3-32h0m4-2h0m3 4h0m4 7h0m3-6h0m3-15h0m4-16h0m3 7h0m4 14h0m3-4h0m4-30h0m3-25h0m3 14h0m4 16h0m3 10h0m4-10h0m3-18h0m3 6h0m4-5h0m3-36h0m4-24h0m3 14h0m4-20h0m3-3h0m3 22h0m4 51h0m3 27h0m4 0h0m3-2h0m3 23h0m4 10h0m3 24h0m4-1h0m3-9h0m4-4h0m3-36h0m3-58h0m4-38h0m3 18h0m4-6h0m3-12h0m3-10h0m4 23h0m3 48h0m4 68h0m3-10h0m4-2h0m3 21h0m3-10h0m4-25h0m3-44h0m4 2h0m3-19h0m4-59h0m3-6h0m3 48h0m4 16h0m3 42h0m4 17h0m3-38h0m3-16h0m4-6h0m3-6h0m4 16h0m3 1h0m4 21h0m3 12h0m3 2h0m4 43h0m3 12h0m4-35h0m3-29h0m3 10h0m4-11h0m3-25h0m4-7h0m3 2h0m4 21h0m3-2h0m3 39h0m4-5h0m3 6h0m4 13h0m3-30h0m3-90h0m4-47h0m3 9h0m4 70h0m3 29h0m4 7h0m3 32h0m3-4h0m4-36h0m3-5h0m4 37h0m3 7h0m3 31h0m4-22h0m3-34h0m4-9h0m3-33h0m4-11h0m3 14h0m3 28h0m4 42h0m3-4h0m4-7h0m3-7h0m4 19h0m3 19h0m3 16h0m4 7h0m3 9h0m4-8h0m3-53h0m3-75h0m4-4h0m3 50h0m4 0h0m3-22h0m4-19h0m3 33h0m3 67h0m4 4h0m3-20h0m4-12h0m3 39h0m3 11h0m4-24h0m3-23h0m4-3h0m3 7h0m4-38h0m3-20h0m3-13h0m4 8h0m3-30h0m4-30h0m3 12h0m3 57h0m4 59h0m3 17h0m4-17h0m3-65h0m4 0h0m3 14h0m3 26h0m4-3h0m3 33h0m4-12h0m3-37h0m3-52h0m4 41h0m3 12h0m4-20h0m3-23h0m4-50h0m3-7h0m3 45h0m4 55h0m3-3h0m4-53h0m3-37h0m3 51h0m4 85h0m3 29h0m4-28h0m3-52h0m4-55h0m3 17h0m3 76h0m4 11h0m3-54h0m4-24h0m3-15h0m4 2h0m3 7h0m3 32h0m4-30h0m3 47h0m4 31h0m3 0h0m3-54h0m4-67h0m3-30h0m4 9h0m3-1h0m4-6h0m3-21h0m3 3h0m4 19h0m3 13h0m4 61h0m3 62h0m3 1h0m4-49h0m3 48h0m4 27h0m3-41h0m4-21h0m3-28h0m3-4h0m4 66h0m3 14h0m4-54h0m3 22h0m3 25h0m4-26h0m3-33h0m4 6h0m3 1h0m4 31h0m3-24h0m3 3h0m4-44h0m3-51h0m4 35h0m3 14h0m3 7h0m4-11h0m3 6h0m4 19h0m3-19h0m4 0h0m3-37h0m3-30h0m4 37h0m3-6h0m4 17h0m3 12h0m3-43h0m4 13h0m3 28h0m4-12h0m3-28h0m4 3h0m3-35h0m3 36h0m4 28h0m3 32h0m4-17h0m3-9h0m4 68h0m3-1h0m3-29h0m4-65h0m3-30h0m4 51h0m3 75h0m3-34h0m4-57h0m3 27h0m4-33h0m3 1h0m4 6h0m3-14h0m3 22h0m4-30h0m3 19h0m4 4h0m3 39h0m3-43h0m4-70h0m3-28h0m4-6h0m3 14h0m4 32h0m3 12h0m3-45h0m4 1h0m3 19h0m4 75h0m3 48h0m3-60h0m4-32h0m3-12h0m4-5h0m3-32h0m4-17h0m3-18h0m3-26h0m4 32h0m3 48h0m4-21h0m3 11h0m3 13h0m4 83h0m3-1h0m4-87h0m3-38h0m4 51h0m3-24h0m3 87h0m4 0h0m3-14h0m4-82h0m3 26h0m4-28h0m3 21h0m3 13h0m4 30h0m3-60h0m4 3h0m3-1h0m3 74h0m4-40h0m3 11h0m4 83h0m3 43h0m4-43h0m3 28h0m3-23h0m4 33h0m3-30h0m4-36h0m3 11h0m3-34h0m4-70h0m3-39h0m4-11h0m3 86h0m4 65h0m3 18h0m3-39h0m4-27h0m3-1h0m4 41h0m3 17h0m3-22h0m4-75h0m3 11h0m4 18h0m3 38h0m4 40h0m3-31h0m3-25h0m4-14h0m3 20h0m4 65h0m3-23h0m3 36h0m4 7h0m3-44h0m4 7h0m3 16h0m4 12h0m3 18h0m3-27h0m4-34h0m3 60h0m4-64h0m3-45h0m3 8h0m4 74h0m3 22h0m4 23h0m3-64h0m4-37h0m3-6h0m3-43h0m4 41h0m3 4h0m4 18h0m3 48h0m4-8h0m3-45h0m3-28h0m4 24h0m3 34h0m4-24h0m3-61h0m3-16h0m4 31h0m3 45h0m4 36h0m3 14h0m4-17h0m3 27h0m3 74h0m4 21h0m3-17h0m4-47h0m3-10h0m3 44h0m4 26h0m3-52h0m4-41h0m3-70h0m4 22h0m3 50h0m3 9h0m4-12h0m3-30h0m4 17h0m3-29h0m3 15h0m4-38h0m3 48h0m4 44h0m3 8h0m4 22h0m3 11h0m3-49h0m4-46h0m3 25h0m4-4h0m3 4h0m3 32h0m4 41h0m3-5h0m4-8h0m3-30h0m4-32h0m3 46h0m3 73h0m4-19h0m3-103h0m4-63h0m3 19h0m3 55h0m4 41h0m3-2h0m4 3h0m3 45h0m4 20h0m3-29h0m3-3h0m4-29h0m3-27h0m4 0h0m3 6h0m4 28h0m3-10h0m3-36h0m4-2h0m3-5h0m4 7h0m3 6h0m3-3h0m4 35h0m3-22h0m4-40h0m3-53h0m4 5h0m3 74h0m3 61h0m4 26h0m3-43h0m4-57h0m3-58h0m3-8h0m4 42h0m3 23h0m4 44h0m3-16h0m4-3h0m3 4h0m3 14h0m4 13h0m3 18h0m4-7h0m3-62h0m3-14h0m4-7h0m3 45h0m4 53h0m3-6h0m4-25h0m3-39h0m3-75h0m4-22h0m3 37h0m4 15h0m3 33h0m3-4h0m4-6h0m3 1h0m4 13h0m3 17h0m4-33h0m3-18h0m3 52h0m4 56h0m3-8h0m4-59h0m3-34h0m4 80h0m3 51h0m3-71h0m4-62h0m3 32h0m4 36h0m3-8h0m3-16h0m4 1h0m3 14h0m4 44h0m3 29h0m4 19h0m3-17h0m3-49h0m4-35h0m3-19h0m4 27h0m3 20h0m3 3h0m4 12h0m3 22h0m4 33h0m3-18h0m4-60h0m3-64h0m3 21h0m4 85h0m3 29h0m4-22h0m3-64h0m3-77h0m4 25h0m3 71h0m4 42h0m3-27h0m4-19h0m3-15h0m3 2h0m4-27h0m3-7h0m4 25h0m3 11h0m3-27h0m4-35h0m3-12h0m4 28h0m3 18h0m4 59h0m3 9h0m3-54h0m4 2h0m3 25h0m4 11h0m3 13h0m3 6h0m4-25h0m3 5h0m4 10h0m3-33h0m4-36h0m3 32h0m3 6h0m4-35h0m3-12h0m4 8h0m3 0h0m4 2h0m3 6h0m3 31h0m4 22h0m3 17h0m4 17h0m3 14h0m3-60h0m4-36h0m3-30h0m4 12h0m3 75h0m4 41h0m3-27h0m3 2h0m4 5h0m3-46h0m4-15h0m3-15h0m3 21h0m4 26h0m3 25h0m4-3h0m3 4h0m4-11h0m3-44h0m3 14h0m4 58h0m3 14h0m4-13h0m3-28h0m3-37h0m4-54h0m3-9h0m4 64h0m3 56h0m4 13h0m3-8h0m3-42h0m4-80h0m3-32h0m4 16h0m3 38h0m3 46h0m4-2h0m3-13h0m4 9h0m3 38h0m4-15h0m3-70h0m3 14h0m4 25h0m3 3h0m4-2h0m3 12h0m3 12h0m4-36h0m3-40h0m4 22h0m3-8h0m4-13h0m3 8h0m3 43h0m4 24h0m3-3h0m4-7h0m3 16h0m4-17h0m3-40h0m3 15h0m4 11h0m3 6h0m4-31h0m3-23h0m3 16h0m4 66h0m3 4h0m4-16h0m3 11h0m4 23h0m3-2h0m3-35h0m4-61h0m3-28h0m4 34h0m3 71h0m3 43h0m4 3h0m3-14h0m4-31h0m3-7h0m4-26h0m3-20h0m3-12h0m4 33h0m3 44h0m4-26h0m3-61h0m3-12h0m4 40h0m3 21h0m4 27h0m3 50h0m4 10h0m3-32h0m3-40h0m4 1h0m3 13h0m4-26h0m3-46h0m3-3h0m4 20h0m3-5h0m4 0h0m3 30h0m4 49h0m3 53h0m3-18h0m4-58h0m3-3h0m4-6h0m3-5h0m4 62h0m3 56h0m3-40h0m4-81h0m3-37h0m4 38h0m3 47h0m3 6h0m4 2h0m3 24h0m4-1h0m3-27h0m4-32h0m3-2h0m3-9h0m4-7h0m3-9h0m4 8h0m3-16h0m3-39h0m4-53h0m3 43h0m4 74h0m3-18h0m4-39h0m3-27h0m3-8h0m4 21h0m3 44h0m4 52h0m3 27h0m3-47h0m4-21h0m3 18h0m4 11h0m3 19h0m4 11h0m3-21h0m3-53h0m4-66h0m3-23h0m4 12h0m3 0h0m3 0h0m4 8h0m3 25h0m4 31h0m3 11h0m4 9h0m3 10h0m3 17h0m4-7h0m3 13h0m4-31h0m3-52h0m3 41h0m4 66h0m3-7h0m4-23h0m3-2h0m4-34h0m3-27h0m3 16h0m4-21h0m3-13h0m4 34h0m3 33h0m4 6h0m3-14h0m3-51h0m4-33h0m3 20h0m4 12h0m3 19h0m3 4h0m4 5h0m3-35h0m4-58h0m3-5h0m4 24h0m3 63h0m3 42h0m4-49h0m3-54h0m4-19h0m3 4h0m3 42h0m4 46h0m3 43h0m4-10h0m3-84h0m4-69h0m3 41h0m3 47h0m4-5h0m3-8h0m4 12h0m3-8h0m3-8h0m4 10h0m3 18h0m4 66h0m3 45h0m4-54h0m3-80h0m3-24h0m4 35h0m3-5h0m4-27h0m3-5h0m3 17h0m4 13h0m3-9h0m4-27h0m3-41h0m4 7h0m3 58h0m3 40h0m4 22h0m3-9h0m4-24h0m3-17h0m4 0h0m3-10h0m3-20h0m4 55h0m3 3h0m4-33h0m3 2h0m3-17h0m4-2h0m3-1h0m4-25h0m3-18h0m4 2h0m3-15h0m3 28h0m4 83h0m3 5h0m4-45h0m3 9h0m3 46h0m4-2h0m3-41h0m4-10h0m3 27h0m4 8h0m3-11h0m3-11h0m4-30h0m3-10h0m4 42h0m3 27h0m3-24h0m4-32h0m3-12h0m4 30h0m3 30h0m4 25h0m3 5h0m3-37h0m4-25h0m3 14h0m4-9h0m3-8h0m3 46h0m4 50h0m3 16h0m4-28h0m3-33h0m4-5h0m3 17h0m3 45h0m4 12h0m3-59h0m4-54h0m3 30h0m3 34h0m4 5h0m3 4h0m4 37h0m3-16h0m4-56h0m3 135h0" fill="none" stroke="#FF0000" stroke-width="114" stroke-linecap="round"/><path transform="scale(.1)" d="M1362 6970h0m3-411h0m4 72h0m3 108h0m4 43h0m3-15h0m4 88h0m3 29h0m3-83h0m4-22h0m3 78h0m4 114h0m3 50h0m3-29h0m4-71h0m3-140h0m4-148h0m3-53h0m4 26h0m3 89h0m3 37h0m4 12h0m3 25h0m4-2h0m3-24h0m3 38h0m4 104h0m3-59h0m4-129h0m3 35h0m4 124h0m3 2h0m3 44h0m4-52h0m3-90h0m4 14h0m3-29h0m3-44h0m4 23h0m3 88h0m4 23h0m3-18h0m4 2h0m3 132h0m3 42h0m4 2h0m3 29h0m4-10h0m3-5h0m3-45h0m4-41h0m3-34h0m4-8h0m3-71h0m4-104h0m3 17h0m3-25h0m4-101h0m3 73h0m4 116h0m3-31h0m3-10h0m4-2h0m3-13h0m4-47h0m3-15h0m4 20h0m3 52h0m3 93h0m4 86h0m3 38h0m4 15h0m3-32h0m4-26h0m3-45h0m3-52h0m4 14h0m3-61h0m4-17h0m3 73h0m3 17h0m4-42h0m3-109h0m4-42h0m3 103h0m4-17h0m3-66h0m3 28h0m4 49h0m3 65h0m4 24h0m3 48h0m3-30h0m4-9h0m3 15h0m4-39h0m3-4h0m4 30h0m3 12h0m3-95h0m4 13h0m3-9h0m4 59h0m3-11h0m3 15h0m4 34h0m3 59h0m4 14h0m3 23h0m4-37h0m3 12h0m3 65h0m4-101h0m3-79h0m4-26h0m3 40h0m3-75h0m4-77h0m3-92h0m4 20h0m3 16h0m4 43h0m3 74h0m3 23h0m4-13h0m3-20h0m4 19h0m3-19h0m4-39h0m3-11h0m3 8h0m4 0h0m3 41h0m4 56h0m3-22h0m3-5h0m4 76h0m3 81h0m4-31h0m3-16h0m4-13h0m3 51h0m3 35h0m4-65h0m3-74h0m4-20h0m3 25h0m3 57h0m4 47h0m3-37h0m4 3h0m3 21h0m4-79h0m3-41h0m3-43h0m4 30h0m3 94h0m4 21h0m3-24h0m3-56h0m4-84h0m3-30h0m4-10h0m3 22h0m4 1h0m3 120h0m3 22h0m4-29h0m3 108h0m4 26h0m3-48h0m3-79h0m4-31h0m3-33h0m4 19h0m3 61h0m4 8h0m3-55h0m3-18h0m4-55h0m3-28h0m4-40h0m3 54h0m3 100h0m4 10h0m3 49h0m4 63h0m3-90h0m4-58h0m3-45h0m3 13h0m4 38h0m3-9h0m4-107h0m3-17h0m4 79h0m3 36h0m3 55h0m4 16h0m3-1h0m4-12h0m3 24h0m3-21h0m4-61h0m3 40h0m4 9h0m3 4h0m4 58h0m3 1h0m3 29h0m4-102h0m3-8h0m4-9h0m3 2h0m3 14h0m4-59h0m3 4h0m4-3h0m3 109h0m4 117h0m3-66h0m3-34h0m4-30h0m3 0h0m4 83h0m3 36h0m3-7h0m4 29h0m3-80h0m4-106h0m3-75h0m4 21h0m3 7h0m3 145h0m4 13h0m3-72h0m4-30h0m3 25h0m3 76h0m4 79h0m3-43h0m4-48h0m3-54h0m4-37h0m3-4h0m3 44h0m4 32h0m3-64h0m4 15h0m3-5h0m3-5h0m4-139h0m3-10h0m4 69h0m3 47h0m4 89h0m3 5h0m3-58h0m4 0h0m3 20h0m4-38h0m3-36h0m4 118h0m3 51h0m3-63h0m4-21h0m3 65h0m4 2h0m3 13h0m3-62h0m4-81h0m3-57h0m4 57h0m3 120h0m4 86h0m3 82h0m3-66h0m4-130h0m3-143h0m4 7h0m3 68h0m3 14h0m4-72h0m3-8h0m4 82h0m3 53h0m4-7h0m3 30h0m3 48h0m4-63h0m3-81h0m4 3h0m3 2h0m3 88h0m4-77h0m3-23h0m4 35h0m3-44h0m4-102h0m3-18h0m3 64h0m4 9h0m3-46h0m4-72h0m3 42h0m3 97h0m4 80h0m3-11h0m4 50h0m3 34h0m4-38h0m3-77h0m3-19h0m4 65h0m3 15h0m4-13h0m3 5h0m4 22h0m3-1h0m3 12h0m4-16h0m3-67h0m4 13h0m3 70h0m3 83h0m4 41h0m3-120h0m4-38h0m3 71h0m4 69h0m3 23h0m3-66h0m4 20h0m3 11h0m4-53h0m3-146h0m3-50h0m4 33h0m3 70h0m4-1h0m3 88h0m4 22h0m3 7h0m3-20h0m4 26h0m3 3h0m4 120h0m3 17h0m3-4h0m4-153h0m3-128h0m4-150h0m3 14h0m4 203h0m3 115h0m3-24h0m4-59h0m3 58h0m4-34h0m3-92h0m3-99h0m4 106h0m3 78h0m4-36h0m3-58h0m4 31h0m3-38h0m3-29h0m4-45h0m3 61h0m4 26h0m3 19h0m3 42h0m4-40h0m3-79h0m4-9h0m3-40h0m4 12h0m3 11h0m3 34h0m4 62h0m3 67h0m4 1h0m3 51h0m4-82h0m3-42h0m3 55h0m4 114h0m3 9h0m4 1h0m3-96h0m3-137h0m4 59h0m3 31h0m4-101h0m3-17h0m4 24h0m3 145h0m3 86h0m4-81h0m3-100h0m4-110h0m3-23h0m3 34h0m4 98h0m3 89h0m4-64h0m3-75h0m4 36h0m3-6h0m3-68h0m4 97h0m3-5h0m4 7h0m3-27h0m3-13h0m4 87h0m3 22h0m4-30h0m3 42h0m4-39h0m3 23h0m3 63h0m4 44h0m3-72h0m4-9h0m3 9h0m3-62h0m4-28h0m3-105h0m4-12h0m3 84h0m4 37h0m3 43h0m3-52h0m4 5h0m3 49h0m4 7h0m3 29h0m4-107h0m3-82h0m3 118h0m4 64h0m3 3h0m4-48h0m3-14h0m3-93h0m4-29h0m3-19h0m4-48h0m3-89h0m4-12h0m3 47h0m3 100h0m4 14h0m3-57h0m4-50h0m3-10h0m3 35h0m4-39h0m3 31h0m4 103h0m3 168h0m4-75h0m3-100h0m3 25h0m4 109h0m3 44h0m4-102h0m3-94h0m3 103h0m4 126h0m3-34h0m4-21h0m3 8h0m4-58h0m3 16h0m3-4h0m4-68h0m3-64h0m4-39h0m3 3h0m3 82h0m4 82h0m3-31h0m4-36h0m3-53h0m4 3h0m3 71h0m3-17h0m4 70h0m3-11h0m4-77h0m3 67h0m3-97h0m4-119h0m3 29h0m4 91h0m3 24h0m4 19h0m3-79h0m3 0h0m4 104h0m3-17h0m4 74h0m3 11h0m4-8h0m3-152h0m3 1h0m4-8h0m3-8h0m4-54h0m3-46h0m3 23h0m4 40h0m3 110h0m4 4h0m3-79h0m4 17h0m3 63h0m3 28h0m4 129h0m3-30h0m4-42h0m3-106h0m3-108h0m4 14h0m3 102h0m4 74h0m3 35h0m4-34h0m3 22h0m3-128h0m4 21h0m3-59h0m4-91h0m3-59h0m3-35h0m4-16h0m3 105h0m4 50h0m3-22h0m4-116h0m3 74h0m3 28h0m4-12h0m3 126h0m4 26h0m3 75h0m3-15h0m4 10h0m3-206h0m4-10h0m3 39h0m4-24h0m3-3h0m3-55h0m4-15h0m3-57h0m4 204h0m3 68h0m3 59h0m4 2h0m3 62h0m4-99h0m3-58h0m4 2h0m3 32h0m3 62h0m4 32h0m3-61h0m4 24h0m3-90h0m4-146h0m3-2h0m3 8h0m4 40h0m3-139h0m4 80h0m3 80h0m3 54h0m4-60h0m3-82h0m4-17h0m3 8h0m4 8h0m3 61h0m3 56h0m4-18h0m3-84h0m4-75h0m3 30h0m3-7h0m4 24h0m3-22h0m4-50h0m3 41h0m4-66h0m3 24h0m3-5h0m4 40h0m3 64h0m4 92h0m3-47h0m3 68h0m4-118h0m3 6h0m4 9h0m3 91h0m4-89h0m3-1h0m3 34h0m4 21h0m3 8h0m4-78h0m3-100h0m3-70h0m4 88h0m3 153h0m4 51h0m3-101h0m4-103h0m3 11h0m3 26h0m4 10h0m3-53h0m4 59h0m3 31h0m4-5h0m3-139h0m3 4h0m4 99h0m3 104h0m4 41h0m3-129h0m3-20h0m4-15h0m3 68h0m4-68h0m3 40h0m4 13h0m3-87h0m3-136h0m4-21h0m3 66h0m4 25h0m3-3h0m3 40h0m4 76h0m3 55h0m4-41h0m3 32h0m4-61h0m3-48h0m3 36h0m4 81h0m3-104h0m4-247h0m3 21h0m3-74h0m4 171h0m3 17h0m4 63h0m3 12h0m4 106h0m3 20h0m3-198h0m4-101h0m3 161h0m4-38h0m3 58h0m3-223h0m4-86h0m3 122h0m4 58h0m3 121h0m4-15h0m3-24h0m3 96h0m4-174h0m3 98h0m4-150h0m3 123h0m3 80h0m4 90h0m3-36h0m4-239h0m3-172h0m4 16h0m3 67h0m3-95h0m4 254h0m3-19h0m4-22h0m3-98h0m4-111h0m3-91h0m3-23h0m4-36h0m3 147h0m4 73h0m3 92h0m3-30h0m4-50h0m3-184h0m4 107h0m3-76h0m4 34h0m3 1h0m3 71h0m4-153h0m3 238h0m4 97h0m3-242h0m3-124h0m4 113h0m3-82h0m4 13h0m3-26h0m4-7h0m3-116h0m3 94h0m4-24h0m3-113h0m4 38h0m3 18h0m3 36h0m4-275h0m3 114h0m4 83h0m3-98h0m4 13h0m3 37h0m3 89h0m4-75h0m3-104h0m4-42h0m3 84h0m3 87h0m4 101h0m3-95h0m4 136h0m3-374h0m4 111h0m3 44h0m3 66h0m4-137h0m3-11h0m4-144h0m3 107h0m4 90h0m3 51h0m3-229h0m4 85h0m3 185h0m4-158h0m3-160h0m3-37h0m4-233h0m3 8h0m4 272h0m3-78h0m4 92h0m3-158h0m3 85h0m4 74h0m3-145h0m4 168h0m3-36h0m3-225h0m4 185h0m3-14h0m4 95h0m3-279h0m4 47h0m3-2h0m3-42h0m4-28h0m3-183h0m4 27h0m3 50h0m3-73h0m4 83h0m3 24h0m4-255h0m3 127h0m4 7h0m3-88h0m3-16h0m4 287h0m3-289h0m4-74h0m3 30h0m3 227h0m4-206h0m3-48h0m4 74h0m3-92h0m4-2h0m3-57h0m3 22h0m4-78h0m3 128h0m4-170h0m3 458h0m3-134h0m4-102h0m3-35h0m4-160h0m3 41h0m4-40h0m3-68h0m3-20h0m4 73h0m3-354h0m4 352h0m3-61h0m4 6h0m3-96h0m3 202h0m4-238h0m3 131h0m4-317h0m3 315h0m3-28h0m4-78h0m3-179h0m4 165h0m3 152h0m4 72h0m3-255h0m3-218h0m4 160h0m3-85h0m4-190h0m3 357h0m3-69h0m4 59h0m3-271h0m4-50h0m3 153h0m4 34h0m3-210h0m3 103h0m4-310h0m3 286h0m4 23h0m3-5h0m3-19h0m4-49h0m3-2h0m4 55h0m3-27h0m4-86h0m3 140h0m3-35h0m4-186h0m3 160h0m4 68h0m3-60h0m3 203h0m4-104h0m3 31h0m4-67h0m3-108h0m4 51h0m3 39h0m3 41h0m4-152h0m3-40h0m4 275h0m3-217h0m3 267h0m4-265h0m3 47h0m4-123h0m3 89h0m4 50h0m3-71h0m3 60h0m4-64h0m3 215h0m4-195h0m3 106h0m4-34h0m3 272h0m3-108h0m4-69h0m3 89h0m4 140h0m3-219h0m3 102h0m4-79h0m3 332h0m4 66h0m3-278h0m4-83h0m3 365h0m3-141h0m4-121h0m3 364h0m4 55h0m3-361h0m3 159h0m4-177h0m3 31h0m4 44h0m3 79h0m4-121h0m3 170h0m3 49h0m4-74h0m3 195h0m4-56h0m3 12h0m3 113h0m4-51h0m3-102h0m4 49h0m3-82h0m4 185h0m3-181h0m3 137h0m4 86h0m3 155h0m4 145h0m3 132h0m3-200h0m4-63h0m3-28h0m4 102h0m3 52h0m4-20h0m3 30h0m3-231h0m4 41h0m3 78h0m4 116h0m3 71h0m4 232h0m3-226h0m3 17h0m4-175h0m3 57h0m4-7h0m3 98h0m3 95h0m4 27h0m3 12h0m4-288h0m3 61h0m4 84h0m3 88h0m3-2h0m4 110h0m3 98h0m4-111h0m3 77h0m3 79h0m4-113h0m3 160h0m4-83h0m3-27h0m4 48h0m3-13h0m3 42h0m4-115h0m3-58h0m4-25h0m3 90h0m3 120h0m4-45h0m3 40h0m4 24h0m3 32h0m4-3h0m3 241h0m3-226h0m4-36h0m3 147h0m4 39h0m3 24h0m3-31h0m4-73h0m3-19h0m4-3h0m3 84h0m4-167h0m3 144h0m3-16h0m4 68h0m3 64h0m4 11h0m3-69h0m3 179h0m4-86h0m3 15h0m4-56h0m3-58h0m4-8h0m3-74h0m3 44h0m4-32h0m3 50h0m4 62h0m3 87h0m4-10h0m3 22h0m3 64h0m4-127h0m3 41h0m4 63h0m3-160h0m3 8h0m4 9h0m3 108h0m4-22h0m3-7h0m4 108h0m3-80h0m3 27h0m4 74h0m3 74h0m4-56h0m3-53h0m3 95h0m4-79h0m3-30h0m4-34h0m3-13h0m4 12h0m3-45h0m3-131h0m4 86h0m3 82h0m4 153h0m3 20h0m3 78h0m4-125h0m3-50h0m4-27h0m3 111h0m4 48h0m3-170h0m3-1h0m4 10h0m3 126h0m4 9h0m3-85h0m3 53h0m4 13h0m3-44h0m4-32h0m3 10h0m4-51h0m3 52h0m3 48h0m4 137h0m3-60h0m4-118h0m3 18h0m3 15h0m4-21h0m3 97h0m4 25h0m3 21h0m4 43h0m3-38h0m3-84h0m4-79h0m3-16h0m4 11h0m3-75h0m4 12h0m3 42h0m3 145h0m4 105h0m3 45h0m4-134h0m3 22h0m3-105h0m4-17h0m3-44h0m4-25h0m3 98h0m4 171h0m3-93h0m3 20h0m4-74h0m3-12h0m4 48h0m3 54h0m3-22h0m4 24h0m3-80h0m4-14h0m3 36h0m4 92h0m3 81h0m3-86h0m4-26h0m3-9h0m4 7h0m3 36h0m3-48h0m4 144h0m3-76h0m4 81h0m3-31h0m4 32h0m3-100h0m3 54h0m4 74h0m3 26h0m4-179h0m3-136h0m3 48h0m4-66h0m3-10h0m4 156h0m3-21h0m4-62h0m3-29h0m3 103h0m4 25h0m3 67h0m4 58h0m3-148h0m4 38h0m3 26h0m3 34h0m4 22h0m3 81h0m4-141h0m3-25h0m3 56h0m4-131h0m3-43h0m4-80h0m3 63h0m4 29h0m3 102h0m3 8h0m4-9h0m3 19h0m4 53h0m3 70h0m3-144h0m4-22h0m3-18h0m4 95h0m3-24h0m4 32h0m3 55h0m3-30h0m4-136h0m3 60h0m4 43h0m3-76h0m3 84h0m4-46h0m3 71h0m4-43h0m3-8h0m4-16h0m3-93h0m3 32h0m4-5h0m3 133h0m4 68h0m3 56h0m3-123h0m4-75h0m3-49h0m4 10h0m3-81h0m4-81h0m3 56h0m3 34h0m4 63h0m3 38h0m4 13h0m3-111h0m3 8h0m4 53h0m3-18h0m4 145h0m3 61h0m4-47h0m3-103h0m3 24h0m4-19h0m3 68h0m4-15h0m3-102h0m4-10h0m3 78h0m3 59h0m4 35h0m3 80h0m4 7h0m3-51h0m3-193h0m4-28h0m3 38h0m4 42h0m3-7h0m4 81h0m3-67h0m3 21h0m4-11h0m3 15h0m4-101h0m3 63h0m3-34h0m4 98h0m3-78h0m4 75h0m3 21h0m4-163h0m3 103h0m3 81h0m4-29h0m3-71h0m4-152h0m3 46h0m3 129h0m4 5h0m3-148h0m4 3h0m3 19h0m4 9h0m3 71h0m3 70h0m4-9h0m3-136h0m4-31h0m3 61h0m3 145h0m4 33h0m3-196h0m4-81h0m3-35h0m4 70h0m3-15h0m3 107h0m4-17h0m3-80h0m4-58h0m3-22h0m3-81h0m4 156h0m3 113h0m4 42h0m3 19h0m4-167h0m3-136h0m3 121h0m4 99h0m3-54h0m4-36h0m3-41h0m4 41h0m3 9h0m3 0h0m4-139h0m3 40h0m4 68h0m3 103h0m3-18h0m4-130h0m3-59h0m4-78h0m3-14h0m4 65h0m3-10h0m3 56h0m4-200h0m3 50h0m4 96h0m3-57h0m3 189h0m4 16h0m3-122h0m4 207h0m3-111h0m4 48h0m3-15h0m3 73h0m4-213h0m3 49h0m4-163h0m3 104h0m3 45h0m4-65h0m3 138h0m4-50h0m3-62h0m4-33h0m3 59h0m3-153h0m4-44h0m3 44h0m4 92h0m3 229h0m3-48h0m4 14h0m3-107h0m4-67h0m3-76h0m4-1h0m3 154h0m3-49h0m4-68h0m3 78h0m4 12h0m3 95h0m4 39h0m3-21h0m3-74h0m4-68h0m3 62h0m4-30h0m3-41h0m3 203h0m4-111h0m3 67h0m4-164h0m3 86h0m4-53h0m3 106h0m3-63h0m4 73h0m3-115h0m4 17h0m3 74h0m3 127h0m4-115h0m3 169h0m4-56h0m3-64h0m4-5h0m3-68h0m3-49h0m4-133h0m3 180h0m4 91h0m3 106h0m3-147h0m4-43h0m3 154h0m4 71h0m3-101h0m4-6h0m3 32h0m3-63h0m4-23h0m3 17h0m4 13h0m3 82h0m3-27h0m4-7h0m3 64h0m4 15h0m3 127h0m4-48h0m3 10h0m3-41h0m4 183h0m3-157h0m4-38h0m3-37h0m3-53h0m4 80h0m3 3h0m4-115h0m3-14h0m4 110h0m3 48h0m3 29h0m4-61h0m3-92h0m4 144h0m3 28h0m4-36h0m3 6h0m3-164h0m4 255h0m3-23h0m4 76h0m3-45h0m3 92h0m4-8h0m3-124h0m4-28h0m3-39h0m4-51h0m3 16h0m3-17h0m4 65h0m3 12h0m4 122h0m3-106h0m3-28h0m4 84h0m3-39h0m4-82h0m3-1h0m4-29h0m3 40h0m3 194h0m4 65h0m3 6h0m4-63h0m3-20h0m3-33h0m4 28h0m3 74h0m4 68h0m3-7h0m4-95h0m3-41h0m3 13h0m4 43h0m3 68h0m4-99h0m3-54h0m3 60h0m4 27h0m3 153h0m4-17h0m3-40h0m4-28h0m3-100h0m3-57h0m4 41h0m3-44h0m4-4h0m3 59h0m4 53h0m3 62h0m3-52h0m4-54h0m3-85h0m4 102h0m3-1h0m3-116h0m4-53h0m3 10h0m4-24h0m3-14h0m4-95h0m3 23h0m3 40h0m4 5h0m3 130h0m4 83h0m3 153h0m3 51h0m4 40h0m3-185h0m4-68h0m3-30h0m4-42h0m3-52h0m3 78h0m4 30h0m3 2h0m4-11h0m3-56h0m3 136h0m4-23h0m3-12h0m4-15h0m3-59h0m4-23h0m3 44h0m3 46h0m4 122h0m3-55h0m4-152h0m3-15h0m3 18h0m4 117h0m3 129h0m4-31h0m3-13h0m4-31h0m3-31h0m3-85h0m4-12h0m3 72h0m4 79h0m3-43h0m3-51h0m4-4h0m3 13h0m4-20h0m3 14h0m4 79h0m3-41h0m3-7h0m4 1h0m3 60h0m4-28h0m3 14h0m4-36h0m3-65h0m3 66h0m4-32h0m3 26h0m4 31h0m3 36h0m3 23h0m4 32h0m3-107h0m4-230h0m3-31h0m4 107h0m3 190h0m3 21h0m4-61h0m3 46h0m4 12h0m3 36h0m3 38h0m4-123h0m3-123h0m4 15h0m3 39h0m4 67h0m3 63h0m3 53h0m4-24h0m3-82h0m4-45h0m3-11h0m3-41h0m4 56h0m3 134h0m4 19h0m3-87h0m4-1h0m3 27h0m3-44h0m4-63h0m3 87h0m4 44h0m3-37h0m3-84h0m4 55h0m3 60h0m4-17h0m3 38h0m4-1h0m3-79h0m3-50h0m4-7h0m3 15h0m4-26h0m3 108h0m3 41h0m4-35h0m3 20h0m4 15h0m3-102h0m4-89h0m3 6h0m3-34h0m4 16h0m3 55h0m4-23h0m3 26h0m4 57h0m3-13h0m3 1h0m4 18h0m3 95h0m4 72h0m3-135h0m3-11h0m4 15h0m3 7h0m4-72h0m3-77h0m4-57h0m3 101h0m3 132h0m4 115h0m3 36h0m4-34h0m3-102h0m3-43h0m4-65h0m3 33h0m4 34h0m3-14h0m4 60h0m3 65h0m3-41h0m4-26h0m3-8h0m4-60h0m3-158h0m3-4h0m4 166h0m3 95h0m4-48h0m3-74h0m4 15h0m3 9h0m3-49h0m4 41h0m3 3h0m4 2h0m3 11h0m3 32h0m4 74h0m3 67h0m4 26h0m3-62h0m4-125h0m3-79h0m3 6h0m4 38h0m3 47h0m4-59h0m3 37h0m4 118h0m3 19h0m3 31h0m4 27h0m3-112h0m4-141h0m3 18h0m3 59h0m4 97h0m3-63h0m4-62h0m3-42h0m4 68h0m3 8h0m3 29h0m4 35h0m3-80h0m4-29h0m3 24h0m3 24h0m4 107h0m3 70h0m4-24h0m3-3h0m4-54h0m3-17h0m3 8h0m4 58h0m3-11h0m4 10h0m3-11h0m3 12h0m4 91h0m3 1h0m4-125h0m3-112h0m4-128h0m3 27h0m3 102h0m4 5h0m3-28h0m4 1h0m3-58h0m3 91h0m4 101h0m3 101h0m4 16h0m3-80h0m4-85h0m3-53h0m3-29h0m4 54h0m3-38h0m4-26h0m3 125h0m3 50h0m4-68h0m3-43h0m4 92h0m3-33h0m4-33h0m3 9h0m3-53h0m4-5h0m3 32h0m4 38h0m3 85h0m4 2h0m3-106h0m3-102h0m4 40h0m3 29h0m4-10h0m3 68h0m3 13h0m4-52h0m3 53h0m4 78h0m3-37h0m4-31h0m3-27h0m3 9h0m4-31h0m3-31h0m4 41h0m3-23h0m3-8h0m4-44h0m3 15h0m4 55h0m3 46h0m4-9h0m3-10h0m3 53h0m4-27h0m3 15h0m4 46h0m3-14h0m3-116h0m4 30h0m3 132h0m4-21h0m3-113h0m4-68h0m3 60h0m3 23h0m4 36h0m3 4h0m4-17h0m3 16h0m3-18h0m4 11h0m3-11h0m4-44h0m3-23h0m4 77h0m3 38h0m3-64h0m4-60h0m3 29h0m4-30h0m3 20h0m3-15h0m4-6h0m3 10h0m4-83h0m3-56h0m4-25h0m3 80h0m3 141h0m4 172h0m3 25h0m4-104h0m3-45h0m4-30h0m3-33h0m3 4h0m4 67h0m3 11h0m4-71h0m3-94h0m3-94h0m4 35h0m3 27h0m4-13h0m3 43h0m4 4h0m3-92h0m3-87h0m4-14h0m3 46h0m4 70h0m3 27h0m3 73h0m4 60h0m3-58h0m4 32h0m3 104h0m4 12h0m3-64h0m3-74h0m4 18h0m3-95h0m4-115h0m3-2h0m3 46h0m4 63h0m3 113h0m4 89h0m3 21h0m4-60h0m3-42h0m3 20h0m4 16h0m3-29h0m4 49h0m3 12h0m3-15h0m4-18h0m3 69h0m4 45h0m3-130h0m4-104h0m3 34h0m3 53h0m4-31h0m3-26h0m4 50h0m3-2h0m4-86h0m3-11h0m3 106h0m4 53h0m3 44h0m4-50h0m3-52h0m3-34h0m4 22h0m3 58h0m4 44h0m3-101h0m4-50h0m3-97h0m3 57h0m4 11h0m3-12h0m4-8h0m3 32h0m3 35h0m4-14h0m3 63h0m4 56h0m3 5h0m4-37h0m3-28h0m3-29h0m4 43h0m3-15h0m4-43h0m3-49h0m3 23h0m4-3h0m3-7h0m4 52h0m3 46h0m4-76h0m3 40h0m3 64h0m4 23h0m3-38h0m4-86h0m3 11h0m3 10h0m4-96h0m3-39h0m4 52h0m3 15h0m4-57h0m3-6h0m3 117h0m4 116h0m3 66h0m4 6h0m3-71h0m3-34h0m4 109h0m3 7h0m4-146h0m3-118h0m4-13h0m3 8h0m3-74h0m4-42h0m3 59h0m4 130h0m3 106h0m4 38h0m3-102h0m3-34h0m4 65h0m3 14h0m4-60h0m3 21h0m3 22h0m4 41h0m3 38h0m4-97h0m3-15h0m4 72h0m3 48h0m3-20h0m4-119h0m3-39h0m4 14h0m3 64h0m3-48h0m4 2h0m3 50h0m4-102h0m3-60h0m4-28h0m3 17h0m3 51h0m4 67h0m3 15h0m4 83h0m3 45h0m3 14h0m4-34h0m3-102h0m4-32h0m3 73h0m4-46h0m3-134h0m3 80h0m4 88h0m3 167h0m4 40h0m3-32h0m3-138h0m4-93h0m3-73h0m4-22h0m3 42h0m4 72h0m3 89h0m3-33h0m4-62h0m3 68h0m4 43h0m3-60h0m4-44h0m3 1h0m3-62h0m4-88h0m3-5h0m4 33h0m3 76h0m3 50h0m4 38h0m3 26h0m4-2h0m3-24h0m4-35h0m3 28h0m3 38h0m4-47h0m3-66h0m4 47h0m3 0h0m3-11h0m4 46h0m3 78h0m4 12h0m3-91h0m4-11h0m3-6h0m3-60h0m4 15h0m3 54h0m4 18h0m3 7h0m3-6h0m4 41h0m3-66h0m4-39h0m3 47h0m4 59h0m3 15h0m3 36h0m4 7h0m3-88h0m4-31h0m3-21h0m3 13h0m4-38h0m3 104h0m4 18h0m3-64h0m4-65h0m3 32h0m3 17h0m4-36h0m3-48h0m4-9h0m3-9h0m3 52h0m4 19h0m3 12h0m4-78h0m3-58h0m4 8h0m3 43h0m3 28h0m4 62h0m3 11h0m4-18h0m3-46h0m4-59h0m3-74h0m3-11h0m4 61h0m3 20h0m4 88h0m3 82h0m3 43h0m4 19h0m3-27h0m4-44h0m3-18h0m4-17h0m3-62h0m3 62h0m4 51h0m3-39h0m4-128h0m3-72h0m3 111h0m4 153h0m3-32h0m4 21h0m3 73h0m4-42h0m3-39h0m3-104h0m4 22h0m3 75h0m4 42h0m3-103h0m3-142h0m4-106h0m3 82h0m4 130h0m3 2h0m4 22h0m3 13h0m3 24h0m4-65h0m3-43h0m4 14h0m3 52h0m3 52h0m4-40h0m3-23h0m4-10h0m3 18h0m4 49h0m3 119h0m3 38h0m4-122h0m3-116h0m4-20h0m3 79h0m3 32h0m4-66h0m3-37h0m4 111h0m3 44h0m4-85h0m3 0h0m3 94h0m4 51h0m3 75h0m4 6h0m3-27h0m4-220h0m3-160h0m3-10h0m4 33h0m3 56h0m4 86h0m3-11h0m3 22h0m4 57h0m3-86h0m4-73h0m3-44h0m4 0h0m3 28h0m3 12h0m4 72h0m3 75h0m4-2h0m3-35h0m3-2h0m4-7h0m3 65h0m4 25h0m3 55h0m4-14h0m3-49h0m3-68h0m4-58h0m3-78h0m4-27h0m3 45h0m3 58h0m4 30h0m3-50h0m4-19h0m3 66h0m4 86h0m3 50h0m3 19h0m4 2h0m3-122h0m4-167h0m3 37h0m3 165h0m4 75h0m3-130h0m4-20h0m3 140h0m4 23h0m3-133h0m3-1h0m4 69h0m3 13h0m4-4h0m3-42h0m4-106h0m3 21h0m3 45h0m4-26h0m3 18h0m4 76h0m3 4h0m3-11h0m4 4h0m3-11h0m4-24h0m3-97h0m4-62h0m3 57h0m3 102h0m4 26h0m3-68h0m4-33h0m3 95h0m3-6h0m4-67h0m3-11h0m4 121h0m3 24h0m4-88h0m3 62h0m3 31h0m4 19h0m3 2h0m4-29h0m3-162h0m3-42h0m4 135h0m3 98h0m4 57h0m3 21h0m4-124h0m3-42h0m3 40h0m4 12h0m3-26h0m4 7h0m3-6h0m3 11h0m4 4h0m3 6h0m4-44h0m3-91h0m4-92h0m3 11h0m3 47h0m4 98h0m3 74h0m4-27h0m3-91h0m3-109h0m4 5h0m3 30h0m4 1h0m3 13h0m4-45h0m3 50h0m3 95h0m4-17h0m3-77h0m4-17h0m3 80h0m4 124h0m3 84h0m3-74h0m4-74h0m3-57h0m4-17h0m3-59h0m3 46h0m4-7h0m3-10h0m4-23h0m3 45h0m4-15h0m3-43h0m3-9h0m4-26h0m3 77h0m4 74h0m3 26h0m3-15h0m4-85h0m3-46h0m4 69h0m3 43h0m4-75h0m3-96h0m3-13h0m4 98h0m3 131h0m4-19h0m3-68h0m3-107h0m4-64h0m3-13h0m4-3h0m3 86h0m4 93h0m3 49h0m3 73h0m4 59h0m3-1h0m4-46h0m3-51h0m3-110h0m4-63h0m3-49h0m4 114h0m3 82h0m4-8h0m3-67h0m3-45h0m4 11h0m3 117h0m4 134h0m3 36h0m3-117h0m4-102h0m3 10h0m4 57h0m3-51h0m4 11h0m3 24h0m3 85h0m4 10h0m3-23h0m4-119h0m3-64h0m4-20h0m3 28h0m3-4h0m4 79h0m3 68h0m4 8h0m3-92h0m3-140h0m4-110h0m3 0h0m4 126h0m3-13h0m4 38h0m3 36h0m3-16h0m4 22h0m3 19h0m4 55h0m3 47h0m3 101h0m4-12h0m3-45h0m4-118h0m3 6h0m4 91h0m3 86h0m3-72h0m4-129h0m3-93h0m4-23h0m3-16h0m3-13h0m4 5h0m3 48h0m4 51h0m3 37h0m4-42h0m3-40h0m3-38h0m4 12h0m3 81h0m4 62h0m3-19h0m3-38h0m4 67h0m3 83h0m4 29h0m3-79h0m4-62h0m3-78h0m3-38h0m4-8h0m3 34h0m4 78h0m3-14h0m4-17h0m3 25h0m3 0h0m4 70h0m3-9h0m4-104h0m3 91h0m3 91h0m4-40h0m3-110h0m4-75h0m3-130h0m4 1h0m3 73h0m3 34h0m4 33h0m3 28h0m4 98h0m3-20h0m3-17h0m4-86h0m3 38h0m4 19h0m3-58h0m4-100h0m3 49h0m3 101h0m4-25h0m3 7h0m4-64h0m3 12h0m3 89h0m4 38h0m3-36h0m4-27h0m3 8h0m4 16h0m3-68h0m3-54h0m4 71h0m3-9h0m4-23h0m3 16h0m3 47h0m4 7h0m3-9h0m4 2h0m3 92h0m4-49h0m3-108h0m3-46h0m4 26h0m3 4h0m4-80h0m3-42h0m3 159h0m4 71h0m3-62h0m4-44h0m3-47h0m4-67h0m3 28h0m3 96h0m4 10h0m3 11h0m4 14h0m3 7h0m4 31h0m3 19h0m3-70h0m4-19h0m3 27h0m4 64h0m3 20h0m3-23h0m4-49h0m3-76h0m4 21h0m3 30h0m4-16h0m3-14h0m3 36h0m4 47h0m3-20h0m4 13h0m3 25h0m3-37h0m4-75h0m3 13h0m4-1h0m3 81h0m4-32h0m3-37h0m3 18h0m4-3h0m3 25h0m4 43h0m3-71h0m3-89h0m4-32h0m3 19h0m4 43h0m3-7h0m4 18h0m3 62h0m3-73h0m4-97h0m3-53h0m4 97h0m3 112h0m3 16h0m4 46h0m3 31h0m4 29h0m3-70h0m4-2h0m3 60h0m3 9h0m4-71h0m3-30h0m4 5h0m3-27h0m4 20h0m3-11h0m3-87h0m4-91h0m3 19h0m4 59h0m3 34h0m3 75h0m4-2h0m3-27h0m4 5h0m3 34h0m4-10h0m3 65h0m3-25h0m4 44h0m3-43h0m4-19h0m3-12h0m3 30h0m4-5h0m3-93h0m4-25h0m3-16h0m4 111h0m3 131h0m3-28h0m4 34h0m3-51h0m4-51h0m3-88h0m3-25h0m4 91h0m3-48h0m4 23h0m3-27h0m4 48h0m3 75h0m3 23h0m4-30h0m3-3h0m4-38h0m3 73h0m3 76h0m4-30h0m3-33h0m4-163h0m3-109h0m4 8h0m3 92h0m3 93h0m4-117h0m3 23h0m4-8h0m3 62h0m3-50h0m4 25h0m3 40h0m4-58h0m3-93h0m4 45h0m3 95h0m3 111h0m4-62h0m3-150h0m4 35h0m3-18h0m4-40h0m3 72h0m3 42h0m4 32h0m3-43h0m4-14h0m3-7h0m3-57h0m4 57h0m3 82h0m4 1h0m3-91h0m4 65h0m3 27h0m3-133h0m4 15h0m3-22h0m4 124h0m3 2h0m3-43h0m4 0h0m3 107h0m4 48h0m3-18h0m4-70h0m3-41h0m3 23h0m4-3h0m3-92h0m4-101h0m3-2h0m3 6h0m4 75h0m3 174h0m4 105h0m3-136h0m4-54h0m3-52h0m3-50h0m4-50h0m3 3h0m4 13h0m3-87h0m3 40h0m4 189h0m3-21h0m4-64h0m3-77h0m4-74h0m3 43h0m3 148h0m4 69h0m3-21h0m4-140h0m3-72h0m3 77h0m4 64h0m3 30h0m4-30h0m3 77h0m4 23h0m3 19h0m3 38h0m4-130h0m3-103h0m4-138h0m3 18h0m4 44h0m3 60h0m3 81h0m4 44h0m3-114h0m4-58h0m3 47h0m3-16h0m4 73h0m3 5h0m4 120h0m3 8h0m4-96h0m3-71h0m3-29h0m4 120h0m3-33h0m4 42h0m3-124h0m3 136h0m4 39h0m3-13h0m4-109h0m3-174h0m4 57h0m3 52h0m3 79h0m4-14h0m3-79h0m4 67h0m3-36h0m3 20h0m4-57h0m3-109h0m4-72h0m3 51h0m4 82h0m3 151h0m3-64h0m4-114h0m3 5h0m4-67h0m3 14h0m3 4h0m4 74h0m3-38h0m4-30h0m3-47h0m4 120h0m3 62h0m3-3h0m4 26h0m3-178h0m4 75h0m3-61h0m4-43h0m3-53h0m3 159h0m4 116h0m3-55h0m4-154h0m3-174h0m3-70h0m4 134h0m3-23h0m4-4h0m3 206h0m4 72h0m3-120h0m3-31h0m4-28h0m3 13h0m4-43h0m3 15h0m3-80h0m4 60h0m3-25h0m4-102h0m3 84h0m4-68h0m3 59h0m3-94h0m4-24h0m3 15h0m4-1h0m3 47h0m3 57h0m4 23h0m3 113h0m4-97h0m3-91h0m4-82h0m3 46h0m3-72h0m4 83h0m3-20h0m4 24h0m3-62h0m3 71h0m4-214h0m3 84h0m4-98h0m3 161h0m4-153h0m3 21h0m3-26h0m4 121h0m3-123h0m4-136h0m3 16h0m3 150h0m4-208h0m3 44h0m4-68h0m3 184h0m4-87h0m3-19h0m3 46h0m4-38h0m3-24h0m4 47h0m3 100h0m4-40h0m3-249h0m3 110h0m4 123h0m3 19h0m4-171h0m3-24h0m3-73h0m4 63h0m3-32h0m4 4h0m3-244h0m4-50h0m3 15h0m3 371h0m4-341h0m3-102h0m4-19h0m3 154h0m3 127h0m4-74h0m3-17h0m4-32h0m3-65h0m4-35h0m3-48h0m3 32h0m4 23h0m3 199h0m4-234h0m3 13h0m3-52h0m4 28h0m3 151h0m4-313h0m3 55h0m4 0h0m3-110h0m3 157h0m4 61h0m3 81h0m4 48h0m3-143h0m3 2h0m4-175h0m3-115h0m4-94h0m3 232h0m4-135h0m3 5h0m3 246h0m4-257h0m3 92h0m4 271h0m3-68h0m4-165h0m3 112h0m3-135h0m4 112h0m3 282h0m4 17h0m3-273h0m3-50h0m4-53h0m3-45h0m4-12h0m3 175h0m4 155h0m3-195h0m3-138h0m4-90h0m3 360h0m4-67h0m3-155h0m3 155h0m4 85h0m3-185h0m4-5h0m3 46h0m4 257h0m3-103h0m3-212h0m4 153h0m3-64h0m4-13h0m3 176h0m3-39h0m4-3h0m3-119h0m4 81h0m3 69h0m4 32h0m3-3h0m3 136h0m4-23h0m3-53h0m4 17h0m3 36h0m3 42h0m4-234h0m3 169h0m4 78h0m3-23h0m4-113h0m3-81h0m3 310h0m4-104h0m3 103h0m4-207h0m3 145h0m3 276h0m4-350h0m3 111h0m4-43h0m3 129h0m4 16h0m3 66h0m3-44h0m4 204h0m3-147h0m4-176h0m3-151h0m4 218h0m3 171h0m3-76h0m4 140h0m3-158h0m4 35h0m3-90h0m3-175h0m4 14h0m3 115h0m4 137h0m3 132h0m4-89h0m3 25h0m3-30h0m4 201h0m3-2h0m4-63h0m3 44h0m3-94h0m4-65h0m3 129h0m4-85h0m3-57h0m4 206h0m3-17h0m3-40h0m4 65h0m3 3h0m4 108h0m3-116h0m3-14h0m4-18h0m3 26h0m4 75h0m3 64h0m4-150h0m3 181h0m3-66h0m4 14h0m3-173h0m4 166h0m3-133h0m3 46h0m4 70h0m3 49h0m4 5h0m3-105h0m4 9h0m3-48h0m3 77h0m4 72h0m3-65h0m4 44h0m3 147h0m3 55h0m4-152h0m3 36h0m4-20h0m3-6h0m4 40h0m3-125h0m3-77h0m4 192h0m3 27h0m4-41h0m3-18h0m4 155h0m3-3h0m3 40h0m4-33h0m3-180h0m4-79h0m3 99h0m3 49h0m4 60h0m3 48h0m4-12h0m3 76h0m4-15h0m3-125h0m3 51h0m4 104h0m3-146h0m4-36h0m3 135h0m3-57h0m4-61h0m3 96h0m4 87h0m3-243h0m4 56h0m3 35h0m3 12h0m4 29h0m3 119h0m4-85h0m3-62h0m3 52h0m4-82h0m3 45h0m4 94h0m3-54h0m4-5h0m3-104h0m3 20h0m4-46h0m3 83h0m4-20h0m3 70h0m3 74h0m4 8h0m3 70h0m4-81h0m3-53h0m4 31h0m3 22h0m3 18h0m4-83h0m3 14h0m4-147h0m3 37h0m4 40h0m3 93h0m3-26h0m4 107h0m3 183h0m4-165h0m3-78h0m3 17h0m4-86h0m3 94h0m4 114h0m3 22h0m4-61h0m3-105h0m3-78h0m4-35h0m3 43h0m4 83h0m3-61h0m3-20h0m4-38h0m3 197h0m4-31h0m3-45h0m4-132h0m3 170h0m3-122h0m4-48h0m3 151h0m4-81h0m3 24h0m3 66h0m4 82h0m3 60h0m4-23h0m3-143h0m4-21h0m3 56h0m3-19h0m4 3h0m3-72h0m4-32h0m3-85h0m3 37h0m4 150h0m3 19h0m4 80h0m3 60h0m4 15h0m3 6h0m3 57h0m4 50h0m3-50h0m4-127h0m3-93h0m3-95h0m4-52h0m3-129h0m4 143h0m3 40h0m4 26h0m3 4h0m3 46h0m4 59h0m3 41h0m4-17h0m3 29h0m4 25h0m3-55h0m3-111h0m4 30h0m3 154h0m4 46h0m3-72h0m3 9h0m4-21h0m3-49h0m4-13h0m3-43h0m4-41h0m3 66h0m3 76h0m4-94h0m3-166h0m4 97h0m3 7h0m3-42h0m4 54h0m3 87h0m4 42h0m3 37h0m4-72h0m3-78h0m3-19h0m4-54h0m3 73h0m4 34h0m3 86h0m3-26h0m4-50h0m3 43h0m4 58h0m3-26h0m4-1h0m3 10h0m3-71h0m4-39h0m3 42h0m4 81h0m3 89h0m3-11h0m4-55h0m3 32h0m4-135h0m3-104h0m4 38h0m3-47h0m3 74h0m4 55h0m3 48h0m4 76h0m3 69h0m3-132h0m4-148h0m3 61h0m4 26h0m3 14h0m4-10h0m3 0h0m3-12h0m4-7h0m3-33h0m4 108h0m3 34h0m4 19h0m3-17h0m3 58h0m4-106h0m3-70h0m4 19h0m3-42h0m3 3h0m4 4h0m3 132h0m4 58h0m3 12h0m4 34h0m3 2h0m3-12h0m4-86h0m3-123h0m4-20h0m3 92h0m3 17h0m4 87h0m3 11h0m4-16h0m3-89h0m4-79h0m3 28h0m3 25h0m4-70h0m3-93h0m4 61h0m3 105h0m3-44h0m4-3h0m3 7h0m4-8h0m3 29h0m4 96h0m3 95h0m3-27h0m4-118h0m3-63h0m4-65h0m3-80h0m3-21h0m4 8h0m3 100h0m4 160h0m3-18h0m4-102h0m3-17h0m3 27h0m4-7h0m3-33h0m4-53h0m3-99h0m4 137h0m3 24h0m3 21h0m4-43h0m3 69h0m4 36h0m3 34h0m3 80h0m4 10h0m3 3h0m4 70h0m3-98h0m4-138h0m3-8h0m3-27h0m4 141h0m3-23h0m4-69h0m3-10h0m3 51h0m4-114h0m3-115h0m4 21h0m3 156h0m4-9h0m3-34h0m3-59h0m4 48h0m3 138h0m4-3h0m3-171h0m3-98h0m4 150h0m3 89h0m4-7h0m3 16h0m4 24h0m3-16h0m3-154h0m4-97h0m3 78h0m4 128h0m3 1h0m3-3h0m4 21h0m3-23h0m4 20h0m3 2h0m4 50h0m3 98h0m3-79h0m4-61h0m3 16h0m4-72h0m3-55h0m3-72h0m4 81h0m3 47h0m4-10h0m3-81h0m4-36h0m3-65h0m3 25h0m4 70h0m3 18h0m4 122h0m3-6h0m4-10h0m3-86h0m3-71h0m4 41h0m3 84h0m4-16h0m3-2h0m3 5h0m4 82h0m3-33h0m4-61h0m3-47h0m4 48h0m3 3h0m3 23h0m4-6h0m3-54h0m4-25h0m3 116h0m3-10h0m4-48h0m3-7h0m4 63h0m3-83h0m4-41h0m3 15h0m3 60h0m4 58h0m3-30h0m4-185h0m3 23h0m3 99h0m4 127h0m3-93h0m4-30h0m3-35h0m4 124h0m3-9h0m3 8h0m4-195h0m3-92h0m4 56h0m3 106h0m3 71h0m4 91h0m3 100h0m4 1h0m3-38h0m4-26h0m3 140h0m3-149h0m4-24h0m3-53h0m4-18h0m3 54h0m3-14h0m4 17h0m3 28h0m4 25h0m3-72h0m4-25h0m3-44h0m3-5h0m4 12h0m3 48h0m4-14h0m3-60h0m4 15h0m3 147h0m3 99h0m4-125h0m3-103h0m4 9h0m3 45h0m3-38h0m4-26h0m3-83h0m4-110h0m3 24h0m4-11h0m3 57h0m3 39h0m4 97h0m3 28h0m4-18h0m3-90h0m3-23h0m4 46h0m3 9h0m4 22h0m3 34h0m4 48h0m3 80h0m3-47h0m4 59h0m3-51h0m4-48h0m3-67h0m3-60h0m4 69h0m3 78h0m4-21h0m3-3h0m4 123h0m3-7h0m3-49h0m4-88h0m3-144h0m4-37h0m3 67h0m3 33h0m4 34h0m3 31h0m4-31h0m3 102h0m4-29h0m3-81h0m3 4h0m4 16h0m3 107h0m4-35h0m3-25h0m4-48h0m3-83h0m3-15h0m4 69h0m3-11h0m4 39h0m3 99h0m3 75h0m4-33h0m3-85h0m4-47h0m3 6h0m4 56h0m3 43h0m3-5h0m4-46h0m3-14h0m4-16h0m3-19h0m3-96h0m4-34h0m3-149h0m4 1h0m3 54h0m4 155h0m3 89h0m3 17h0m4 90h0m3 6h0m4 29h0m3-69h0m3-10h0m4-132h0m3-63h0m4-34h0m3 28h0m4 29h0m3-21h0m3-8h0m4 41h0m3-4h0m4 33h0m3-81h0m3 75h0m4 29h0m3-50h0m4-20h0m3 53h0m4 48h0m3-63h0m3-45h0m4 12h0m3 96h0m4-23h0m3 51h0m3-101h0m4 78h0m3 93h0m4-87h0m3-204h0m4-82h0m3-19h0m3 55h0m4-82h0m3 31h0m4 94h0m3 25h0m4 71h0m3 34h0m3-67h0m4-69h0m3 85h0m4-42h0m3 105h0m3-15h0m4 22h0m3-18h0m4-19h0m3 18h0m4 28h0m3 43h0m3 12h0m4 78h0m3-1h0m4-52h0m3-79h0m3 9h0m4-105h0m3-13h0m4 19h0m3 86h0m4 46h0m3 47h0m3-101h0m4-40h0m3 2h0m4-20h0m3-24h0m3-91h0m4 26h0m3 96h0m4-96h0m3 12h0m4 105h0m3-43h0m3 52h0m4 35h0m3-101h0m4-76h0m3-109h0m3 159h0m4 37h0m3-27h0m4 56h0m3-54h0m4-42h0m3-44h0m3-82h0m4-99h0m3-16h0m4 217h0m3-27h0m4 29h0m3 39h0m3 31h0m4-27h0m3 0h0m4 88h0m3 94h0m3-131h0m4-5h0m3-68h0m4 180h0m3 73h0m4-72h0m3-34h0m3-109h0m4-104h0m3 42h0m4 69h0m3 86h0m3-151h0m4-87h0m3-11h0m4-47h0m3 160h0m4-18h0m3 57h0m3-39h0m4-13h0m3-26h0m4 86h0m3 30h0m3-74h0m4 8h0m3 70h0m4-49h0m3 27h0m4-41h0m3 14h0m3 57h0m4-94h0m3-161h0m4 79h0m3 87h0m3-109h0m4 18h0m3 107h0m4 7h0m3-149h0m4-2h0m3-79h0m3 38h0m4 15h0m3-9h0m4 57h0m3-97h0m3 24h0m4-34h0m3-4h0m4 174h0m3-109h0m4 13h0m3-47h0m3-35h0m4 123h0m3-69h0m4 44h0m3 45h0m4-71h0m3-57h0m3 129h0m4 48h0m3-52h0m4-60h0m3-13h0m3-84h0m4 121h0m3-106h0m4 48h0m3 73h0m4 113h0m3-82h0m3-180h0m4 111h0m3 42h0m4-105h0m3 22h0m3-14h0m4-67h0m3 99h0m4-4h0m3-60h0m4 78h0m3 94h0m3 41h0m4-37h0m3-216h0m4 15h0m3 10h0m3-40h0m4 98h0m3 199h0m4-19h0m3-209h0m4 17h0m3 24h0m3-44h0m4-5h0m3-101h0m4 73h0m3 14h0m3-58h0m4 126h0m3-107h0m4 77h0m3 44h0m4-113h0m3-189h0m3-116h0m4 78h0m3 68h0m4-39h0m3 69h0m3 45h0m4 99h0m3 18h0m4 41h0m3-22h0m4 104h0m3-62h0m3-121h0m4-97h0m3-151h0m4-106h0m3 174h0m4 37h0m3 68h0m3-135h0m4 95h0m3-91h0m4 180h0m3-59h0m3-128h0m4 200h0m3-59h0m4-97h0m3 66h0m4 5h0m3 70h0m3-216h0m4 23h0m3-124h0m4 38h0m3 106h0m3 11h0m4 50h0m3-25h0m4-120h0m3-49h0m4 91h0m3 99h0m3 66h0m4-203h0m3 80h0m4-203h0m3 100h0m3 116h0m4-142h0m3-94h0m4 47h0m3 203h0m4-258h0m3 168h0m3 99h0m4-152h0m3 104h0m4 99h0m3 56h0m3-25h0m4-261h0m3 119h0m4 78h0m3 30h0m4-106h0m3-95h0m3-59h0m4 17h0m3-92h0m4-20h0m3 144h0m4-75h0m3-57h0m3 79h0m4-162h0m3 256h0m4 17h0m3 13h0m3 13h0m4 201h0m3-87h0m4-312h0m3-23h0m4-175h0m3 126h0m3-11h0m4 122h0m3-4h0m4 16h0m3-89h0m3 7h0m4 5h0m3 64h0m4-130h0m3 25h0m4-107h0m3 153h0m3-31h0m4-146h0m3 167h0m4-166h0m3 434h0m3-89h0m4-145h0m3-52h0m4-79h0m3 50h0m4 129h0m3-40h0m3 30h0m4-268h0m3 61h0m4 88h0m3 129h0m3 125h0m4-175h0m3 131h0m4-86h0m3 28h0m4-77h0m3 20h0m3 23h0m4-8h0m3-15h0m4 29h0m3-31h0m3 27h0m4 3h0m3 13h0m4-91h0m3 59h0m4 110h0m3-13h0m3-95h0m4 220h0m3-183h0m4 7h0m3-25h0m4 117h0m3-87h0m3-2h0m4 75h0m3-96h0m4 132h0m3-83h0m3 166h0m4-120h0m3 240h0m4-37h0m3 13h0m4 75h0m3-149h0m3 114h0m4-12h0m3 25h0m4-59h0m3-52h0m3 178h0m4 39h0m3-74h0m4-97h0m3-24h0m4-45h0m3 34h0m3-120h0m4 37h0m3-37h0m4 185h0m3 75h0m3 76h0m4-85h0m3-110h0m4-6h0m3 115h0m4 40h0m3-139h0m3 123h0m4 232h0m3-74h0m4-95h0m3 50h0m3-156h0m4 75h0m3-25h0m4 158h0m3 32h0m4-180h0m3 50h0m3 37h0m4 15h0m3 106h0m4-74h0m3-19h0m4-5h0m3-72h0m3-54h0m4-3h0m3 58h0m4-131h0m3 146h0m3 25h0m4 17h0m3 77h0m4-163h0m3 70h0m4-44h0m3 75h0m3 82h0m4-68h0m3 115h0m4-162h0m3 87h0m3-11h0m4-148h0m3-47h0m4 17h0m3 220h0m4-11h0m3-86h0m3 33h0m4 20h0m3-18h0m4 89h0m3-40h0m3-39h0m4 118h0m3-67h0m4 28h0m3-94h0m4 15h0m3-39h0m3 124h0m4-64h0m3-19h0m4-40h0m3-59h0m3 185h0m4-32h0m3-86h0m4 34h0m3 45h0m4 132h0m3 8h0m3 74h0m4-64h0m3-7h0m4-64h0m3-41h0m3-66h0m4 98h0m3 90h0m4-29h0m3-77h0m4-158h0m3 20h0m3-35h0m4 126h0m3 55h0m4 45h0m3 68h0m4-228h0m3-64h0m3 148h0m4 62h0m3 69h0m4 54h0m3-121h0m3-111h0m4 31h0m3 46h0m4 61h0m3 37h0m4 31h0m3 105h0m3-90h0m4-100h0m3-64h0m4 54h0m3-36h0m3-27h0m4 139h0m3-6h0m4-91h0m3-106h0m4 88h0m3-54h0m3 120h0m4 108h0m3-12h0m4-146h0m3 99h0m3-21h0m4-125h0m3-70h0m4 3h0m3 18h0m4-49h0m3-4h0m3 124h0m4 50h0m3-94h0m4-17h0m3-93h0m3-3h0m4 104h0m3 30h0m4-49h0m3 3h0m4-156h0m3 104h0m3 97h0m4 190h0m3 40h0m4-165h0m3-191h0m3-96h0m4 276h0m3 91h0m4-113h0m3-59h0m4-28h0m3-127h0m3 195h0m4 153h0m3-68h0m4-64h0m3-135h0m4 64h0m3 80h0m3 2h0m4-2h0m3-13h0m4-100h0m3-4h0m3-60h0m4-8h0m3 24h0m4-10h0m3 83h0m4-32h0m3 14h0m3 36h0m4 49h0m3 8h0m4 6h0m3 7h0m3-18h0m4 119h0m3-116h0m4 70h0m3 75h0m4-48h0m3 36h0m3-232h0m4-94h0m3 152h0m4 100h0m3-169h0m3-34h0m4-31h0m3 100h0m4 47h0m3-45h0m4 53h0m3-94h0m3 16h0m4-9h0m3 126h0m4-23h0m3-171h0m3-14h0m4 47h0m3 46h0m4 34h0m3-35h0m4 47h0m3-51h0m3-15h0m4-68h0m3 188h0m4-38h0m3 43h0m4 10h0m3-7h0m3 64h0m4-41h0m3 5h0m4 108h0m3 10h0m3-28h0m4-160h0m3-50h0m4-60h0m3 110h0m4 52h0m3 35h0m3 140h0m4-26h0m3-50h0m4-102h0m3 0h0m3 8h0m4 27h0m3 16h0m4 64h0m3-16h0m4 104h0m3-101h0m3-51h0m4-32h0m3-9h0m4-10h0m3-60h0m3-144h0m4 119h0m3 112h0m4 102h0m3-24h0m4-114h0m3-47h0m3 64h0m4-79h0m3 30h0m4-71h0m3 73h0m3 182h0m4-23h0m3-118h0m4 31h0m3 40h0m4 62h0m3-55h0m3-36h0m4-17h0m3-19h0m4 95h0m3-40h0m3 56h0m4-12h0m3-57h0m4-39h0m3-96h0m4 81h0m3 51h0m3 95h0m4 93h0m3-33h0m4-24h0m3-42h0m4-4h0m3-43h0m3 88h0m4 91h0m3-70h0m4 4h0m3-1h0m3-126h0m4-68h0m3-22h0m4 91h0m3-15h0m4-120h0m3 10h0m3 110h0m4 69h0m3 80h0m4 30h0m3-1h0m3-59h0m4-57h0m3-152h0m4-50h0m3 24h0m4-31h0m3 90h0m3 17h0m4 13h0m3 56h0m4 95h0m3-24h0m3-27h0m4 21h0m3 7h0m4-76h0m3-1h0m4-15h0m3 8h0m3-9h0m4 1h0m3-43h0m4-51h0m3-11h0m3 19h0m4 18h0m3 34h0m4 61h0m3 91h0m4 0h0m3-43h0m3 14h0m4-67h0m3-55h0m4 65h0m3 112h0m3 30h0m4-8h0m3-42h0m4-152h0m3-102h0m4 21h0m3 64h0m3-21h0m4 43h0m3 52h0m4 88h0m3 34h0m4-86h0m3-113h0m3 49h0m4 101h0m3 14h0m4 18h0m3 9h0m3 82h0m4-12h0m3-49h0m4-106h0m3-46h0m4-12h0m3 58h0m3 38h0m4-1h0m3-46h0m4 34h0m3-46h0m3-13h0m4 108h0m3 48h0m4-55h0m3-100h0m4-53h0m3-35h0m3 47h0m4-23h0m3-16h0m4 45h0m3-14h0m3 15h0m4 4h0m3-20h0m4-22h0m3-2h0m4 44h0m3 161h0m3 12h0m4-98h0m3-16h0m4 99h0m3 6h0m3-29h0m4-41h0m3 6h0m4-30h0m3 68h0m4 8h0m3-23h0m3-151h0m4 28h0m3 35h0m4 4h0m3 30h0m4-16h0m3 16h0m3 21h0m4 72h0m3 29h0m4 1h0m3-44h0m3-57h0m4-7h0m3 74h0m4 41h0m3-73h0m4-58h0m3-17h0m3-16h0m4 36h0m3 79h0m4-47h0m3-39h0m3 7h0m4 38h0m3 21h0m4 15h0m3-26h0m4 21h0m3 27h0m3-122h0m4-68h0m3 50h0m4 97h0m3 16h0m3-23h0m4-26h0m3-16h0m4 9h0m3-15h0m4 18h0m3-51h0m3-57h0m4 14h0m3 117h0m4 127h0m3-74h0m3-58h0m4 51h0m3 87h0m4-19h0m3-135h0m4-90h0m3-22h0m3 25h0m4 16h0m3-15h0m4 140h0m3 127h0m3 35h0m4-24h0m3-79h0m4-91h0m3-26h0m4 26h0m3 80h0m3-99h0m4-33h0m3 37h0m4 64h0m3 83h0m4 47h0m3-83h0m3-180h0m4-18h0m3 46h0m4 4h0m3 47h0m3 33h0m4 27h0m3 49h0m4 93h0m3-14h0m4-91h0m3-70h0m3-3h0m4-35h0m3-39h0m4-2h0m3-18h0m3 8h0m4-32h0m3 19h0m4 121h0m3 133h0m4 44h0m3-17h0m3-14h0m4-93h0m3-102h0m4-14h0m3-14h0m3 19h0m4 11h0m3-16h0m4-21h0m3 14h0m4-20h0m3 1h0m3 92h0m4-38h0m3-71h0m4 55h0m3 92h0m3-50h0m4-6h0m3 32h0m4-52h0m3 39h0m4 22h0m3 9h0m3 8h0m4 70h0m3 47h0m4-31h0m3-83h0m4-70h0m3 28h0m3-45h0m4-11h0m3-20h0m4-6h0m3 17h0m3-10h0m4-109h0m3 29h0m4 126h0m3 47h0m4-31h0m3-68h0m3-44h0m4 143h0m3 172h0m4-126h0m3-176h0m3 0h0m4 94h0m3 41h0m4 0h0m3 56h0m4 66h0m3 5h0m3-32h0m4-116h0m3-59h0m4 46h0m3 29h0m3-9h0m4-17h0m3-12h0m4-49h0m3 55h0m4 56h0m3-11h0m3-3h0m4-4h0m3-22h0m4-25h0m3-39h0m3 0h0m4 76h0m3 47h0m4-28h0m3 19h0m4 17h0m3-17h0m3-10h0m4-11h0m3-30h0m4-87h0m3-109h0m3-24h0m4 8h0m3 42h0m4 70h0m3 38h0m4-22h0m3 50h0m3 92h0m4-18h0m3-49h0m4-54h0m3-78h0m4-3h0m3 39h0m3-52h0m4 50h0m3 101h0m4-15h0m3-49h0m3-63h0m4 55h0m3 95h0m4-64h0m3 49h0m4 3h0m3-17h0m3-13h0m4 15h0m3 34h0m4 13h0m3-80h0m3-64h0m4 15h0m3 43h0m4 17h0m3 27h0m4 62h0m3 7h0m3 12h0m4 28h0m3 8h0m4-44h0m3 0h0m3-28h0m4 35h0m3-77h0m4-28h0m3 72h0m4 4h0m3-36h0m3-70h0m4-31h0m3-5h0m4 79h0m3 33h0m3-12h0m4 25h0m3 45h0m4-47h0m3-82h0m4 12h0m3 48h0m3-80h0m4-6h0m3 169h0m4 65h0m3 4h0m3-79h0m4-16h0m3 3h0m4-39h0m3 14h0m4 50h0m3 21h0m3-31h0m4-89h0m3-88h0m4-28h0m3 42h0m4 70h0m3 93h0m3 14h0m4 2h0m3-13h0m4 10h0m3 68h0m3 36h0m4 46h0m3-99h0m4-110h0m3-89h0m4-26h0m3 74h0m3 69h0m4 2h0m3-47h0m4-8h0m3-6h0m3-27h0m4 9h0m3 12h0m4-13h0m3 18h0m4-15h0m3-80h0m3-6h0m4 99h0m3 118h0m4-52h0m3-48h0m3-11h0m4-21h0m3 71h0m4-17h0m3-60h0m4 13h0m3-4h0m3 2h0m4 12h0m3-53h0m4-80h0m3 49h0m3 71h0m4 36h0m3 50h0m4 8h0m3-55h0m4-57h0m3-9h0m3 14h0m4-8h0m3 68h0m4 69h0m3 45h0m4-13h0m3-91h0m3-89h0m4-34h0m3-45h0m4 95h0m3 65h0m3-26h0m4-85h0m3 30h0m4 76h0m3 11h0m4-15h0m3-46h0m3 18h0m4 15h0m3 14h0m4-8h0m3 28h0m3-50h0m4 16h0m3 30h0m4-6h0m3-56h0m4-90h0m3-34h0m3 13h0m4 74h0m3 114h0m4 36h0m3 23h0m3-12h0m4-48h0m3 4h0m4 2h0m3 12h0m4-51h0m3-50h0m3-19h0m4 34h0m3 49h0m4 24h0m3-49h0m3-6h0m4-36h0m3 2h0m4-11h0m3-14h0m4-46h0m3-46h0m3 12h0m4 58h0m3 57h0m4 24h0m3 4h0m3-6h0m4-28h0m3-2h0m4-10h0m3 11h0m4-90h0m3 43h0m3 33h0m4 55h0m3 120h0m4 53h0m3-56h0m4 1h0m3 81h0m3-21h0m4-14h0m3-56h0m4-53h0m3-34h0m3-4h0m4 24h0m3 43h0m4 30h0m3-14h0m4 6h0m3 19h0m3-111h0m4-48h0m3 87h0m4 69h0m3 36h0m3-17h0m4-9h0m3-93h0m4-61h0m3-43h0m4 108h0m3 63h0m3-71h0m4-95h0m3 54h0m4 55h0m3-39h0m3 89h0m4 43h0m3-98h0m4-22h0m3 52h0m4-52h0m3-116h0m3 92h0m4 159h0m3 65h0m4-112h0m3-71h0m3-44h0m4-22h0m3-62h0m4 29h0m3 33h0m4 9h0m3-12h0m3 83h0m4 12h0m3 23h0m4-17h0m3-65h0m3-93h0m4-10h0m3 93h0m4 24h0m3 16h0m4 47h0m3 81h0m3 60h0m4-47h0m3-57h0m4-49h0m3-18h0m4-2h0m3 6h0m3-33h0m4-79h0m3 14h0m4 90h0m3 17h0m3-82h0m4-83h0m3 22h0m4 10h0m3 24h0m4 86h0m3 44h0m3-42h0m4-19h0m3 19h0m4-16h0m3-18h0m3 12h0m4-8h0m3-18h0m4-48h0m3 22h0m4 46h0m3-68h0m3-54h0m4 51h0m3 51h0m4 0h0m3-47h0m3-61h0m4-38h0m3 114h0m4 86h0m3 35h0m4-25h0m3-131h0m3 26h0m4 50h0m3-5h0m4-56h0m3-47h0m3-20h0m4-59h0m3-45h0m4 69h0m3 75h0m4-11h0m3 56h0m3 10h0m4-11h0m3 28h0m4-74h0m3-4h0m4 14h0m3-8h0m3-39h0m4 141h0m3 59h0m4-21h0m3-126h0m3 27h0m4 39h0m3 27h0m4-35h0m3-115h0m4-14h0m3 37h0m3-15h0m4-89h0m3 46h0m4 34h0m3 71h0m3 8h0m4 2h0m3 9h0m4 48h0m3 33h0m4 116h0m3-66h0m3-73h0m4-11h0m3-65h0m4-50h0m3-74h0m3-88h0m4 51h0m3 106h0m4 63h0m3-26h0m4 18h0m3 142h0m3 86h0m4-20h0m3-31h0m4-85h0m3-147h0m3-39h0m4 65h0m3 50h0m4-72h0m3-118h0m4 20h0m3 147h0m3 9h0m4-2h0m3 22h0m4-24h0m3 50h0m3-56h0m4-86h0m3-100h0m4 20h0m3 69h0m4-16h0m3-13h0m3-27h0m4 54h0m3 93h0m4 29h0m3 54h0m4 30h0m3-45h0m3-64h0m4 54h0m3 23h0m4-19h0m3 35h0m3-104h0m4-62h0m3-51h0m4 144h0m3 181h0m4-35h0m3-121h0m3-81h0m4-90h0m3-86h0m4 59h0m3 95h0m3 37h0m4 7h0m3-8h0m4 37h0m3-50h0m4 0h0m3-48h0m3-55h0m4 49h0m3 128h0m4 100h0m3 45h0m3-60h0m4-99h0m3 36h0m4-38h0m3-14h0m4-30h0m3 48h0m3 96h0m4-21h0m3-141h0m4 47h0m3 194h0m3 16h0m4-25h0m3-200h0m4-191h0m3-18h0m4 71h0m3 93h0m3 33h0m4-139h0m3 11h0m4 198h0m3 202h0m4-82h0m3-33h0m3-118h0m4 32h0m3-15h0m4-5h0m3 53h0m3-1h0m4-113h0m3-55h0m4-3h0m3 30h0m4 74h0m3 28h0m3-39h0m4-15h0m3 12h0m4 59h0m3 27h0m3-55h0m4-104h0m3-4h0m4-14h0m3-92h0m4-25h0m3 61h0m3 91h0m4-101h0m3-15h0m4 112h0m3 44h0m3-103h0m4 14h0m3-1h0m4 18h0m3-5h0m4 44h0m3 59h0m3-86h0m4-35h0m3-57h0m4 85h0m3 79h0m3-41h0m4-102h0m3-138h0m4 2h0m3 90h0m4 26h0m3-63h0m3 49h0m4 38h0m3 91h0m4 94h0m3 5h0m3-24h0m4-36h0m3-45h0m4 72h0m3 4h0m4 16h0m3-26h0m3-7h0m4-86h0m3-145h0m4 89h0m3 3h0m4 48h0m3 138h0m3 55h0m4-129h0m3-50h0m4 54h0m3-16h0m3 99h0m4 34h0m3-30h0m4-194h0m3-104h0m4-4h0m3 153h0m3 46h0m4 42h0m3 69h0m4-50h0m3-47h0m3-65h0m4-79h0m3-10h0m4 76h0m3-20h0m4 38h0m3 20h0m3-53h0m4 72h0m3-69h0m4-55h0m3-24h0m3 73h0m4-33h0m3-68h0m4-100h0m3-27h0m4 128h0m3 72h0m3 73h0m4-4h0m3-80h0m4 17h0m3 63h0m3-9h0m4-16h0m3 0h0m4-11h0m3 119h0m4 30h0m3-101h0m3 50h0m4-104h0m3 13h0m4 2h0m3-84h0m3 71h0m4-90h0m3 66h0m4 67h0m3 101h0m4-148h0m3 0h0m3-91h0m4 65h0m3 91h0m4 92h0m3 44h0m4 63h0m3-111h0m3-53h0m4-85h0m3 104h0m4 87h0m3-117h0m3-38h0m4 42h0m3-96h0m4-140h0m3-12h0m4 133h0m3 54h0m3-80h0m4 38h0m3 3h0m4-21h0m3 34h0m3 52h0m4-62h0m3-1h0m4-30h0m3 7h0m4-14h0m3 86h0m3-55h0m4-76h0m3 18h0m4 13h0m3 98h0m3 116h0m4-114h0m3 13h0m4-30h0m3 53h0m4 21h0m3-16h0m3 16h0m4 10h0m3-153h0m4-188h0m3-3h0m3 134h0m4 100h0m3 102h0m4 104h0m3 14h0m4 7h0m3-24h0m3-45h0m4-12h0m3-69h0m4-67h0m3-82h0m4-34h0m3 110h0m3 54h0m4-20h0m3-26h0m4-95h0m3 16h0m3 64h0m4 21h0m3 9h0m4-25h0m3 61h0m4 59h0m3 48h0m3 28h0m4 66h0m3-161h0m4-20h0m3-139h0m3-1h0m4 75h0m3 39h0m4 41h0m3 22h0m4-34h0m3-104h0m3 8h0m4 16h0m3-32h0m4-71h0m3-39h0m3 9h0m4 52h0m3 74h0m4 110h0m3 110h0m4-38h0m3-61h0m3-57h0m4 28h0m3-20h0m4 58h0m3 25h0m3-66h0m4-55h0m3-3h0m4 0h0m3 15h0m4 6h0m3-10h0m3-107h0m4 2h0m3 60h0m4 114h0m3 161h0m3 16h0m4-110h0m3-157h0m4-61h0m3 103h0m4 37h0m3-50h0m3-29h0m4 49h0m3 10h0m4-10h0m3-21h0m4 26h0m3 6h0m3-77h0m4-32h0m3-33h0m4-50h0m3 78h0m3 96h0m4 67h0m3 31h0m4 27h0m3-127h0m4-139h0m3-7h0m3 119h0m4 95h0m3 3h0m4-52h0m3-89h0m3 46h0m4 28h0m3 70h0m4 47h0m3 67h0m4-59h0m3-53h0m3-52h0m4-43h0m3-84h0m4 2h0m3 135h0m3 72h0m4-48h0m3-14h0m4 0h0m3 26h0m4 13h0m3-32h0m3-14h0m4 35h0m3 28h0m4-117h0m3-23h0m3-35h0m4-6h0m3 37h0m4 43h0m3 4h0m4 64h0m3 32h0m3 34h0m4-20h0m3-78h0m4-51h0m3 74h0m3 17h0m4-18h0m3-18h0m4-19h0m3 17h0m4-18h0m3-75h0m3-74h0m4 56h0m3 100h0m4-19h0m3-73h0m4-13h0m3 23h0m3 6h0m4 10h0m3-13h0m4-11h0m3 101h0m3 82h0m4-43h0m3 48h0m4 23h0m3-86h0m4 6h0m3 107h0m3-4h0m4-131h0m3-120h0m4-46h0m3 84h0m3 111h0m4 4h0m3 38h0m4-22h0m3-31h0m4-12h0m3 36h0m3 13h0m4-98h0m3-6h0m4 104h0m3 25h0m3-12h0m4-39h0m3-69h0m4-42h0m3-35h0m4-7h0m3 70h0m3 69h0m4 88h0m3-53h0m4-56h0m3-17h0m3 16h0m4-45h0m3 29h0m4 52h0m3-47h0m4-24h0m3 137h0m3 134h0m4 9h0m3-57h0m4-101h0m3-139h0m4-78h0m3-16h0m3 85h0m4 71h0m3 23h0m4 20h0m3-3h0m3-39h0m4 48h0m3 64h0m4 17h0m3-74h0m4-84h0m3 26h0m3 89h0m4-2h0m3-4h0m4 13h0m3-41h0m3-46h0m4-40h0m3 51h0m4 97h0m3-43h0m4-68h0m3 10h0m3-38h0m4 9h0m3 87h0m4 7h0m3 8h0m3-22h0m4 22h0m3 52h0m4-40h0m3-74h0m4-42h0m3-72h0m3-54h0m4-13h0m3 15h0m4 88h0m3 99h0m3 22h0m4 8h0m3 30h0m4 23h0m3 103h0m4-34h0m3-109h0m3-87h0m4-27h0m3-35h0m4-72h0m3-50h0m3 20h0m4 7h0m3 33h0m4 59h0m3 43h0m4 40h0m3 31h0m3 15h0m4 8h0m3 0h0m4-47h0m3-52h0m4 67h0m3 58h0m3-53h0m4-46h0m3-66h0m4-27h0m3 75h0m3 19h0m4 7h0m3 47h0m4 7h0m3-8h0m4-51h0m3-3h0m3 59h0m4 2h0m3-10h0m4-3h0m3 3h0m3 16h0m4-46h0m3-20h0m4 54h0m3 78h0m4-2h0m3-78h0m3-81h0m4-42h0m3-30h0m4 41h0m3 70h0m3 96h0m4-23h0m3-88h0m4-27h0m3 31h0m4 11h0m3-21h0m3 44h0m4 49h0m3-74h0m4-101h0m3-50h0m3 87h0m4 103h0m3-9h0m4-47h0m3 36h0m4 40h0m3-74h0m3-34h0m4 85h0m3-18h0m4-74h0m3 24h0m3 124h0m4 62h0m3-76h0m4-112h0m3-13h0m4 76h0m3 37h0m3-8h0m4-54h0m3-42h0m4 12h0m3 13h0m4-11h0m3-12h0m3-62h0m4-42h0m3 38h0m4 88h0m3 52h0m3-54h0m4-74h0m3 7h0m4 41h0m3 48h0m4-20h0m3-15h0m3 1h0m4-36h0m3-50h0m4-16h0m3 83h0m3 109h0m4-26h0m3-112h0m4-58h0m3 23h0m4-15h0m3-38h0m3 113h0m4 123h0m3 13h0m4-35h0m3-32h0m3-12h0m4 1h0m3 1h0m4-67h0m3-35h0m4 2h0m3-16h0m3 39h0m4 14h0m3-37h0m4 5h0m3 17h0m3-37h0m4 48h0m3 111h0m4 16h0m3-102h0m4-88h0m3-20h0m3-32h0m4 18h0m3 46h0m4 10h0m3 1h0m4-19h0m3 12h0m3 53h0m4 50h0m3 34h0m4-57h0m3 7h0m3 57h0m4 16h0m3-45h0m4 19h0m3 24h0m4-52h0m3-45h0m3-7h0m4-3h0m3 1h0m4 19h0m3 35h0m3 60h0m4 28h0m3-19h0m4-16h0m3-43h0m4-61h0m3 62h0m3 86h0m4 62h0m3 32h0m4-43h0m3-40h0m3-43h0m4-23h0m3-28h0m4-27h0m3-78h0m4-73h0m3 31h0m3 78h0m4 86h0m3 33h0m4-37h0m3-36h0m3 21h0m4-15h0m3-70h0m4-22h0m3 34h0m4 26h0m3 55h0m3 64h0m4 63h0m3 3h0m4-32h0m3-44h0m3-27h0m4-62h0m3-67h0m4 35h0m3 25h0m4 4h0m3 0h0m3-36h0m4-48h0m3 80h0m4 75h0m3-54h0m4-96h0m3 35h0m3 61h0m4-25h0m3-12h0m4 38h0m3 15h0m3-46h0m4-50h0m3 31h0m4 61h0m3-25h0m4-41h0m3-57h0m3-1h0m4 100h0m3 53h0m4-32h0m3-22h0m3 26h0m4-20h0m3-25h0m4 45h0m3 70h0m4 39h0m3-45h0m3-5h0m4 28h0m3-31h0m4-3h0m3 34h0m3-2h0m4 11h0m3-41h0m4-43h0m3 70h0m4-26h0m3-126h0m3-27h0m4 59h0m3 60h0m4-12h0m3-17h0m3 32h0m4-55h0m3-58h0m4 68h0m3 72h0m4-44h0m3-75h0m3-43h0m4 15h0m3 67h0m4 108h0m3 59h0m4-15h0m3-72h0m3-53h0m4-68h0m3-3h0m4 46h0m3-6h0m3-62h0m4-40h0m3-35h0m4 8h0m3 46h0m4 40h0m3 92h0m3 56h0m4 54h0m3 46h0m4-75h0m3-126h0m3-39h0m4 71h0m3 26h0m4-36h0m3-22h0m4 18h0m3 37h0m3 94h0m4 42h0m3-26h0m4-25h0m3-27h0m3-61h0m4-55h0m3-96h0m4-60h0m3 116h0m4 71h0m3-20h0m3 65h0m4 19h0m3-99h0m4-117h0m3-15h0m3 110h0m4 120h0m3 40h0m4-24h0m3-373h0m4-60h0m3 50h0m3 302h0m4-1h0m3 56h0m4 27h0m3-110h0m3-94h0m4-1h0m3 42h0m4-4h0m3-45h0m4 39h0m3 88h0" fill="none" stroke="#46AF3C" stroke-width="114" stroke-linecap="round"/><path transform="scale(.1)" d="M1362 4210h0m3-249h0m4 45h0m3-67h0m4-123h0m3 7h0m4 50h0m3 16h0m3-41h0m4-16h0m3 48h0m4 18h0m3 0h0m3-93h0m4-37h0m3 36h0m4 89h0m3-84h0m4-19h0m3 10h0m3-58h0m4 22h0m3-100h0m4 13h0m3-19h0m3 18h0m4-28h0m3-61h0m4 69h0m3 58h0m4 69h0m3 23h0m3-27h0m4-32h0m3 37h0m4 33h0m3 55h0m3-37h0m4-33h0m3-82h0m4 68h0m3 25h0m4 18h0m3-80h0m3-56h0m4-21h0m3 55h0m4 38h0m3 100h0m3-9h0m4 38h0m3 56h0m4-75h0m3 50h0m4-77h0m3 7h0m3-23h0m4-17h0m3-63h0m4 75h0m3 50h0m3-36h0m4 69h0m3-49h0m4-30h0m3 73h0m4-38h0m3 60h0m3-105h0m4 130h0m3-16h0m4-3h0m3-4h0m4-1h0m3 89h0m3-41h0m4-69h0m3-11h0m4-4h0m3 0h0m3 0h0m4 3h0m3-11h0m4 24h0m3 24h0m4-54h0m3-64h0m3 9h0m4 151h0m3 4h0m4 8h0m3-112h0m3 22h0m4 55h0m3 13h0m4-34h0m3-27h0m4-3h0m3-13h0m3-16h0m4-18h0m3 32h0m4 27h0m3-23h0m3-30h0m4-39h0m3 91h0m4-12h0m3 17h0m4-17h0m3 86h0m3 58h0m4-40h0m3-42h0m4-71h0m3 14h0m3 99h0m4 16h0m3-58h0m4-72h0m3-1h0m4-5h0m3-14h0m3 20h0m4 55h0m3 71h0m4-41h0m3-19h0m4-44h0m3-46h0m3-89h0m4 46h0m3 70h0m4 31h0m3 38h0m3 30h0m4 40h0m3-4h0m4-34h0m3-71h0m4-42h0m3-37h0m3 15h0m4-25h0m3 45h0m4 22h0m3 2h0m3-60h0m4-7h0m3 45h0m4 68h0m3 40h0m4-32h0m3-64h0m3 24h0m4 110h0m3 39h0m4 38h0m3-26h0m3-101h0m4-23h0m3 19h0m4 3h0m3-17h0m4-54h0m3 1h0m3-47h0m4-4h0m3 22h0m4 32h0m3 24h0m3 29h0m4 15h0m3 0h0m4-18h0m3-6h0m4-68h0m3 13h0m3-8h0m4 30h0m3 49h0m4-57h0m3-17h0m3 0h0m4-1h0m3-36h0m4-6h0m3 40h0m4 15h0m3-40h0m3-20h0m4 30h0m3 54h0m4-10h0m3-67h0m4-1h0m3 18h0m3 46h0m4 2h0m3-2h0m4 12h0m3-36h0m3 34h0m4 40h0m3 17h0m4-22h0m3 29h0m4-45h0m3-19h0m3-1h0m4-21h0m3 11h0m4-11h0m3-22h0m3 10h0m4 34h0m3 92h0m4-13h0m3-41h0m4-31h0m3-29h0m3 5h0m4-39h0m3-21h0m4 16h0m3-29h0m3-4h0m4-44h0m3-11h0m4 95h0m3 114h0m4-2h0m3 31h0m3-65h0m4-38h0m3-66h0m4 42h0m3 56h0m3-23h0m4 44h0m3-57h0m4-57h0m3-36h0m4 53h0m3 26h0m3 52h0m4 68h0m3 13h0m4-32h0m3 3h0m3 7h0m4-6h0m3-24h0m4 5h0m3 22h0m4 32h0m3-42h0m3-42h0m4 27h0m3 18h0m4-40h0m3 2h0m4-41h0m3-3h0m3 14h0m4-20h0m3 15h0m4 26h0m3-5h0m3-43h0m4-9h0m3-28h0m4-37h0m3-4h0m4 88h0m3 18h0m3 10h0m4-12h0m3 14h0m4 14h0m3 37h0m3-4h0m4-45h0m3-26h0m4-25h0m3 8h0m4 67h0m3-25h0m3 3h0m4-19h0m3-27h0m4-10h0m3-7h0m3 9h0m4-9h0m3 18h0m4-22h0m3-27h0m4 26h0m3 31h0m3-14h0m4 16h0m3 95h0m4 60h0m3-83h0m3-77h0m4-8h0m3-32h0m4-35h0m3 1h0m4 69h0m3 82h0m3 21h0m4-57h0m3 48h0m4 52h0m3-107h0m4-45h0m3-15h0m3 57h0m4 33h0m3-11h0m4-22h0m3 32h0m3 70h0m4-74h0m3-109h0m4-11h0m3 55h0m4 46h0m3 33h0m3 56h0m4-5h0m3-11h0m4-71h0m3 5h0m3 30h0m4 41h0m3-50h0m4 0h0m3-8h0m4 10h0m3-71h0m3-39h0m4-34h0m3-31h0m4 2h0m3 95h0m3 82h0m4-27h0m3 34h0m4-6h0m3-105h0m4-81h0m3 90h0m3 74h0m4 96h0m3 28h0m4-74h0m3-143h0m3-53h0m4 96h0m3 49h0m4 42h0m3-69h0m4-31h0m3-25h0m3 32h0m4 19h0m3 19h0m4 39h0m3-42h0m3 10h0m4 9h0m3 1h0m4 2h0m3-78h0m4 69h0m3 9h0m3 25h0m4-2h0m3-43h0m4-53h0m3 15h0m4 52h0m3 4h0m3-35h0m4-64h0m3 1h0m4 84h0m3-3h0m3-50h0m4 2h0m3 35h0m4-19h0m3 7h0m4 40h0m3 55h0m3-18h0m4-24h0m3-52h0m4 1h0m3 14h0m3-29h0m4-66h0m3 59h0m4 24h0m3 41h0m4-29h0m3 27h0m3 42h0m4 44h0m3 1h0m4-66h0m3-45h0m3-29h0m4 28h0m3 12h0m4-28h0m3-94h0m4 16h0m3 21h0m3 1h0m4-47h0m3 7h0m4 59h0m3 0h0m3 6h0m4 74h0m3 39h0m4-19h0m3-43h0m4-45h0m3 3h0m3-43h0m4 46h0m3 36h0m4-8h0m3-8h0m4-70h0m3-36h0m3 61h0m4 18h0m3-39h0m4 22h0m3 46h0m3 74h0m4 5h0m3-64h0m4-41h0m3-3h0m4-18h0m3 91h0m3 18h0m4 36h0m3-39h0m4-39h0m3-51h0m3-61h0m4 27h0m3 111h0m4 95h0m3-56h0m4-56h0m3-126h0m3 12h0m4 98h0m3 39h0m4 16h0m3-23h0m3-25h0m4-85h0m3 92h0m4 65h0m3-52h0m4-54h0m3-6h0m3 6h0m4 11h0m3 28h0m4-30h0m3 25h0m3-136h0m4-19h0m3 80h0m4 14h0m3 1h0m4 2h0m3-6h0m3 24h0m4-5h0m3-22h0m4 72h0m3 32h0m3-48h0m4-29h0m3-17h0m4 68h0m3-1h0m4 24h0m3-120h0m3-18h0m4 5h0m3 32h0m4-5h0m3 25h0m4 16h0m3 21h0m3 27h0m4 6h0m3-9h0m4-5h0m3-70h0m3 72h0m4-23h0m3 4h0m4-32h0m3 70h0m4-117h0m3 27h0m3-28h0m4 79h0m3 104h0m4-36h0m3-46h0m3-79h0m4-70h0m3 77h0m4 24h0m3 21h0m4 18h0m3-39h0m3-3h0m4-37h0m3-22h0m4 12h0m3 41h0m3 36h0m4 6h0m3-17h0m4-48h0m3-44h0m4 1h0m3-22h0m3 80h0m4 64h0m3 10h0m4 46h0m3-46h0m3-38h0m4 1h0m3-1h0m4-5h0m3 54h0m4-39h0m3-39h0m3 7h0m4 35h0m3 14h0m4 13h0m3-106h0m3-43h0m4-19h0m3 7h0m4 11h0m3-16h0m4-55h0m3 80h0m3 18h0m4 20h0m3 89h0m4 0h0m3 54h0m4-63h0m3-26h0m3-115h0m4 49h0m3-6h0m4 9h0m3 6h0m3 66h0m4-1h0m3-64h0m4 35h0m3 28h0m4-44h0m3-23h0m3-80h0m4 18h0m3 38h0m4-42h0m3-61h0m3-8h0m4 168h0m3 87h0m4-4h0m3-83h0m4-28h0m3 12h0m3 19h0m4 34h0m3-60h0m4-19h0m3 15h0m3 37h0m4 70h0m3-17h0m4-22h0m3 7h0m4-7h0m3-34h0m3-3h0m4 44h0m3-30h0m4 55h0m3 0h0m3-43h0m4-145h0m3 7h0m4 39h0m3-10h0m4 23h0m3-60h0m3 27h0m4 24h0m3-30h0m4-16h0m3-52h0m4 131h0m3-1h0m3-69h0m4-2h0m3 38h0m4 17h0m3 13h0m3-24h0m4-35h0m3 80h0m4-9h0m3-66h0m4 71h0m3 38h0m3 23h0m4 27h0m3-104h0m4-10h0m3-81h0m3-71h0m4-4h0m3 6h0m4 72h0m3 209h0m4 9h0m3-73h0m3-222h0m4-25h0m3-42h0m4 130h0m3 55h0m3 11h0m4-74h0m3 19h0m4 18h0m3 56h0m4-113h0m3-14h0m3 69h0m4-28h0m3 5h0m4 4h0m3 39h0m3 16h0m4-143h0m3-41h0m4 70h0m3-19h0m4 48h0m3 17h0m3 54h0m4-43h0m3-23h0m4 38h0m3-90h0m3 80h0m4 64h0m3-106h0m4-9h0m3-66h0m4 102h0m3-84h0m3 130h0m4-62h0m3 54h0m4-104h0m3 67h0m4-153h0m3 93h0m3 84h0m4-35h0m3 42h0m4 6h0m3 50h0m3-162h0m4-10h0m3-75h0m4 51h0m3-89h0m4-43h0m3 20h0m3 93h0m4-57h0m3 27h0m4-95h0m3 60h0m3-5h0m4 90h0m3 26h0m4-29h0m3-27h0m4 45h0m3-122h0m3 25h0m4 89h0m3-39h0m4-61h0m3 189h0m3-82h0m4-28h0m3-67h0m4 6h0m3-30h0m4-29h0m3-70h0m3 99h0m4-12h0m3-77h0m4-4h0m3 28h0m3-150h0m4 16h0m3 12h0m4 72h0m3-35h0m4 110h0m3-149h0m3 29h0m4-43h0m3 195h0m4-166h0m3-40h0m4 0h0m3 91h0m3-32h0m4 70h0m3-161h0m4 6h0m3-31h0m3 66h0m4 12h0m3 26h0m4-29h0m3 39h0m4-51h0m3 0h0m3-93h0m4-30h0m3-83h0m4 109h0m3-37h0m3-106h0m4 168h0m3-7h0m4 2h0m3-28h0m4 39h0m3-309h0m3 141h0m4-298h0m3 157h0m4 1h0m3 46h0m3 32h0m4-20h0m3-103h0m4 51h0m3-62h0m4 44h0m3 8h0m3-127h0m4 98h0m3-246h0m4 81h0m3 20h0m3-34h0m4 73h0m3-102h0m4-81h0m3-8h0m4-80h0m3-10h0m3 320h0m4 43h0m3-319h0m4 192h0m3-60h0m3-386h0m4 139h0m3-114h0m4 71h0m3-367h0m4 384h0m3-74h0m3 72h0m4-20h0m3-389h0m4 232h0m3-3h0m4 14h0m3-69h0m3-124h0m4-96h0m3 248h0m4-195h0m3 108h0m3-125h0m4-31h0m3-23h0m4-258h0m3 114h0m4-141h0m3 182h0m3 8h0m4-290h0m3-66h0m4 280h0m3-122h0m3-32h0m4 399h0m3-374h0m4-101h0m3 69h0m4 3h0m3 129h0m3-138h0m4-200h0m3 40h0m4 234h0m3-505h0m3 190h0m4 167h0m3-161h0m4-124h0m3-106h0m4 117h0m3 66h0m3 2h0m4 132h0m3-90h0m4 128h0m3-108h0m3 172h0m4-110h0m3 257h0m4-94h0m3-83h0m4-189h0m3 172h0m3-393h0m4 337h0m3 88h0m4-102h0m3 181h0m3 110h0m4 127h0m3-211h0m4-146h0m3-50h0m4 293h0m3 152h0m3 20h0m4-152h0m3-80h0m4 28h0m3 98h0m4 40h0m3 101h0m3 49h0m4 307h0m3-168h0m4 58h0m3 59h0m3-76h0m4-201h0m3-29h0m4 154h0m3 291h0m4 65h0m3-19h0m3 128h0m4 100h0m3-215h0m4 356h0m3 44h0m3-221h0m4-130h0m3 38h0m4-138h0m3 193h0m4-25h0m3 100h0m3-9h0m4 232h0m3-223h0m4 118h0m3-59h0m3 171h0m4-19h0m3-195h0m4 59h0m3 80h0m4-99h0m3 146h0m3 64h0m4-71h0m3 4h0m4 37h0m3 16h0m3 82h0m4 48h0m3 10h0m4 197h0m3-147h0m4 111h0m3-111h0m3 69h0m4 33h0m3 1h0m4 61h0m3 36h0m4 12h0m3 9h0m3 103h0m4 32h0m3-4h0m4-86h0m3-55h0m3-127h0m4 120h0m3 40h0m4 102h0m3 78h0m4-4h0m3-61h0m3 74h0m4 9h0m3-1h0m4-83h0m3-13h0m3 38h0m4-25h0m3 108h0m4-17h0m3 106h0m4-62h0m3-73h0m3-100h0m4 67h0m3-25h0m4-47h0m3 110h0m3 54h0m4 111h0m3-75h0m4-70h0m3 45h0m4-1h0m3-78h0m3 195h0m4-118h0m3 62h0m4-92h0m3-98h0m3 97h0m4 99h0m3 9h0m4-6h0m3-144h0m4-93h0m3 133h0m3 6h0m4 79h0m3 44h0m4-35h0m3 18h0m3-36h0m4 29h0m3 139h0m4 7h0m3-2h0m4-35h0m3-78h0m3-5h0m4-20h0m3 172h0m4-8h0m3-163h0m4 44h0m3-18h0m3-119h0m4-36h0m3 277h0m4-36h0m3-4h0m3-85h0m4 64h0m3-76h0m4 78h0m3-82h0m4 195h0m3 9h0m3-17h0m4-39h0m3 110h0m4-117h0m3-138h0m3 32h0m4 137h0m3-11h0m4 36h0m3-70h0m4 14h0m3 61h0m3 118h0m4-96h0m3-138h0m4-111h0m3 112h0m3 15h0m4 9h0m3 15h0m4-20h0m3 58h0m4-78h0m3 70h0m3 40h0m4 0h0m3 32h0m4 41h0m3-123h0m3-4h0m4 61h0m3-16h0m4-75h0m3 24h0m4 22h0m3 83h0m3-24h0m4-62h0m3 21h0m4-34h0m3 17h0m3-19h0m4 87h0m3-18h0m4-25h0m3 83h0m4 23h0m3 32h0m3-44h0m4 55h0m3 61h0m4-45h0m3-114h0m4-28h0m3 54h0m3-78h0m4 40h0m3 67h0m4-93h0m3-51h0m3 55h0m4 114h0m3 16h0m4 41h0m3-131h0m4-64h0m3 7h0m3-44h0m4 53h0m3-41h0m4 94h0m3-23h0m3 87h0m4-5h0m3 39h0m4-140h0m3-22h0m4-44h0m3 83h0m3-15h0m4 29h0m3-23h0m4 9h0m3 9h0m3-11h0m4-57h0m3 62h0m4-55h0m3-8h0m4 32h0m3 36h0m3-37h0m4-27h0m3-12h0m4 40h0m3 118h0m3-22h0m4-84h0m3-18h0m4 25h0m3 83h0m4-59h0m3 41h0m3-151h0m4 78h0m3 76h0m4-44h0m3-9h0m4-112h0m3 57h0m3 51h0m4 124h0m3 45h0m4-9h0m3 49h0m3-75h0m4-154h0m3 21h0m4 63h0m3-60h0m4 24h0m3-33h0m3 12h0m4-110h0m3 16h0m4 52h0m3-2h0m3-44h0m4 48h0m3-62h0m4-56h0m3-31h0m4 127h0m3 22h0m3 46h0m4 11h0m3-18h0m4 12h0m3-9h0m3-63h0m4-90h0m3 81h0m4 12h0m3-20h0m4 60h0m3-28h0m3-40h0m4 21h0m3-93h0m4-36h0m3 74h0m3 19h0m4 109h0m3-36h0m4-11h0m3 57h0m4-32h0m3 103h0m3-62h0m4 34h0m3 21h0m4 12h0m3-73h0m3-55h0m4-154h0m3-46h0m4 44h0m3 195h0m4-32h0m3-35h0m3-84h0m4 76h0m3-23h0m4 28h0m3-55h0m4-23h0m3 35h0m3-70h0m4 4h0m3 35h0m4 3h0m3 10h0m3-11h0m4 62h0m3 70h0m4-59h0m3-80h0m4-6h0m3-83h0m3-5h0m4 110h0m3-1h0m4-47h0m3 38h0m3-22h0m4 66h0m3-12h0m4 16h0m3-44h0m4 74h0m3 17h0m3-10h0m4-22h0m3-11h0m4-66h0m3 1h0m3-25h0m4-62h0m3 55h0m4 25h0m3 26h0m4-58h0m3-36h0m3 120h0m4 106h0m3-79h0m4-57h0m3-51h0m3 112h0m4-104h0m3-43h0m4-14h0m3 72h0m4-61h0m3 61h0m3-43h0m4-103h0m3 135h0m4 27h0m3-64h0m3 22h0m4-52h0m3-55h0m4 93h0m3 98h0m4-42h0m3-43h0m3-72h0m4 129h0m3-57h0m4 46h0m3-8h0m4-59h0m3-126h0m3 22h0m4-44h0m3 23h0m4-121h0m3-58h0m3 83h0m4 16h0m3 118h0m4-28h0m3 5h0m4-8h0m3-30h0m3 9h0m4-77h0m3-32h0m4 60h0m3-116h0m3 8h0m4 61h0m3 140h0m4-138h0m3-47h0m4 108h0m3 20h0m3-39h0m4-186h0m3 69h0m4-46h0m3 88h0m3-134h0m4 46h0m3 107h0m4-22h0m3-213h0m4 152h0m3-111h0m3-67h0m4 96h0m3 37h0m4 43h0m3-122h0m3-60h0m4 108h0m3 200h0m4-44h0m3-67h0m4-153h0m3 74h0m3 85h0m4-15h0m3 64h0m4 11h0m3-63h0m4-94h0m3-54h0m3-131h0m4 117h0m3 112h0m4 71h0m3-63h0m3 81h0m4-93h0m3-116h0m4 90h0m3 79h0m4-47h0m3-18h0m3 39h0m4-32h0m3 63h0m4-143h0m3 131h0m3-51h0m4 66h0m3-95h0m4 186h0m3-35h0m4 128h0m3-146h0m3 47h0m4 164h0m3-24h0m4-259h0m3 83h0m3 136h0m4 144h0m3-63h0m4-137h0m3-38h0m4 191h0m3-127h0m3 49h0m4 10h0m3 72h0m4 22h0m3-25h0m3-4h0m4-48h0m3 85h0m4 81h0m3-19h0m4-14h0m3 50h0m3-41h0m4-13h0m3-92h0m4 78h0m3 1h0m3-18h0m4 142h0m3-71h0m4 71h0m3 52h0m4 49h0m3-24h0m3 1h0m4-123h0m3 57h0m4-9h0m3-44h0m4-103h0m3 2h0m3 80h0m4 13h0m3-74h0m4 36h0m3 25h0m3 54h0m4 12h0m3 4h0m4 85h0m3 1h0m4-52h0m3-38h0m3 40h0m4-10h0m3 44h0m4 5h0m3-174h0m3 115h0m4 40h0m3 58h0m4-23h0m3-78h0m4 44h0m3 0h0m3 2h0m4-29h0m3-12h0m4 134h0m3-109h0m3-59h0m4-66h0m3 53h0m4 80h0m3 16h0m4 56h0m3 19h0m3 44h0m4-14h0m3 15h0m4-117h0m3-25h0m3 86h0m4 52h0m3 123h0m4-57h0m3-1h0m4-39h0m3-21h0m3-59h0m4 53h0m3 1h0m4-62h0m3-69h0m4 68h0m3-13h0m3 44h0m4 58h0m3-72h0m4-6h0m3 10h0m3 7h0m4 85h0m3-21h0m4-2h0m3-44h0m4 33h0m3 44h0m3-36h0m4-7h0m3-51h0m4-42h0m3-40h0m3 44h0m4 136h0m3-3h0m4-45h0m3 17h0m4 3h0m3 36h0m3-23h0m4-27h0m3-34h0m4 7h0m3 30h0m3-36h0m4-19h0m3-4h0m4 40h0m3 105h0m4 26h0m3-73h0m3-88h0m4-50h0m3 27h0m4 66h0m3 44h0m3-9h0m4-13h0m3 25h0m4 50h0m3-21h0m4-30h0m3-85h0m3-97h0m4-36h0m3 56h0m4 56h0m3 67h0m3 56h0m4-59h0m3-33h0m4 11h0m3 1h0m4 53h0m3-15h0m3 15h0m4 19h0m3 33h0m4-40h0m3 18h0m4 52h0m3-7h0m3-52h0m4-14h0m3-63h0m4 14h0m3-43h0m3 27h0m4 5h0m3 25h0m4 60h0m3 28h0m4-16h0m3 44h0m3-52h0m4-17h0m3 35h0m4 87h0m3 7h0m3-75h0m4-28h0m3-46h0m4-69h0m3 32h0m4 33h0m3 62h0m3-79h0m4-8h0m3-4h0m4-41h0m3-59h0m3 15h0m4 19h0m3-32h0m4 24h0m3-13h0m4 61h0m3 62h0m3-12h0m4-17h0m3-42h0m4 20h0m3 74h0m3-13h0m4 4h0m3-16h0m4 38h0m3 22h0m4-24h0m3 5h0m3-2h0m4-12h0m3-42h0m4 3h0m3 19h0m3 8h0m4 15h0m3 5h0m4-59h0m3 8h0m4-45h0m3-47h0m3 6h0m4 7h0m3 75h0m4 26h0m3-19h0m4 3h0m3 30h0m3-35h0m4-20h0m3 55h0m4 40h0m3 20h0m3-47h0m4-58h0m3-17h0m4 1h0m3-12h0m4 73h0m3 33h0m3-48h0m4-8h0m3 0h0m4-70h0m3 33h0m3 101h0m4-30h0m3-101h0m4-17h0m3-24h0m4 4h0m3 93h0m3 48h0m4-3h0m3-51h0m4 19h0m3 22h0m3-8h0m4-3h0m3 2h0m4-35h0m3 18h0m4 31h0m3 48h0m3-12h0m4-20h0m3 3h0m4 58h0m3-14h0m3-1h0m4-28h0m3 2h0m4 9h0m3-25h0m4-32h0m3-108h0m3 23h0m4 90h0m3 24h0m4-63h0m3 27h0m4 29h0m3-35h0m3-15h0m4-22h0m3 29h0m4-11h0m3 18h0m3-39h0m4-25h0m3 21h0m4-85h0m3 21h0m4 46h0m3 44h0m3-7h0m4-3h0m3 44h0m4 24h0m3-77h0m3-74h0m4 17h0m3 35h0m4 79h0m3 10h0m4-26h0m3-1h0m3 8h0m4-3h0m3-67h0m4 3h0m3 31h0m3 21h0m4-26h0m3 17h0m4-38h0m3-45h0m4-1h0m3 46h0m3 10h0m4-7h0m3-68h0m4-25h0m3 21h0m3 81h0m4-22h0m3-72h0m4 10h0m3 3h0m4 17h0m3 40h0m3 8h0m4-33h0m3 3h0m4 25h0m3 31h0m3 53h0m4 17h0m3-21h0m4-44h0m3-59h0m4 33h0m3-57h0m3-50h0m4 12h0m3 58h0m4 44h0m3 23h0m4-34h0m3-63h0m3 66h0m4 56h0m3-75h0m4-9h0m3 67h0m3 63h0m4-33h0m3-47h0m4-6h0m3 63h0m4 58h0m3-16h0m3-43h0m4-14h0m3-17h0m4-48h0m3-36h0m3-6h0m4 23h0m3 4h0m4 24h0m3-5h0m4-16h0m3 20h0m3-27h0m4 56h0m3 77h0m4 35h0m3-93h0m3-77h0m4-8h0m3-20h0m4-6h0m3 10h0m4 42h0m3 3h0m3-60h0m4 28h0m3 32h0m4 0h0m3 9h0m3-1h0m4-9h0m3 14h0m4-32h0m3-4h0m4-19h0m3-24h0m3 22h0m4 35h0m3-21h0m4-4h0m3 1h0m3 29h0m4 36h0m3-8h0m4-57h0m3-24h0m4 19h0m3 21h0m3 6h0m4-77h0m3-50h0m4 48h0m3 91h0m4 31h0m3-42h0m3-9h0m4-40h0m3-23h0m4 48h0m3 97h0m3 27h0m4-65h0m3 17h0m4 52h0m3-50h0m4-75h0m3 1h0m3 10h0m4-1h0m3 15h0m4 26h0m3 20h0m3-13h0m4-43h0m3 17h0m4 28h0m3-15h0m4-33h0m3 20h0m3 51h0m4 67h0m3-72h0m4-48h0m3 18h0m3 74h0m4-48h0m3-37h0m4-27h0m3 49h0m4-45h0m3 20h0m3 39h0m4 4h0m3-47h0m4-66h0m3 5h0m3 69h0m4 40h0m3 29h0m4-16h0m3-38h0m4-94h0m3-30h0m3-21h0m4 18h0m3 79h0m4 109h0m3 10h0m4-68h0m3 18h0m3 60h0m4-18h0m3-52h0m4-42h0m3 8h0m3 21h0m4 91h0m3 39h0m4-4h0m3 9h0m4-59h0m3-62h0m3-5h0m4-35h0m3-9h0m4 26h0m3 6h0m3 49h0m4-57h0m3-32h0m4 54h0m3 20h0m4-74h0m3-12h0m3 16h0m4 2h0m3-26h0m4 57h0m3-25h0m3 70h0m4-16h0m3-5h0m4 11h0m3 66h0m4-18h0m3 2h0m3 3h0m4-36h0m3 21h0m4-27h0m3-7h0m3 33h0m4 50h0m3-21h0m4-17h0m3 5h0m4 50h0m3-4h0m3 6h0m4-15h0m3-16h0m4-31h0m3 3h0m3 0h0m4-30h0m3 18h0m4-27h0m3 5h0m4 28h0m3-21h0m3-64h0m4 38h0m3 28h0m4 56h0m3 40h0m4 52h0m3 19h0m3-97h0m4-5h0m3 15h0m4-73h0m3-40h0m3 22h0m4 49h0m3 49h0m4-61h0m3 3h0m4 44h0m3-13h0m3-36h0m4 13h0m3 37h0m4-5h0m3 4h0m3-41h0m4-54h0m3-9h0m4 18h0m3 54h0m4-19h0m3-57h0m3-41h0m4 100h0m3 88h0m4 45h0m3-22h0m3-46h0m4-49h0m3-89h0m4-77h0m3 70h0m4 16h0m3-42h0m3-74h0m4 70h0m3 113h0m4 114h0m3 28h0m3-36h0m4-181h0m3-54h0m4 62h0m3 70h0m4-49h0m3-28h0m3 15h0m4 52h0m3 19h0m4 20h0m3 64h0m4-17h0m3 2h0m3-10h0m4-67h0m3-20h0m4 70h0m3 59h0m3-23h0m4 4h0m3-50h0m4-6h0m3-8h0m4 8h0m3 34h0m3 33h0m4-21h0m3 0h0m4-31h0m3-31h0m3-25h0m4 106h0m3 66h0m4-35h0m3-66h0m4 2h0m3-5h0m3-9h0m4-22h0m3-21h0m4 0h0m3 25h0m3-57h0m4 16h0m3 85h0m4-62h0m3-60h0m4 79h0m3 28h0m3-2h0m4-34h0m3-93h0m4-73h0m3 96h0m3 63h0m4 8h0m3-20h0m4-20h0m3 16h0m4-1h0m3-2h0m3 8h0m4-1h0m3 27h0m4-20h0m3-17h0m3-3h0m4 19h0m3 51h0m4 61h0m3 14h0m4-53h0m3-41h0m3-41h0m4-16h0m3 33h0m4 18h0m3 1h0m4-86h0m3 31h0m3 63h0m4-60h0m3-79h0m4 27h0m3 73h0m3 56h0m4 37h0m3-32h0m4 27h0m3-24h0m4 13h0m3-50h0m3 7h0m4-49h0m3-22h0m4 77h0m3-49h0m3-14h0m4-4h0m3 6h0m4 40h0m3 24h0m4 41h0m3-39h0m3-31h0m4-111h0m3-60h0m4 18h0m3 81h0m3 81h0m4 23h0m3 1h0m4 2h0m3 16h0m4 4h0m3-87h0m3-11h0m4 24h0m3-35h0m4 38h0m3 8h0m3-13h0m4 28h0m3-2h0m4-44h0m3-24h0m4 37h0m3 16h0m3 4h0m4-26h0m3-7h0m4-22h0m3-3h0m3 27h0m4 4h0m3 18h0m4 65h0m3 50h0m4-21h0m3-90h0m3-44h0m4 63h0m3 30h0m4-18h0m3-38h0m4-12h0m3 23h0m3-2h0m4-4h0m3 1h0m4-16h0m3 36h0m3 4h0m4-35h0m3-1h0m4-39h0m3-33h0m4 28h0m3 146h0m3-10h0m4-29h0m3-50h0m4-10h0m3-45h0m3-22h0m4 55h0m3-24h0m4-4h0m3 46h0m4 34h0m3 49h0m3-64h0m4 7h0m3-27h0m4 53h0m3-11h0m3-22h0m4 4h0m3-23h0m4-7h0m3-30h0m4 5h0m3 2h0m3-11h0m4 33h0m3 39h0m4 14h0m3-43h0m3 65h0m4 19h0m3 31h0m4 11h0m3-21h0m4 5h0m3-14h0m3-59h0m4-20h0m3 21h0m4 55h0m3 24h0m4 4h0m3-41h0m3-48h0m4-42h0m3 4h0m4 15h0m3 26h0m3-28h0m4-8h0m3-12h0m4-20h0m3-63h0m4 20h0m3 47h0m3 25h0m4 46h0m3-21h0m4 17h0m3 45h0m3-10h0m4-64h0m3-25h0m4 52h0m3-7h0m4 8h0m3-1h0m3 37h0m4-26h0m3-11h0m4 69h0m3-12h0m3 3h0m4 29h0m3-24h0m4-29h0m3-57h0m4-1h0m3 20h0m3-15h0m4-2h0m3-8h0m4 41h0m3 26h0m3 20h0m4 18h0m3-54h0m4-30h0m3-23h0m4 17h0m3-4h0m3-16h0m4 74h0m3 50h0m4-91h0m3-27h0m3-3h0m4 31h0m3 87h0m4-28h0m3-99h0m4-93h0m3 8h0m3 79h0m4 21h0m3 24h0m4 0h0m3 20h0m4-13h0m3-44h0m3 9h0m4-71h0m3 28h0m4 13h0m3 23h0m3-41h0m4 19h0m3-8h0m4 27h0m3-1h0m4-35h0m3 29h0m3 68h0m4 27h0m3-60h0m4-52h0m3 36h0m3 41h0m4-24h0m3-14h0m4 0h0m3-11h0m4-68h0m3 1h0m3-61h0m4-35h0m3 51h0m4 87h0m3 85h0m3 17h0m4-40h0m3-20h0m4 15h0m3 2h0m4 7h0m3-5h0m3-9h0m4-17h0m3-4h0m4-32h0m3 53h0m3-2h0m4-42h0m3 14h0m4 41h0m3 18h0m4 17h0m3 10h0m3-55h0m4-75h0m3-108h0m4 76h0m3 8h0m3 19h0m4 5h0m3 69h0m4 84h0m3 28h0m4-15h0m3-111h0m3-44h0m4-8h0m3 54h0m4 7h0m3-20h0m4-30h0m3-5h0m3 62h0m4 125h0m3 26h0m4-29h0m3-57h0m3-33h0m4-8h0m3 16h0m4-5h0m3-39h0m4 9h0m3 16h0m3-27h0m4-38h0m3-24h0m4 56h0m3 13h0m3-29h0m4-8h0m3 81h0m4-9h0m3-62h0m4-67h0m3-20h0m3-13h0m4 26h0m3 89h0m4-16h0m3-91h0m3 3h0m4 49h0m3 10h0m4 10h0m3 106h0m4 2h0m3-58h0m3 50h0m4 80h0m3-59h0m4-22h0m3-49h0m3-17h0m4-68h0m3 14h0m4 49h0m3-9h0m4-51h0m3-30h0m3 41h0m4 3h0m3-41h0m4 26h0m3 38h0m4 60h0m3 1h0m3-67h0m4 49h0m3-43h0m4-29h0m3-32h0m3 31h0m4 19h0m3 37h0m4-21h0m3-4h0m4-23h0m3-30h0m3 75h0m4-15h0m3-9h0m4 41h0m3 45h0m3 38h0m4-11h0m3-61h0m4-161h0m3-29h0m4 79h0m3 52h0m3 21h0m4-43h0m3-63h0m4-29h0m3 45h0m3-3h0m4 73h0m3 35h0m4 38h0m3-76h0m4 11h0m3 68h0m3-1h0m4-42h0m3-133h0m4 15h0m3 39h0m3 51h0m4 38h0m3 7h0m4-50h0m3-62h0m4-57h0m3 54h0m3 3h0m4 69h0m3 11h0m4 26h0m3-35h0m3-41h0m4 32h0m3 66h0m4 26h0m3-63h0m4-50h0m3 19h0m3 37h0m4-36h0m3-31h0m4-5h0m3 39h0m4 17h0m3-47h0m3 55h0m4 67h0m3 39h0m4-44h0m3-84h0m3 40h0m4 97h0m3-19h0m4-46h0m3-78h0m4 17h0m3 13h0m3 19h0m4-30h0m3 9h0m4-9h0m3-4h0m3 28h0m4 9h0m3 22h0m4-59h0m3-67h0m4 14h0m3-43h0m3-17h0m4 16h0m3-42h0m4 79h0m3 73h0m3 38h0m4-47h0m3 43h0m4 52h0m3-45h0m4-65h0m3-55h0m3 26h0m4 29h0m3-87h0m4 12h0m3 19h0m3 39h0m4-16h0m3 89h0m4 17h0m3-15h0m4 2h0m3-13h0m3 23h0m4-8h0m3-126h0m4-61h0m3 94h0m4 44h0m3 26h0m3 27h0m4-37h0m3-6h0m4-65h0m3 7h0m3-21h0m4-75h0m3-10h0m4 25h0m3 73h0m4-3h0m3-31h0m3-33h0m4 13h0m3 102h0m4 23h0m3-46h0m3 72h0m4-34h0m3-12h0m4 0h0m3-34h0m4-49h0m3 15h0m3-39h0m4-27h0m3 154h0m4-23h0m3 9h0m3 76h0m4 31h0m3-8h0m4-15h0m3-54h0m4-78h0m3-76h0m3 101h0m4-4h0m3-19h0m4 26h0m3 89h0m3-117h0m4 28h0m3-51h0m4-64h0m3-25h0m4-8h0m3-18h0m3 29h0m4 106h0m3 34h0m4 4h0m3 40h0m3 23h0m4-39h0m3-66h0m4-10h0m3 20h0m4 34h0m3-27h0m3-26h0m4 69h0m3-8h0m4 5h0m3-26h0m4 26h0m3 62h0m3-69h0m4-31h0m3-26h0m4 51h0m3-36h0m3 93h0m4-38h0m3 3h0m4-56h0m3-6h0m4 5h0m3-135h0m3 70h0m4 7h0m3 129h0m4-38h0m3-11h0m3-30h0m4-9h0m3-49h0m4 81h0m3 22h0m4 39h0m3-71h0m3-13h0m4-43h0m3 18h0m4 95h0m3 74h0m3-77h0m4-61h0m3-22h0m4-34h0m3-28h0m4-57h0m3 22h0m3-53h0m4 141h0m3-73h0m4 85h0m3 20h0m3 11h0m4 7h0m3 32h0m4-96h0m3 42h0m4-47h0m3-20h0m3-23h0m4-2h0m3-8h0m4 77h0m3 26h0m3-56h0m4 10h0m3-28h0m4-38h0m3 22h0m4 64h0m3-43h0m3 16h0m4-20h0m3 0h0m4 37h0m3-70h0m4 6h0m3-5h0m3 36h0m4-94h0m3 58h0m4-10h0m3 119h0m3 44h0m4-146h0m3-115h0m4-25h0m3-8h0m4-33h0m3 112h0m3-58h0m4-44h0m3 13h0m4 65h0m3 81h0m3-15h0m4-19h0m3 33h0m4-39h0m3 33h0m4-57h0m3-82h0m3 160h0m4 58h0m3-101h0m4 1h0m3-6h0m3 52h0m4-15h0m3-11h0m4-33h0m3-9h0m4-28h0m3-86h0m3 63h0m4-11h0m3-27h0m4-57h0m3 64h0m3 19h0m4 27h0m3-91h0m4 67h0m3-44h0m4 44h0m3-193h0m3 153h0m4 124h0m3-74h0m4 110h0m3-61h0m4-100h0m3 14h0m3 31h0m4-75h0m3 39h0m4 12h0m3 39h0m3-85h0m4-2h0m3-6h0m4-55h0m3-62h0m4 116h0m3 78h0m3-4h0m4-54h0m3-56h0m4 87h0m3-62h0m3-3h0m4-171h0m3-15h0m4-115h0m3-54h0m4 314h0m3-208h0m3 30h0m4-40h0m3 22h0m4-97h0m3-53h0m3 207h0m4-101h0m3 84h0m4 10h0m3 114h0m4-81h0m3-96h0m3 181h0m4-184h0m3-138h0m4 91h0m3-12h0m3 37h0m4-26h0m3 52h0m4-110h0m3-32h0m4 56h0m3-79h0m3 67h0m4-60h0m3 86h0m4-40h0m3 9h0m3-126h0m4-47h0m3 100h0m4 112h0m3-112h0m4-180h0m3-40h0m3-12h0m4 220h0m3-112h0m4 55h0m3 29h0m4-141h0m3 20h0m3-152h0m4 47h0m3-191h0m4 111h0m3-70h0m3-31h0m4 104h0m3-135h0m4 71h0m3-240h0m4 167h0m3-44h0m3 193h0m4-176h0m3 99h0m4-304h0m3 160h0m3-178h0m4 172h0m3-45h0m4-81h0m3-3h0m4-50h0m3-49h0m3 76h0m4-47h0m3-129h0m4-79h0m3 228h0m3-202h0m4-43h0m3 294h0m4-252h0m3-61h0m4-149h0m3 21h0m3 290h0m4-193h0m3 99h0m4-262h0m3 212h0m3-78h0m4-61h0m3-147h0m4 304h0m3-142h0m4 11h0m3 108h0m3-239h0m4 247h0m3-53h0m4 5h0m3-7h0m4-202h0m3 35h0m3 101h0m4-52h0m3 228h0m4-83h0m3 54h0m3-333h0m4 276h0m3-239h0m4 7h0m3 97h0m4 214h0m3-66h0m3 28h0m4 52h0m3 24h0m4 69h0m3 0h0m3-70h0m4 43h0m3-167h0m4 132h0m3-215h0m4 197h0m3 5h0m3-102h0m4 46h0m3 234h0m4-53h0m3 60h0m3 179h0m4-152h0m3 78h0m4-18h0m3 43h0m4 84h0m3-98h0m3 191h0m4-39h0m3-43h0m4 36h0m3-120h0m3-154h0m4 242h0m3 181h0m4-201h0m3 91h0m4-75h0m3-37h0m3 195h0m4-90h0m3 262h0m4-153h0m3 79h0m3-15h0m4-100h0m3 153h0m4 138h0m3-44h0m4-50h0m3-7h0m3 93h0m4-61h0m3 43h0m4-171h0m3 95h0m4 166h0m3-4h0m3-18h0m4 66h0m3-8h0m4 50h0m3 75h0m3-39h0m4-84h0m3 157h0m4-37h0m3 109h0m4-9h0m3-46h0m3 67h0m4-59h0m3 25h0m4 87h0m3 51h0m3 100h0m4-160h0m3-97h0m4 40h0m3 130h0m4 84h0m3-123h0m3 118h0m4-99h0m3 144h0m4-151h0m3 33h0m3-62h0m4 70h0m3-134h0m4 131h0m3-92h0m4 85h0m3 94h0m3 39h0m4 12h0m3 2h0m4-15h0m3-120h0m3-87h0m4 47h0m3-46h0m4 12h0m3 174h0m4 88h0m3-45h0m3-76h0m4-2h0m3-22h0m4 10h0m3-26h0m3-18h0m4 141h0m3 53h0m4-103h0m3 55h0m4-61h0m3 13h0m3-20h0m4 19h0m3 85h0m4-30h0m3-76h0m4 38h0m3-16h0m3 81h0m4 68h0m3-29h0m4-121h0m3 108h0m3-7h0m4 60h0m3 33h0m4-98h0m3-31h0m4 97h0m3 25h0m3-58h0m4 109h0m3-92h0m4-54h0m3 35h0m3-50h0m4-8h0m3 2h0m4 123h0m3-34h0m4-20h0m3-2h0m3-2h0m4-11h0m3-77h0m4-1h0m3 0h0m3 44h0m4-12h0m3 66h0m4 102h0m3-71h0m4 99h0m3-89h0m3-15h0m4 53h0m3-85h0m4-73h0m3-91h0m3 13h0m4 109h0m3 22h0m4-7h0m3 29h0m4-29h0m3 16h0m3-17h0m4-10h0m3-25h0m4 57h0m3-13h0m4-90h0m3 34h0m3-21h0m4 58h0m3 29h0m4-9h0m3-10h0m3 57h0m4-18h0m3-11h0m4-19h0m3-1h0m4 33h0m3-79h0m3 84h0m4-62h0m3 68h0m4-11h0m3 34h0m3-37h0m4-53h0m3 89h0m4 77h0m3 17h0m4-25h0m3-73h0m3-104h0m4-111h0m3 22h0m4 76h0m3-1h0m3 61h0m4 13h0m3-29h0m4-21h0m3 58h0m4 55h0m3-104h0m3 63h0m4 24h0m3 26h0m4 12h0m3-14h0m3-1h0m4-33h0m3-12h0m4 24h0m3 31h0m4-5h0m3-8h0m3 2h0m4 6h0m3-61h0m4 72h0m3-12h0m3-2h0m4 28h0m3 53h0m4 1h0m3-81h0m4-107h0m3-27h0m3 44h0m4 34h0m3-33h0m4 97h0m3 38h0m4-26h0m3-45h0m3-55h0m4-4h0m3-63h0m4 103h0m3 26h0m3 86h0m4 74h0m3-30h0m4-96h0m3-51h0m4-9h0m3 40h0m3-33h0m4-28h0m3 22h0m4 40h0m3 16h0m3 3h0m4-43h0m3 5h0m4-60h0m3-51h0m4-56h0m3 29h0m3 70h0m4-63h0m3 14h0m4 67h0m3-2h0m3-18h0m4-23h0m3 13h0m4 32h0m3 37h0m4-79h0m3 13h0m3 68h0m4-17h0m3 2h0m4-24h0m3 13h0m3 24h0m4 34h0m3-60h0m4-26h0m3 34h0m4 21h0m3-75h0m3-10h0m4 13h0m3 87h0m4 19h0m3-34h0m3-44h0m4 28h0m3-25h0m4-39h0m3 42h0m4 18h0m3 22h0m3-18h0m4-63h0m3 8h0m4 50h0m3 79h0m4 81h0m3-39h0m3-52h0m4-36h0m3-75h0m4 42h0m3-37h0m3 12h0m4 57h0m3-20h0m4-33h0m3-24h0m4 11h0m3 33h0m3-13h0m4 50h0m3 3h0m4 51h0m3 21h0m3 3h0m4-106h0m3-10h0m4 33h0m3 26h0m4 58h0m3 25h0m3-34h0m4-109h0m3 31h0m4-53h0m3-14h0m3 32h0m4 61h0m3 39h0m4 5h0m3-80h0m4 12h0m3-22h0m3-80h0m4 27h0m3 41h0m4-23h0m3-99h0m3-3h0m4 81h0m3 28h0m4 88h0m3 27h0m4-8h0m3-19h0m3-42h0m4 86h0m3 31h0m4-1h0m3-2h0m4 3h0m3-50h0m3-107h0m4-19h0m3 64h0m4 37h0m3-20h0m3 38h0m4 36h0m3 23h0m4 44h0m3-73h0m4-24h0m3 5h0m3-75h0m4-31h0m3 57h0m4-48h0m3-57h0m3 18h0m4 58h0m3-20h0m4 44h0m3-40h0m4 60h0m3-62h0m3 18h0m4 53h0m3-54h0m4-54h0m3-26h0m3-12h0m4 78h0m3 75h0m4-96h0m3-23h0m4 14h0m3-14h0m3-50h0m4 31h0m3-32h0m4 20h0m3-28h0m3-6h0m4 76h0m3-9h0m4-42h0m3-16h0m4 12h0m3 69h0m3-7h0m4-22h0m3 21h0m4 2h0m3 21h0m3-17h0m4-25h0m3 51h0m4 22h0m3-3h0m4 5h0m3-22h0m3-15h0m4-66h0m3-34h0m4-46h0m3 29h0m4 13h0m3 170h0m3-1h0m4 34h0m3-37h0m4-12h0m3 21h0m3 61h0m4-34h0m3-69h0m4-28h0m3-56h0m4-47h0m3 41h0m3 40h0m4-3h0m3-7h0m4 44h0m3 15h0m3 92h0m4 24h0m3-106h0m4-102h0m3 53h0m4 60h0m3-19h0m3-41h0m4 26h0m3-71h0m4 41h0m3-2h0m3-46h0m4 86h0m3 85h0m4-81h0m3-27h0m4-23h0m3-53h0m3 70h0m4 11h0m3 80h0m4-80h0m3-1h0m3 13h0m4-34h0m3-46h0m4 55h0m3 4h0m4-60h0m3-81h0m3 84h0m4 111h0m3 85h0m4-146h0m3-4h0m3 34h0m4-6h0m3 17h0m4-67h0m3 37h0m4 42h0m3 78h0m3 11h0m4 20h0m3-38h0m4-86h0m3-15h0m4 69h0m3 38h0m3-34h0m4 3h0m3-58h0m4 51h0m3-55h0m3-31h0m4-6h0m3 33h0m4 108h0m3 2h0m4-93h0m3-22h0m3-103h0m4-10h0m3 4h0m4 44h0m3 59h0m3-5h0m4 67h0m3 3h0m4-55h0m3-54h0m4-1h0m3 35h0m3-106h0m4 20h0m3 126h0m4 84h0m3-46h0m3 25h0m4 6h0m3-4h0m4-23h0m3 53h0m4-30h0m3-17h0m3-83h0m4-23h0m3 0h0m4-41h0m3 47h0m3 44h0m4-31h0m3 26h0m4-1h0m3 11h0m4-37h0m3 66h0m3-33h0m4-15h0m3-40h0m4 20h0m3-47h0m4 56h0m3-19h0m3 85h0m4-67h0m3-99h0m4-17h0m3 111h0m3 45h0m4 50h0m3 47h0m4-120h0m3-20h0m4-31h0m3 26h0m3 8h0m4 79h0m3-48h0m4-31h0m3 10h0m3 22h0m4-11h0m3 89h0m4 32h0m3 2h0m4-56h0m3 15h0m3-27h0m4-51h0m3 17h0m4 4h0m3 37h0m3-11h0m4-68h0m3-5h0m4-3h0m3 11h0m4-2h0m3 57h0m3-38h0m4-119h0m3-66h0m4 82h0m3 52h0m3 18h0m4-15h0m3 46h0m4-71h0m3-101h0m4-68h0m3 85h0m3 78h0m4 36h0m3 79h0m4-76h0m3 17h0m3-8h0m4 22h0m3-44h0m4 22h0m3-53h0m4 5h0m3-25h0m3-26h0m4 74h0m3 39h0m4-34h0m3-7h0m4 57h0m3 10h0m3-71h0m4-107h0m3 61h0m4 54h0m3 3h0m3 18h0m4 52h0m3-13h0m4-25h0m3-63h0m4 94h0m3 10h0m3-56h0m4 56h0m3-25h0m4 43h0m3-2h0m3-31h0m4 26h0m3-31h0m4-57h0m3 23h0m4 15h0m3-7h0m3-54h0m4-73h0m3 73h0m4 13h0m3 60h0m3-76h0m4-113h0m3-1h0m4 5h0m3 148h0m4-12h0m3-46h0m3 25h0m4 61h0m3-56h0m4 59h0m3-52h0m3-85h0m4-77h0m3-7h0m4 93h0m3 32h0m4 32h0m3-39h0m3 87h0m4 13h0m3-26h0m4-15h0m3-71h0m4-27h0m3 59h0m3 72h0m4-39h0m3-42h0m4 51h0m3-122h0m3-68h0m4 3h0m3-30h0m4 101h0m3 21h0m4-39h0m3-50h0m3-24h0m4 115h0m3-56h0m4 102h0m3-26h0m3 32h0m4 68h0m3-64h0m4 105h0m3-34h0m4-13h0m3-159h0m3 62h0m4-53h0m3-104h0m4 34h0m3-38h0m3 8h0m4 148h0m3 59h0m4-56h0m3-93h0m4-40h0m3-47h0m3 89h0m4 29h0m3-68h0m4 9h0m3 19h0m3 93h0m4-108h0m3-55h0m4 43h0m3 50h0m4 64h0m3-35h0m3-92h0m4-1h0m3-101h0m4 8h0m3 17h0m3 130h0m4-57h0m3-10h0m4 22h0m3 73h0m4 42h0m3-94h0m3-9h0m4-34h0m3 4h0m4-9h0m3 1h0m4 24h0m3 18h0m3-93h0m4 112h0m3-63h0m4 19h0m3-173h0m3 90h0m4-125h0m3 104h0m4-85h0m3 128h0m4 18h0m3-82h0m3 102h0m4 16h0m3-83h0m4-7h0m3-16h0m3-75h0m4-47h0m3-59h0m4 63h0m3-5h0m4 43h0m3 24h0m3-8h0m4 109h0m3-220h0m4 106h0m3-146h0m3 78h0m4 53h0m3 49h0m4-37h0m3-13h0m4 47h0m3-147h0m3 92h0m4-175h0m3-67h0m4 167h0m3 31h0m3-37h0m4-91h0m3 71h0m4-47h0m3 147h0m4-207h0m3-8h0m3-36h0m4 101h0m3 60h0m4-216h0m3-15h0m3-155h0m4 118h0m3 137h0m4-196h0m3 43h0m4-36h0m3 24h0m3-78h0m4-29h0m3-58h0m4 162h0m3 138h0m4 59h0m3-187h0m3 144h0m4-130h0m3 35h0m4-147h0m3-21h0m3 49h0m4 74h0m3-237h0m4 51h0m3 19h0m4-48h0m3 21h0m3-54h0m4 199h0m3-203h0m4 127h0m3-108h0m3 43h0m4-49h0m3-130h0m4 371h0m3-129h0m4-67h0m3-80h0m3 9h0m4-23h0m3 57h0m4 122h0m3-160h0m3-24h0m4 195h0m3-266h0m4 35h0m3-45h0m4 54h0m3 27h0m3 2h0m4-88h0m3-35h0m4 15h0m3 110h0m3-344h0m4 144h0m3 53h0m4-86h0m3 111h0m4 17h0m3 50h0m3 9h0m4-187h0m3 95h0m4 13h0m3-50h0m4-36h0m3-233h0m3 226h0m4-100h0m3 1h0m4 108h0m3 69h0m3-117h0m4-60h0m3-36h0m4-101h0m3 276h0m4 80h0m3-147h0m3 182h0m4-66h0m3-190h0m4 148h0m3-8h0m3-21h0m4-155h0m3 43h0m4-143h0m3 311h0m4 91h0m3-16h0m3-14h0m4 211h0m3-296h0m4 156h0m3-76h0m3 88h0m4-232h0m3 162h0m4 125h0m3-45h0m4-61h0m3-40h0m3 128h0m4 145h0m3-29h0m4-188h0m3 96h0m3 75h0m4-26h0m3-116h0m4 195h0m3-80h0m4 130h0m3 39h0m3-30h0m4-126h0m3 81h0m4 38h0m3 11h0m3-8h0m4 52h0m3-42h0m4 12h0m3 65h0m4 47h0m3-50h0m3 72h0m4-28h0m3-38h0m4-99h0m3 102h0m4-67h0m3 32h0m3 104h0m4 12h0m3-33h0m4-125h0m3-33h0m3 175h0m4 57h0m3 3h0m4 107h0m3-24h0m4 91h0m3-115h0m3-14h0m4 149h0m3-98h0m4-50h0m3 8h0m3 62h0m4 95h0m3-63h0m4 12h0m3-38h0m4-39h0m3 30h0m3-76h0m4 88h0m3-76h0m4 56h0m3 79h0m3 123h0m4-75h0m3-77h0m4 133h0m3 72h0m4 172h0m3-292h0m3-59h0m4 53h0m3 64h0m4 48h0m3 34h0m3-72h0m4 38h0m3 54h0m4-4h0m3-112h0m4 59h0m3 7h0m3 49h0m4 44h0m3 34h0m4 9h0m3-99h0m4 56h0m3-74h0m3 2h0m4 78h0m3 2h0m4-6h0m3 35h0m3 23h0m4-150h0m3 39h0m4-24h0m3-50h0m4 110h0m3 60h0m3-33h0m4-7h0m3 104h0m4-127h0m3-16h0m3 95h0m4 78h0m3-104h0m4-37h0m3 81h0m4-6h0m3-31h0m3-67h0m4 56h0m3-13h0m4 86h0m3 158h0m3-156h0m4-38h0m3 25h0m4 18h0m3-34h0m4 23h0m3 36h0m3-32h0m4 121h0m3-47h0m4 9h0m3-91h0m3 92h0m4 15h0m3-7h0m4-75h0m3 22h0m4-32h0m3 43h0m3 16h0m4 14h0m3-54h0m4-56h0m3 14h0m3-83h0m4-52h0m3 58h0m4 11h0m3-49h0m4 6h0m3-10h0m3 21h0m4 83h0m3 3h0m4 52h0m3-40h0m4 7h0m3-73h0m3-80h0m4 16h0m3 108h0m4 71h0m3 42h0m3-123h0m4-94h0m3-8h0m4 36h0m3-17h0m4 50h0m3 32h0m3-39h0m4-9h0m3-3h0m4-9h0m3 6h0m3-8h0m4 62h0m3 98h0m4 17h0m3 11h0m4-20h0m3-85h0m3 40h0m4-79h0m3 68h0m4 98h0m3-124h0m3 29h0m4 29h0m3-53h0m4-4h0m3-46h0m4-31h0m3-56h0m3 121h0m4 28h0m3-46h0m4 42h0m3-92h0m3-52h0m4-21h0m3-57h0m4-48h0m3 72h0m4 85h0m3 53h0m3 61h0m4-72h0m3-37h0m4-94h0m3-45h0m3-6h0m4 95h0m3 20h0m4-9h0m3-16h0m4 9h0m3 8h0m3 21h0m4-70h0m3 63h0m4 127h0m3-42h0m4-38h0m3-59h0m3 9h0m4 53h0m3 68h0m4-208h0m3-18h0m3 62h0m4-22h0m3 3h0m4 182h0m3 5h0m4-69h0m3-32h0m3-22h0m4 95h0m3-28h0m4-68h0m3-45h0m3 22h0m4 58h0m3-69h0m4-43h0m3 91h0m4 104h0m3-43h0m3 80h0m4-141h0m3 93h0m4-22h0m3-132h0m3 48h0m4-94h0m3 2h0m4 21h0m3 24h0m4-47h0m3 40h0m3-1h0m4-19h0m3 16h0m4 39h0m3 21h0m3 0h0m4-40h0m3 76h0m4-86h0m3 9h0m4-75h0m3 122h0m3 99h0m4-34h0m3 6h0m4-95h0m3 20h0m4-7h0m3-109h0m3 67h0m4-16h0m3 36h0m4 77h0m3-59h0m3-75h0m4-32h0m3 262h0m4-76h0m3 47h0m4-57h0m3 21h0m3-70h0m4 24h0m3-11h0m4 71h0m3 29h0m3-53h0m4 8h0m3 54h0m4-46h0m3 24h0m4 6h0m3-63h0m3 48h0m4 76h0m3-71h0m4 24h0m3 78h0m3 63h0m4-33h0m3-89h0m4-6h0m3 23h0m4-72h0m3 117h0m3 5h0m4-76h0m3-22h0m4 11h0m3 39h0m3-47h0m4 15h0m3-6h0m4 25h0m3 88h0m4-20h0m3-15h0m3 48h0m4 36h0m3-39h0m4 18h0m3-26h0m3-42h0m4 23h0m3 61h0m4-51h0m3-104h0m4 29h0m3 14h0m3-6h0m4 66h0m3-32h0m4 10h0m3 33h0m4-25h0m3 13h0m3 46h0m4 15h0m3-9h0m4 0h0m3-6h0m3-27h0m4 14h0m3-36h0m4-59h0m3 41h0m4 66h0m3 41h0m3 5h0m4-34h0m3 19h0m4 8h0m3 7h0m3-22h0m4-29h0m3-12h0m4 5h0m3 3h0m4-4h0m3-6h0m3 3h0m4 24h0m3 21h0m4 49h0m3-4h0m3-55h0m4-37h0m3-17h0m4-5h0m3 43h0m4 71h0m3-60h0m3 75h0m4-22h0m3-86h0m4-63h0m3 6h0m3 71h0m4 1h0m3-28h0m4-57h0m3-25h0m4 34h0m3 43h0m3 13h0m4-3h0m3 32h0m4 58h0m3 7h0m3-7h0m4 35h0m3-77h0m4-58h0m3-21h0m4 60h0m3-3h0m3 45h0m4 7h0m3-46h0m4 19h0m3-4h0m4 34h0m3 13h0m3-34h0m4-12h0m3 18h0m4-37h0m3 30h0m3-31h0m4-59h0m3-34h0m4 38h0m3 47h0m4 63h0m3 26h0m3-81h0m4 42h0m3 50h0m4-35h0m3-119h0m3-57h0m4 65h0m3 62h0m4 21h0m3-23h0m4-3h0m3 4h0m3-54h0m4 16h0m3 56h0m4 9h0m3 21h0m3 9h0m4 59h0m3 2h0m4-19h0m3 14h0m4-26h0m3-76h0m3 35h0m4-40h0m3-49h0m4-27h0m3 19h0m3 47h0m4 49h0m3-34h0m4 11h0m3-12h0m4-55h0m3 20h0m3 49h0m4-5h0m3-1h0m4-30h0m3-20h0m4-50h0m3 20h0m3 59h0m4 34h0m3-38h0m4-3h0m3 31h0m3 44h0m4 20h0m3 34h0m4 15h0m3-15h0m4 3h0m3 23h0m3-43h0m4-48h0m3-12h0m4-60h0m3 12h0m3 12h0m4-32h0m3 30h0m4 47h0m3-39h0m4-5h0m3-30h0m3-17h0m4 3h0m3 35h0m4 56h0m3 41h0m3 59h0m4-27h0m3-2h0m4 17h0m3-78h0m4-62h0m3 2h0m3 11h0m4 46h0m3 35h0m4-18h0m3-34h0m3-26h0m4 53h0m3 10h0m4-56h0m3 29h0m4 17h0m3-10h0m3-6h0m4-7h0m3-17h0m4 8h0m3 28h0m3-20h0m4 9h0m3 24h0m4 21h0m3 36h0m4-47h0m3-5h0m3 45h0m4-31h0m3-79h0m4 8h0m3 42h0m4 53h0m3-24h0m3-36h0m4 7h0m3-2h0m4 27h0m3-18h0m3-16h0m4-98h0m3-48h0m4-29h0m3 73h0m4 99h0m3 25h0m3 24h0m4-53h0m3-67h0m4-28h0m3 4h0m3-2h0m4-1h0m3 42h0m4 88h0m3 5h0m4-49h0m3-37h0m3 11h0m4 38h0m3-36h0m4-12h0m3 15h0m3 27h0m4 42h0m3-28h0m4-121h0m3-35h0m4 50h0m3 80h0m3 46h0m4 8h0m3 12h0m4 23h0m3-59h0m3-71h0m4 50h0m3 2h0m4-25h0m3-46h0m4 6h0m3 45h0m3 40h0m4 47h0m3 37h0m4 15h0m3-38h0m4-11h0m3 5h0m3-7h0m4-33h0m3-96h0m4-79h0m3-10h0m3 45h0m4 60h0m3 27h0m4-2h0m3-70h0m4-14h0m3 57h0m3 43h0m4-26h0m3-37h0m4-51h0m3 43h0m3 33h0m4 58h0m3 26h0m4-29h0m3 3h0m4 16h0m3 50h0m3 26h0m4-25h0m3-2h0m4-42h0m3-55h0m3 22h0m4 52h0m3 56h0m4 32h0m3-36h0m4-94h0m3-77h0m3-65h0m4 11h0m3 55h0m4 77h0m3 21h0m3-32h0m4 19h0m3 60h0m4 57h0m3-58h0m4-42h0m3 7h0m3-7h0m4-21h0m3-52h0m4 9h0m3 50h0m3-32h0m4 4h0m3 49h0m4 20h0m3-30h0m4-47h0m3-14h0m3-68h0m4-15h0m3 18h0m4 45h0m3-10h0m4 20h0m3 7h0m3 20h0m4-1h0m3 15h0m4-13h0m3 53h0m3-5h0m4 13h0m3-23h0m4-47h0m3-33h0m4-2h0m3 23h0m3 42h0m4-21h0m3 19h0m4-7h0m3-22h0m3-102h0m4 39h0m3 84h0m4 19h0m3-60h0m4-2h0m3 40h0m3-20h0m4-87h0m3-18h0m4 6h0m3 12h0m3 57h0m4 28h0m3 25h0m4-9h0m3 5h0m4 51h0m3 55h0m3 0h0m4-23h0m3 3h0m4-11h0m3-24h0m3 9h0m4-18h0m3 60h0m4 41h0m3-34h0m4-84h0m3-2h0m3-18h0m4-11h0m3-50h0m4 3h0m3 26h0m3 33h0m4 71h0m3 59h0m4-33h0m3-109h0m4-83h0m3 21h0m3 60h0m4 54h0m3-19h0m4-44h0m3-35h0m4 3h0m3 24h0m3 0h0m4-25h0m3 49h0m4 34h0m3 7h0m3-17h0m4 31h0m3 43h0m4-62h0m3-80h0m4-11h0m3 18h0m3-19h0m4 31h0m3 75h0m4 78h0m3 8h0m3 13h0m4-61h0m3-47h0m4 45h0m3 16h0m4-2h0m3 57h0m3-16h0m4 8h0m3-67h0m4-72h0m3-24h0m3-17h0m4-44h0m3 70h0m4-1h0m3-42h0m4-102h0m3 58h0m3 79h0m4 40h0m3 60h0m4-33h0m3-58h0m3-36h0m4 25h0m3 71h0m4 61h0m3 29h0m4-28h0m3-108h0m3 11h0m4 4h0m3 11h0m4 51h0m3 29h0m4-7h0m3 32h0m3-23h0m4-27h0m3 77h0m4 25h0m3-29h0m3 5h0m4-26h0m3 5h0m4-62h0m3-56h0m4-4h0m3-4h0m3-35h0m4-40h0m3-3h0m4 23h0m3 32h0m3 0h0m4-22h0m3-8h0m4 12h0m3 36h0m4 35h0m3 17h0m3 19h0m4-35h0m3 15h0m4 44h0m3-20h0m3-13h0m4 2h0m3 44h0m4 13h0m3-43h0m4-41h0m3-98h0m3-36h0m4-19h0m3 24h0m4 45h0m3 48h0m3 22h0m4-51h0m3-19h0m4-31h0m3-5h0m4 53h0m3 85h0m3 8h0m4-47h0m3 71h0m4 18h0m3-67h0m3-52h0m4-55h0m3 41h0m4 181h0m3 20h0m4-99h0m3-84h0m3 89h0m4 54h0m3-33h0m4-15h0m3-28h0m4-4h0m3 9h0m3-25h0m4-7h0m3-5h0m4-4h0m3-27h0m3-63h0m4-12h0m3-14h0m4-7h0m3 21h0m4 83h0m3 22h0m3-1h0m4 54h0m3-13h0m4-65h0m3-62h0m3 46h0m4 15h0m3 9h0m4 12h0m3 36h0m4-7h0m3 26h0m3-6h0m4-25h0m3 61h0m4 65h0m3-23h0m3-41h0m4-31h0m3 21h0m4-19h0m3-27h0m4-32h0m3-17h0m3-37h0m4 17h0m3 13h0m4-15h0m3-7h0m3 66h0m4 49h0m3-28h0m4-104h0m3 2h0m4 60h0m3 20h0m3 3h0m4-17h0m3-3h0m4-39h0m3 24h0m3-15h0m4 65h0m3 63h0m4-17h0m3-53h0m4-35h0m3-14h0m3 6h0m4 13h0m3 56h0m4-23h0m3 27h0m4 20h0m3-40h0m3-7h0m4-34h0m3 35h0m4-67h0m3-42h0m3 7h0m4 37h0m3 92h0m4-68h0m3 6h0m4-21h0m3 21h0m3 26h0m4 48h0m3-30h0m4-7h0m3-66h0m3 0h0m4 47h0m3 41h0m4 29h0m3 3h0m4 14h0m3 27h0m3-64h0m4-64h0m3-7h0m4 24h0m3 64h0m3 64h0m4-32h0m3-36h0m4-59h0m3-94h0m4 24h0m3 25h0m3 19h0m4 41h0m3-100h0m4 40h0m3 22h0m3 13h0m4-47h0m3-27h0m4 4h0m3 61h0m4-12h0m3-84h0m3 18h0m4 73h0m3 23h0m4-11h0m3 2h0m4-40h0m3-24h0m3-19h0m4 48h0m3 46h0m4-39h0m3-43h0m3 12h0m4 11h0m3-22h0m4-91h0m3 41h0m4 63h0m3 38h0m3-25h0m4-8h0m3 16h0m4-8h0m3 65h0m3-17h0m4-15h0m3-12h0m4-77h0m3 26h0m4-39h0m3-11h0m3 62h0m4 73h0m3 41h0m4-3h0m3-48h0m3-23h0m4-2h0m3 34h0m4 67h0m3-46h0m4-96h0m3 3h0m3 25h0m4 12h0m3 24h0m4 35h0m3-28h0m3-41h0m4 1h0m3 21h0m4 91h0m3-31h0m4-43h0m3 13h0m3-62h0m4-29h0m3-8h0m4-70h0m3-34h0m3 62h0m4 3h0m3 60h0m4 76h0m3 9h0m4 4h0m3-53h0m3-69h0m4 25h0m3 85h0m4 16h0m3-31h0m4-68h0m3-66h0m3 84h0m4 52h0m3 25h0m4-16h0m3-14h0m3-50h0m4-5h0m3 65h0m4-66h0m3 41h0m4-3h0m3-65h0m3-66h0m4 22h0m3 24h0m4 19h0m3 67h0m3 65h0m4-81h0m3-84h0m4-26h0m3 97h0m4 64h0m3 20h0m3-82h0m4 10h0m3-38h0m4 55h0m3-4h0m3 41h0m4 19h0m3-13h0m4-10h0m3-18h0m4-6h0m3 27h0m3 56h0m4-118h0m3 7h0m4 45h0m3-131h0m3 39h0m4 58h0m3 56h0m4-8h0m3-52h0m4-11h0m3-73h0m3-25h0m4 97h0m3-23h0m4-38h0m3 50h0m4-31h0m3 67h0m3 21h0m4-19h0m3-36h0m4 51h0m3-47h0m3-25h0m4 4h0m3 65h0m4-37h0m3-42h0m4-38h0m3 17h0m3-50h0m4-48h0m3 40h0m4 91h0m3-26h0m3 12h0m4 10h0m3-27h0m4-67h0m3 5h0m4 112h0m3 4h0m3-10h0m4-23h0m3-45h0m4-29h0m3 42h0m3-38h0m4 19h0m3 21h0m4-48h0m3 100h0m4-19h0m3 6h0m3 39h0m4 26h0m3 36h0m4-93h0m3-26h0m3-78h0m4 72h0m3-57h0m4 23h0m3-28h0m4-16h0m3 20h0m3-89h0m4 121h0m3-22h0m4 58h0m3 33h0m3 14h0m4-86h0m3 32h0m4-29h0m3 44h0m4 11h0m3-105h0m3-41h0m4 62h0m3 34h0m4-17h0m3 0h0m4 19h0m3-44h0m3-12h0m4-19h0m3 15h0m4-52h0m3 83h0m3 30h0m4 34h0m3-77h0m4 104h0m3-60h0m4-22h0m3-134h0m3 38h0m4 117h0m3-45h0m4 100h0m3-4h0m3-82h0m4-18h0m3 102h0m4-69h0m3-37h0m4-41h0m3 34h0m3 59h0m4-11h0m3 49h0m4-33h0m3 86h0m3-213h0m4-60h0m3 70h0m4 53h0m3 6h0m4-59h0m3 17h0m3-23h0m4 133h0m3-20h0m4-49h0m3-124h0m3-9h0m4 48h0m3 14h0m4-17h0m3-61h0m4 8h0m3 54h0m3 155h0m4-84h0m3-61h0m4 26h0m3 0h0m3-99h0m4 79h0m3 79h0m4 54h0m3-109h0m4-59h0m3 5h0m3 39h0m4-35h0m3-125h0m4 90h0m3 112h0m4-38h0m3-98h0m3 98h0m4-33h0m3-57h0m4-45h0m3 59h0m3 22h0m4-28h0m3 4h0m4 27h0m3 37h0m4 29h0m3-4h0m3-7h0m4 6h0m3-39h0m4-126h0m3 15h0m3-55h0m4 61h0m3 81h0m4 27h0m3 0h0m4 39h0m3-105h0m3 131h0m4-83h0m3-11h0m4-6h0m3-39h0m3 29h0m4-22h0m3 33h0m4 46h0m3-100h0m4-91h0m3 27h0m3 21h0m4 132h0m3-24h0m4 73h0m3 61h0m3-165h0m4-60h0m3 3h0m4-38h0m3 89h0m4 1h0m3-64h0m3-35h0m4-101h0m3 92h0m4 37h0m3-2h0m4-73h0m3 69h0m3 119h0m4 7h0m3 37h0m4-18h0m3-128h0m3-67h0m4 6h0m3-45h0m4 85h0m3 57h0m4 40h0m3 87h0m3-124h0m4 8h0m3-80h0m4-50h0m3 36h0m3 5h0m4-24h0m3-55h0m4 29h0m3 60h0m4 77h0m3 27h0m3 86h0m4-140h0m3-33h0m4 23h0m3 61h0m3-43h0m4-47h0m3 61h0m4 85h0m3-30h0m4-70h0m3-53h0m3 29h0m4 40h0m3-77h0m4-42h0m3 50h0m3 85h0m4-30h0m3 6h0m4 102h0m3 63h0m4-31h0m3 49h0m3-44h0m4-24h0m3 21h0m4 105h0m3 6h0m3-41h0m4-27h0m3-21h0m4 28h0m3-57h0m4 71h0m3-30h0m3-67h0m4-40h0m3 55h0m4 66h0m3 78h0m4-59h0m3-25h0m3-34h0m4 52h0m3 18h0m4-58h0m3 41h0m3-49h0m4 42h0m3-57h0m4-40h0m3-50h0m4 62h0m3-6h0m3 32h0m4 80h0m3-33h0m4-54h0m3-6h0m3 67h0m4 96h0m3 7h0m4-87h0m3 5h0m4-17h0m3 0h0m3 29h0m4-9h0m3-108h0m4-43h0m3 5h0m3 72h0m4-4h0m3-20h0m4 4h0m3 45h0m4 46h0m3 56h0m3-9h0m4 0h0m3-65h0m4-13h0m3 7h0m3-13h0m4-28h0m3-21h0m4 99h0m3 16h0m4-79h0m3-37h0m3 51h0m4 65h0m3 64h0m4 17h0m3-69h0m3-44h0m4-38h0m3-30h0m4-12h0m3-8h0m4 10h0m3-51h0m3 65h0m4 54h0m3 57h0m4-6h0m3 28h0m4 3h0m3-6h0m3-85h0m4-16h0m3 9h0m4 53h0m3 14h0m3-23h0m4 17h0m3 1h0m4-24h0m3 10h0m4-8h0m3-3h0m3 22h0m4 69h0m3-7h0m4-12h0m3-40h0m3-50h0m4 4h0m3-26h0m4 3h0m3 50h0m4 36h0m3-14h0m3-27h0m4 49h0m3 82h0m4-22h0m3-71h0m3-65h0m4 12h0m3 29h0m4-38h0m3-48h0m4 15h0m3 28h0m3 15h0m4 54h0m3 31h0m4-11h0m3 22h0m3 22h0m4-23h0m3-82h0m4-65h0m3-2h0m4 66h0m3-3h0m3-9h0m4 19h0m3 70h0m4-13h0m3-90h0m4-12h0m3 77h0m3 89h0m4-38h0m3-35h0m4-5h0m3-32h0m3-62h0m4-49h0m3 61h0m4 113h0m3 40h0m4-70h0m3-67h0m3-19h0m4 2h0m3 23h0m4 24h0m3 16h0m3 11h0m4 35h0m3-16h0m4-23h0m3-10h0m4 31h0m3 18h0m3-1h0m4-34h0m3 8h0m4-7h0m3 26h0m3 33h0m4 12h0m3-77h0m4-22h0m3 43h0m4 50h0m3 14h0m3 4h0m4-62h0m3 61h0m4 32h0m3-37h0m3-27h0m4 45h0m3 35h0m4-22h0m3-68h0m4-5h0m3 44h0m3-22h0m4-71h0m3-21h0m4 7h0m3-1h0m3 36h0m4-20h0m3-17h0m4 84h0m3 28h0m4-44h0m3-72h0m3 3h0m4 37h0m3-16h0m4 12h0m3 41h0m4-11h0m3-5h0m3 50h0m4 43h0m3-70h0m4-123h0m3-11h0m3-10h0m4 15h0m3 52h0m4 7h0m3-52h0m4 18h0m3 64h0m3 17h0m4 22h0m3 37h0m4 71h0m3 22h0m3-82h0m4-120h0m3-40h0m4 46h0m3 51h0m4 36h0m3 17h0m3 27h0m4 42h0m3-7h0m4-62h0m3-80h0m3-45h0m4-19h0m3 10h0m4 13h0m3 3h0m4 53h0m3 59h0m3-41h0m4-93h0m3-15h0m4 85h0m3 47h0m3 9h0m4 2h0m3-8h0m4-42h0m3 22h0m4 37h0m3 18h0m3-49h0m4-45h0m3-13h0m4 22h0m3 23h0m3 35h0m4 37h0m3 22h0m4 3h0m3 1h0m4 5h0m3 1h0m3-1h0m4 49h0m3-7h0m4-65h0m3-69h0m4-21h0m3-2h0m3-2h0m4-35h0m3 11h0m4 57h0m3 69h0m3 55h0m4 18h0m3-6h0m4-4h0m3-20h0m4-37h0m3-66h0m3-36h0m4 15h0m3 56h0m4-16h0m3-45h0m3-31h0m4-34h0m3-33h0m4 43h0m3 78h0m4 16h0m3-58h0m3-42h0m4 53h0m3 40h0m4-63h0m3-33h0m3 24h0m4 16h0m3-29h0m4 3h0m3-15h0m4-8h0m3 6h0m3 23h0m4 5h0m3 20h0m4 58h0m3 38h0m3 34h0m4-26h0m3-51h0m4 50h0m3 48h0m4-35h0m3-74h0m3-40h0m4-9h0m3 13h0m4-19h0m3-8h0m4 72h0m3 46h0m3-13h0m4-33h0m3-94h0m4-71h0m3 23h0m3 81h0m4 62h0m3 48h0m4-81h0m3-87h0m4 14h0m3 31h0m3 27h0m4-68h0m3-59h0m4-14h0m3 8h0m3-1h0m4 40h0m3 71h0m4 23h0m3-16h0m4-36h0m3-4h0m3 49h0m4-19h0m3-72h0m4 24h0m3 118h0m3 34h0m4-14h0m3-16h0m4-102h0m3-45h0m4 19h0m3 26h0m3 16h0m4 12h0m3 24h0m4 11h0m3-45h0m3-74h0m4-12h0m3 11h0m4 32h0m3 75h0m4 34h0m3-80h0m3-78h0m4 15h0m3 56h0m4 88h0m3 26h0m3-32h0m4-88h0m3-47h0m4-6h0m3-28h0m4-19h0m3 24h0m3-5h0m4-37h0m3 18h0m4 75h0m3 20h0m4 7h0m3 14h0m3-10h0m4-36h0m3 34h0m4 74h0m3 43h0m3-25h0m4-56h0m3-84h0m4-26h0m3-20h0m4-10h0m3 57h0m3 49h0m4-47h0m3-47h0m4 14h0m3 45h0m3 8h0m4 20h0m3 48h0m4 37h0m3 24h0m4 17h0m3-55h0m3-41h0m4-12h0m3-27h0m4-6h0m3-28h0m3-79h0m4 21h0m3 137h0m4 21h0m3-22h0m4-32h0m3-37h0m3-45h0m4-5h0m3 24h0m4 72h0m3 12h0m3-14h0m4-24h0m3-30h0m4 0h0m3 59h0m4 26h0m3-38h0m3 28h0m4 40h0m3 13h0m4-27h0m3-24h0m4-5h0m3 26h0m3 2h0m4-44h0m3-52h0m4 22h0m3 13h0m3-64h0m4-112h0m3-12h0m4 77h0m3 48h0m4 19h0m3 26h0m3-1h0m4-41h0m3-38h0m4 30h0m3-15h0m3-53h0m4 45h0m3 119h0m4-40h0m3-90h0m4-62h0m3 14h0m3 66h0m4 62h0m3 1h0m4-16h0m3 24h0m3 11h0m4-50h0m3-54h0m4-50h0m3-14h0m4 42h0m3 80h0m3 59h0m4 31h0m3 0h0m4-11h0m3-21h0m3-38h0m4-5h0m3 33h0m4-59h0m3-62h0m4-11h0m3 70h0m3 98h0m4 70h0m3 31h0m4-40h0m3-132h0m3-90h0m4 13h0m3-1h0m4-26h0m3 43h0m4 69h0m3 192h0" fill="none" stroke="#7F2CA5" stroke-width="114" stroke-linecap="round"/>
<line x1="137" y1="1306.7" x2="2017" y2="1306.7" stroke="#333" stroke-width="1.8"/>
<text x="291.9" y="75.0" font-family="Carlito, 'Liberation Sans', Arial, sans-serif" font-weight="bold" font-size="62.0" textLength="273.8" fill="#000">CeO<tspan font-size="41.3" dy="12.6">2</tspan><tspan dy="-12.6"> (111)</tspan></text><text x="496.0" y="275.7" font-family="Carlito, 'Liberation Sans', Arial, sans-serif" font-weight="bold" font-size="62.0" textLength="273.8" fill="#000">CeO<tspan font-size="41.3" dy="12.6">2</tspan><tspan dy="-12.6"> (200)</tspan></text><text x="929.0" y="170.6" font-family="Carlito, 'Liberation Sans', Arial, sans-serif" font-weight="bold" font-size="62.0" textLength="273.8" fill="#000">CeO<tspan font-size="41.3" dy="12.6">2</tspan><tspan dy="-12.6"> (220)</tspan></text><text x="1249.7" y="214.7" font-family="Carlito, 'Liberation Sans', Arial, sans-serif" font-weight="bold" font-size="62.0" textLength="273.8" fill="#000">CeO<tspan font-size="41.3" dy="12.6">2</tspan><tspan dy="-12.6"> (311)</tspan></text><text x="1703.8" y="345.4" font-family="Carlito, 'Liberation Sans', Arial, sans-serif" font-weight="bold" font-size="62.0" textLength="273.8" fill="#000">CeO<tspan font-size="41.3" dy="12.6">2</tspan><tspan dy="-12.6"> (400)</tspan></text><text x="1629.6" y="252.3" font-family="Carlito, 'Liberation Sans', Arial, sans-serif" font-size="86.6" textLength="345" fill="#7F2AA6">3M Space</text><text x="1605.0" y="608.8" font-family="Carlito, 'Liberation Sans', Arial, sans-serif" font-size="86.6" textLength="397.4" fill="#68D040">3M Control</text><text x="1632.9" y="905.3" font-family="Carlito, 'Liberation Sans', Arial, sans-serif" font-size="86.6" textLength="347.8" fill="#E00000">1M Space</text><text x="1608.2" y="1202.8" font-family="Carlito, 'Liberation Sans', Arial, sans-serif" font-size="86.6" textLength="397.4" fill="#0070C0">1M Control</text><text transform="translate(79.6 926.6) rotate(-90)" font-family="Carlito, 'Liberation Sans', Arial, sans-serif" font-weight="bold" font-size="62" textLength="498.6" fill="#000">XRD Intensity (a.u.)</text><text x="893.9" y="1499" font-family="Carlito, 'Liberation Sans', Arial, sans-serif" font-weight="bold" font-size="67.5" textLength="367" fill="#000">2Θ (Degrees)</text><text x="136.2" y="1409" text-anchor="middle" font-family="'Liberation Sans', Arial, sans-serif" font-weight="bold" font-size="70" textLength="75.3" lengthAdjust="spacingAndGlyphs" fill="#000">20</text><text x="478.5" y="1409" text-anchor="middle" font-family="'Liberation Sans', Arial, sans-serif" font-weight="bold" font-size="70" textLength="75.3" lengthAdjust="spacingAndGlyphs" fill="#000">30</text><text x="820" y="1409" text-anchor="middle" font-family="'Liberation Sans', Arial, sans-serif" font-weight="bold" font-size="70" textLength="75.3" lengthAdjust="spacingAndGlyphs" fill="#000">40</text><text x="1162" y="1409" text-anchor="middle" font-family="'Liberation Sans', Arial, sans-serif" font-weight="bold" font-size="70" textLength="75.3" lengthAdjust="spacingAndGlyphs" fill="#000">50</text><text x="1503.6" y="1409" text-anchor="middle" font-family="'Liberation Sans', Arial, sans-serif" font-weight="bold" font-size="70" textLength="75.3" lengthAdjust="spacingAndGlyphs" fill="#000">60</text><text x="1845.3" y="1409" text-anchor="middle" font-family="'Liberation Sans', Arial, sans-serif" font-weight="bold" font-size="70" textLength="75.3" lengthAdjust="spacingAndGlyphs" fill="#000">70</text>
</svg>
</body></html>
